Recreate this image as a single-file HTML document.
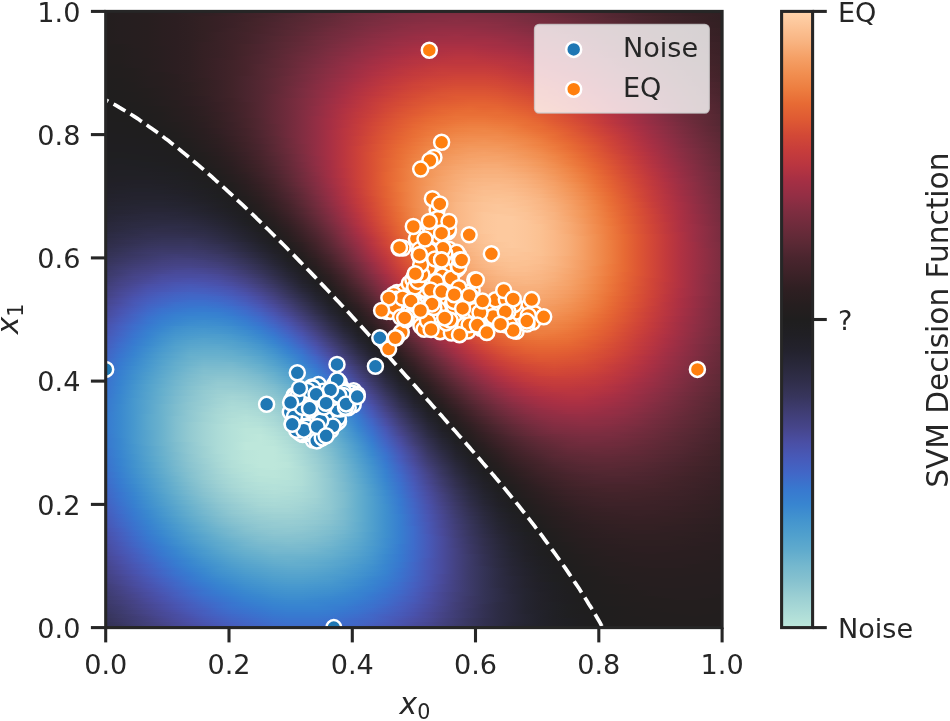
<!DOCTYPE html>
<html><head><meta charset="utf-8"><title>SVM Decision Function</title>
<style>
html,body{margin:0;padding:0;background:#fff}
body{width:950px;height:721px;position:relative;overflow:hidden}
#heat{position:absolute;left:106px;top:12px;width:616px;height:616px}
#heat i{display:block;height:2px}
</style></head><body>
<div id="heat"><i style="background:linear-gradient(90deg,#231e1e,#251e1f,#261e1f,#271e1f,#291e20,#2c1e21,#2f1f22,#311f23,#352024,#392126,#3d2228,#43232a,#48242c,#4d252f,#542732,#5a2834,#5f2936,#672a39,#6d2b3b,#702b3c,#752c3e,#782c3f,#7b2d40,#7e2d40,#7e2d40,#7e2d40,#7e2d40,#7e2d40,#7b2d40,#782c3f,#722c3d,#6d2b3b,#6a2b3a,#642a38,#5f2936,#5a2834,#522731,#4d252f,#48242c,#43232a,#3f2228,#3b2127,#372025,#332023,#311f23)"></i><i style="background:linear-gradient(90deg,#231e1e,#251e1f,#261e1f,#271e1f,#2a1e20,#2c1e21,#2f1f22,#311f23,#352024,#392126,#3f2228,#43232a,#48242c,#4f2630,#542732,#5c2935,#622937,#672a39,#6d2b3b,#722c3d,#782c3f,#7b2d40,#7e2d40,#812d41,#812d41,#812d41,#812d41,#7e2d40,#7b2d40,#782c3f,#752c3e,#702b3c,#6a2b3a,#642a38,#5f2936,#5a2834,#542732,#4f2630,#48242c,#43232a,#3f2228,#3b2127,#372025,#352024,#311f23)"></i><i style="background:linear-gradient(90deg,#231e1e,#251e1f,#261e1f,#271e1f,#2a1e20,#2c1e21,#2f1f22,#332023,#372025,#3b2127,#3f2228,#43232a,#4a252e,#4f2630,#572833,#5c2935,#622937,#6a2b3a,#702b3c,#752c3e,#782c3f,#7e2d40,#812d41,#812d41,#842d42,#842d42,#842d42,#812d41,#7e2d40,#7b2d40,#782c3f,#722c3d,#6d2b3b,#672a39,#622937,#5c2935,#542732,#4f2630,#4a252e,#46242b,#412329,#3d2228,#392126,#352024,#311f23)"></i><i style="background:linear-gradient(90deg,#231e1e,#251e1f,#261e1f,#271e1f,#2a1e20,#2c1e21,#2f1f22,#332023,#372025,#3b2127,#3f2228,#46242b,#4a252e,#522731,#572833,#5f2936,#642a38,#6a2b3a,#702b3c,#752c3e,#7b2d40,#7e2d40,#812d41,#842d42,#872d42,#872d42,#872d42,#842d42,#812d41,#7e2d40,#782c3f,#752c3e,#702b3c,#6a2b3a,#642a38,#5c2935,#572833,#522731,#4a252e,#46242b,#412329,#3d2228,#392126,#352024,#311f23)"></i><i style="background:linear-gradient(90deg,#231e1e,#251e1f,#261e1f,#271e1f,#2a1e20,#2c1e21,#2f1f22,#332023,#372025,#3b2127,#3f2228,#46242b,#4a252e,#522731,#572833,#5f2936,#642a38,#6d2b3b,#722c3d,#782c3f,#7e2d40,#812d41,#842d42,#872d42,#872d42,#8a2e43,#872d42,#872d42,#842d42,#812d41,#7b2d40,#782c3f,#722c3d,#6d2b3b,#642a38,#5f2936,#5a2834,#522731,#4d252f,#48242c,#412329,#3d2228,#392126,#352024,#332023)"></i><i style="background:linear-gradient(90deg,#231e1e,#251e1f,#261e1f,#271e1f,#2a1e20,#2c1e21,#2f1f22,#332023,#372025,#3b2127,#412329,#46242b,#4d252f,#522731,#5a2834,#5f2936,#672a39,#6d2b3b,#752c3e,#7b2d40,#7e2d40,#842d42,#872d42,#8a2e43,#8a2e43,#8a2e43,#8a2e43,#8a2e43,#872d42,#842d42,#7e2d40,#782c3f,#722c3d,#6d2b3b,#672a39,#622937,#5a2834,#542732,#4d252f,#48242c,#43232a,#3f2228,#3b2127,#372025,#332023)"></i><i style="background:linear-gradient(90deg,#231e1e,#251e1f,#261e1f,#271e1f,#2a1e20,#2c1e21,#2f1f22,#332023,#372025,#3b2127,#412329,#46242b,#4d252f,#542732,#5a2834,#622937,#672a39,#702b3c,#752c3e,#7b2d40,#812d41,#872d42,#8a2e43,#8d2e43,#8d2e43,#8d2e43,#8d2e43,#8d2e43,#8a2e43,#842d42,#812d41,#7b2d40,#752c3e,#702b3c,#6a2b3a,#622937,#5c2935,#542732,#4f2630,#4a252e,#43232a,#3f2228,#3b2127,#372025,#332023)"></i><i style="background:linear-gradient(90deg,#231e1e,#251e1f,#261e1f,#271e1f,#2a1e20,#2c1e21,#2f1f22,#332023,#372025,#3b2127,#412329,#48242c,#4d252f,#542732,#5c2935,#622937,#6a2b3a,#702b3c,#782c3f,#7e2d40,#842d42,#872d42,#8d2e43,#8d2e43,#902e44,#902e44,#902e44,#8d2e43,#8a2e43,#872d42,#842d42,#7e2d40,#782c3f,#722c3d,#6a2b3a,#642a38,#5c2935,#572833,#4f2630,#4a252e,#46242b,#3f2228,#3b2127,#372025,#332023)"></i><i style="background:linear-gradient(90deg,#231e1e,#251e1f,#261e1f,#271e1f,#2a1e20,#2c1e21,#2f1f22,#332023,#372025,#3d2228,#412329,#48242c,#4f2630,#542732,#5c2935,#642a38,#6d2b3b,#722c3d,#782c3f,#812d41,#842d42,#8a2e43,#8d2e43,#902e44,#932e44,#932e44,#932e44,#902e44,#8d2e43,#8a2e43,#872d42,#812d41,#7b2d40,#722c3d,#6d2b3b,#672a39,#5f2936,#572833,#522731,#4a252e,#46242b,#412329,#3d2228,#392126,#352024)"></i><i style="background:linear-gradient(90deg,#231e1e,#251e1f,#261e1f,#271e1f,#2a1e20,#2c1e21,#2f1f22,#332023,#372025,#3d2228,#412329,#48242c,#4f2630,#572833,#5c2935,#642a38,#6d2b3b,#752c3e,#7b2d40,#812d41,#872d42,#8d2e43,#902e44,#932e44,#962e44,#962e44,#962e44,#932e44,#902e44,#8d2e43,#872d42,#812d41,#7b2d40,#752c3e,#702b3c,#672a39,#622937,#5a2834,#522731,#4d252f,#46242b,#412329,#3d2228,#392126,#352024)"></i><i style="background:linear-gradient(90deg,#231e1e,#251e1f,#261e1f,#271e1f,#2a1e20,#2c1e21,#2f1f22,#332023,#392126,#3d2228,#43232a,#48242c,#4f2630,#572833,#5f2936,#672a39,#702b3c,#752c3e,#7e2d40,#842d42,#8a2e43,#902e44,#932e44,#962e44,#992e44,#992e44,#992e44,#962e44,#932e44,#902e44,#8a2e43,#842d42,#7e2d40,#782c3f,#702b3c,#6a2b3a,#622937,#5c2935,#542732,#4d252f,#48242c,#43232a,#3d2228,#392126,#352024)"></i><i style="background:linear-gradient(90deg,#231e1e,#251e1f,#261e1f,#271e1f,#2a1e20,#2c1e21,#2f1f22,#332023,#392126,#3d2228,#43232a,#4a252e,#4f2630,#572833,#5f2936,#672a39,#702b3c,#782c3f,#7e2d40,#872d42,#8d2e43,#902e44,#962e44,#992e44,#992e44,#9c2f45,#992e44,#992e44,#962e44,#932e44,#8d2e43,#872d42,#812d41,#7b2d40,#722c3d,#6d2b3b,#642a38,#5c2935,#542732,#4f2630,#48242c,#43232a,#3f2228,#392126,#352024)"></i><i style="background:linear-gradient(90deg,#231e1e,#251e1f,#261e1f,#271e1f,#2a1e20,#2c1e21,#2f1f22,#332023,#392126,#3d2228,#43232a,#4a252e,#522731,#5a2834,#622937,#6a2b3a,#722c3d,#782c3f,#812d41,#872d42,#8d2e43,#932e44,#992e44,#9c2f45,#9c2f45,#9f2f44,#9c2f45,#9c2f45,#992e44,#962e44,#902e44,#8a2e43,#842d42,#7b2d40,#752c3e,#6d2b3b,#672a39,#5f2936,#572833,#4f2630,#4a252e,#43232a,#3f2228,#3b2127,#372025)"></i><i style="background:linear-gradient(90deg,#231e1e,#251e1f,#261e1f,#271e1f,#2a1e20,#2c1e21,#2f1f22,#332023,#392126,#3d2228,#43232a,#4a252e,#522731,#5a2834,#622937,#6a2b3a,#722c3d,#7b2d40,#842d42,#8a2e43,#902e44,#962e44,#992e44,#9c2f45,#9f2f44,#9f2f44,#9f2f44,#9f2f44,#9c2f45,#962e44,#932e44,#8d2e43,#872d42,#7e2d40,#782c3f,#702b3c,#672a39,#5f2936,#5a2834,#522731,#4a252e,#46242b,#3f2228,#3b2127,#372025)"></i><i style="background:linear-gradient(90deg,#231e1e,#251e1f,#261e1f,#271e1f,#2a1e20,#2c1e21,#2f1f22,#332023,#392126,#3f2228,#43232a,#4a252e,#522731,#5a2834,#622937,#6d2b3b,#752c3e,#7b2d40,#842d42,#8d2e43,#932e44,#992e44,#9c2f45,#9f2f44,#a22f44,#a22f44,#a22f44,#a22f44,#9f2f44,#992e44,#962e44,#902e44,#872d42,#812d41,#782c3f,#722c3d,#6a2b3a,#622937,#5a2834,#522731,#4d252f,#46242b,#412329,#3b2127,#372025)"></i><i style="background:linear-gradient(90deg,#231e1e,#251e1f,#261e1f,#271e1f,#2a1e20,#2c1e21,#2f1f22,#352024,#392126,#3f2228,#43232a,#4a252e,#542732,#5c2935,#642a38,#6d2b3b,#752c3e,#7e2d40,#872d42,#8d2e43,#962e44,#9c2f45,#9f2f44,#a22f44,#a52f44,#a52f44,#a52f44,#a52f44,#a22f44,#9c2f45,#992e44,#932e44,#8a2e43,#842d42,#7b2d40,#722c3d,#6a2b3a,#642a38,#5c2935,#542732,#4d252f,#46242b,#412329,#3d2228,#392126)"></i><i style="background:linear-gradient(90deg,#231e1e,#231e1e,#261e1f,#271e1f,#2a1e20,#2c1e21,#2f1f22,#352024,#392126,#3f2228,#46242b,#4d252f,#542732,#5c2935,#642a38,#6d2b3b,#782c3f,#812d41,#872d42,#902e44,#962e44,#9c2f45,#a22f44,#a52f44,#a83044,#a83044,#a83044,#a52f44,#a22f44,#9f2f44,#992e44,#932e44,#8d2e43,#872d42,#7e2d40,#752c3e,#6d2b3b,#642a38,#5c2935,#542732,#4f2630,#48242c,#412329,#3d2228,#392126)"></i><i style="background:linear-gradient(90deg,#221e1e,#231e1e,#261e1f,#271e1f,#291e20,#2c1e21,#2f1f22,#352024,#392126,#3f2228,#46242b,#4d252f,#542732,#5c2935,#672a39,#702b3c,#782c3f,#812d41,#8a2e43,#932e44,#992e44,#9f2f44,#a52f44,#a83044,#ab3043,#ab3043,#ab3043,#a83044,#a52f44,#a22f44,#9c2f45,#962e44,#902e44,#872d42,#812d41,#782c3f,#702b3c,#672a39,#5f2936,#572833,#4f2630,#48242c,#43232a,#3d2228,#392126)"></i><i style="background:linear-gradient(90deg,#221e1e,#231e1e,#251e1f,#271e1f,#291e20,#2c1e21,#2f1f22,#352024,#392126,#3f2228,#46242b,#4d252f,#542732,#5f2936,#672a39,#702b3c,#7b2d40,#842d42,#8d2e43,#932e44,#9c2f45,#a22f44,#a83044,#ab3043,#ae3143,#ae3143,#ae3143,#ab3043,#a83044,#a52f44,#9f2f44,#992e44,#932e44,#8a2e43,#812d41,#782c3f,#702b3c,#672a39,#5f2936,#572833,#4f2630,#4a252e,#43232a,#3f2228,#392126)"></i><i style="background:linear-gradient(90deg,#221e1e,#231e1e,#251e1f,#271e1f,#291e20,#2c1e21,#2f1f22,#352024,#392126,#3f2228,#46242b,#4d252f,#572833,#5f2936,#672a39,#722c3d,#7b2d40,#842d42,#8d2e43,#962e44,#9f2f44,#a52f44,#a83044,#ae3143,#ae3143,#b13242,#b13242,#ae3143,#ab3043,#a83044,#a22f44,#9c2f45,#962e44,#8d2e43,#842d42,#7b2d40,#722c3d,#6a2b3a,#622937,#5a2834,#522731,#4a252e,#43232a,#3f2228,#3b2127)"></i><i style="background:linear-gradient(90deg,#221e1e,#231e1e,#251e1f,#271e1f,#291e20,#2c1e21,#2f1f22,#352024,#392126,#3f2228,#46242b,#4d252f,#572833,#5f2936,#6a2b3a,#722c3d,#7e2d40,#872d42,#902e44,#992e44,#9f2f44,#a52f44,#ab3043,#b13242,#b13242,#b33341,#b33341,#b13242,#ae3143,#ab3043,#a52f44,#9f2f44,#962e44,#902e44,#872d42,#7e2d40,#752c3e,#6d2b3b,#622937,#5a2834,#522731,#4d252f,#46242b,#3f2228,#3b2127)"></i><i style="background:linear-gradient(90deg,#221e1e,#231e1e,#251e1f,#271e1f,#291e20,#2c1e21,#2f1f22,#352024,#392126,#3f2228,#46242b,#4f2630,#572833,#622937,#6a2b3a,#752c3e,#7e2d40,#872d42,#932e44,#992e44,#a22f44,#a83044,#ae3143,#b13242,#b33341,#b63441,#b63441,#b33341,#b13242,#ae3143,#a83044,#a22f44,#992e44,#932e44,#8a2e43,#812d41,#752c3e,#6d2b3b,#642a38,#5c2935,#542732,#4d252f,#46242b,#412329,#3b2127)"></i><i style="background:linear-gradient(90deg,#221e1e,#231e1e,#251e1f,#271e1f,#291e20,#2c1e21,#2f1f22,#352024,#392126,#3f2228,#48242c,#4f2630,#572833,#622937,#6d2b3b,#752c3e,#812d41,#8a2e43,#932e44,#9c2f45,#a52f44,#ab3043,#b13242,#b33341,#b63441,#b93540,#b93540,#b63441,#b33341,#b13242,#ab3043,#a52f44,#9c2f45,#932e44,#8a2e43,#812d41,#782c3f,#702b3c,#672a39,#5c2935,#542732,#4d252f,#48242c,#412329,#3d2228)"></i><i style="background:linear-gradient(90deg,#221e1e,#231e1e,#251e1f,#261e1f,#291e20,#2c1e21,#2f1f22,#352024,#3b2127,#3f2228,#48242c,#4f2630,#5a2834,#622937,#6d2b3b,#782c3f,#812d41,#8d2e43,#962e44,#9f2f44,#a83044,#ae3143,#b33341,#b63441,#b93540,#bb363f,#bb363f,#b93540,#b63441,#b33341,#ae3143,#a83044,#9f2f44,#962e44,#8d2e43,#842d42,#7b2d40,#722c3d,#672a39,#5f2936,#572833,#4f2630,#48242c,#412329,#3d2228)"></i><i style="background:linear-gradient(90deg,#221e1e,#231e1e,#251e1f,#261e1f,#291e20,#2c1e21,#2f1f22,#352024,#3b2127,#412329,#48242c,#4f2630,#5a2834,#642a38,#6d2b3b,#782c3f,#842d42,#8d2e43,#962e44,#a22f44,#a83044,#b13242,#b63441,#b93540,#bb363f,#be373e,#be373e,#bb363f,#b93540,#b63441,#b13242,#a83044,#a22f44,#992e44,#902e44,#872d42,#7e2d40,#722c3d,#6a2b3a,#622937,#572833,#4f2630,#48242c,#43232a,#3d2228)"></i><i style="background:linear-gradient(90deg,#221e1e,#231e1e,#251e1f,#261e1f,#291e20,#2c1e21,#2f1f22,#352024,#3b2127,#412329,#48242c,#4f2630,#5a2834,#642a38,#702b3c,#782c3f,#842d42,#902e44,#992e44,#a22f44,#ab3043,#b13242,#b63441,#bb363f,#be373e,#be373e,#be373e,#be373e,#bb363f,#b93540,#b33341,#ab3043,#a52f44,#9c2f45,#932e44,#8a2e43,#7e2d40,#752c3e,#6a2b3a,#622937,#5a2834,#522731,#4a252e,#43232a,#3d2228)"></i><i style="background:linear-gradient(90deg,#221e1e,#221e1e,#251e1f,#261e1f,#291e20,#2c1e21,#2f1f22,#352024,#3b2127,#412329,#48242c,#522731,#5a2834,#642a38,#702b3c,#7b2d40,#872d42,#902e44,#9c2f45,#a52f44,#ae3143,#b33341,#b93540,#be373e,#c0393d,#c0393d,#c0393d,#c0393d,#be373e,#b93540,#b63441,#ae3143,#a83044,#9f2f44,#962e44,#8a2e43,#812d41,#752c3e,#6d2b3b,#642a38,#5a2834,#522731,#4a252e,#43232a,#3f2228)"></i><i style="background:linear-gradient(90deg,#211e1e,#221e1e,#251e1f,#261e1f,#291e20,#2c1e21,#2f1f22,#352024,#3b2127,#412329,#48242c,#522731,#5a2834,#642a38,#702b3c,#7b2d40,#872d42,#932e44,#9c2f45,#a83044,#ae3143,#b63441,#bb363f,#c0393d,#c33a3c,#c33a3c,#c33a3c,#c33a3c,#c0393d,#bb363f,#b93540,#b13242,#ab3043,#a22f44,#962e44,#8d2e43,#842d42,#782c3f,#702b3c,#642a38,#5c2935,#542732,#4d252f,#46242b,#3f2228)"></i><i style="background:linear-gradient(90deg,#211e1e,#221e1e,#231e1e,#261e1f,#291e20,#2c1e21,#2f1f22,#352024,#3b2127,#412329,#48242c,#522731,#5c2935,#672a39,#722c3d,#7e2d40,#8a2e43,#932e44,#9f2f44,#a83044,#b13242,#b93540,#be373e,#c33a3c,#c53c3c,#c53c3c,#c53c3c,#c53c3c,#c33a3c,#be373e,#b93540,#b33341,#ab3043,#a22f44,#992e44,#902e44,#842d42,#7b2d40,#702b3c,#672a39,#5c2935,#542732,#4d252f,#46242b,#3f2228)"></i><i style="background:linear-gradient(90deg,#211e1e,#221e1e,#231e1e,#261e1f,#291e20,#2c1e21,#2f1f22,#352024,#3b2127,#412329,#48242c,#522731,#5c2935,#672a39,#722c3d,#7e2d40,#8a2e43,#962e44,#a22f44,#ab3043,#b33341,#bb363f,#c0393d,#c33a3c,#c73d3b,#c73d3b,#c73d3b,#c73d3b,#c53c3c,#c0393d,#bb363f,#b63441,#ae3143,#a52f44,#9c2f45,#932e44,#872d42,#7b2d40,#722c3d,#672a39,#5f2936,#572833,#4d252f,#46242b,#412329)"></i><i style="background:linear-gradient(90deg,#211e1e,#221e1e,#231e1e,#261e1f,#271e1f,#2c1e21,#2f1f22,#352024,#3b2127,#412329,#48242c,#522731,#5c2935,#672a39,#722c3d,#7e2d40,#8a2e43,#962e44,#a22f44,#ae3143,#b63441,#bb363f,#c33a3c,#c53c3c,#c93f3a,#c93f3a,#c93f3a,#c93f3a,#c73d3b,#c33a3c,#be373e,#b93540,#b13242,#a83044,#9f2f44,#932e44,#8a2e43,#7e2d40,#722c3d,#6a2b3a,#5f2936,#572833,#4f2630,#48242c,#412329)"></i><i style="background:linear-gradient(90deg,#211e1e,#221e1e,#231e1e,#261e1f,#271e1f,#2a1e20,#2f1f22,#352024,#3b2127,#412329,#48242c,#522731,#5c2935,#672a39,#752c3e,#812d41,#8d2e43,#992e44,#a52f44,#ae3143,#b63441,#be373e,#c33a3c,#c73d3b,#c93f3a,#cc4139,#cc4139,#cc4139,#c93f3a,#c53c3c,#c0393d,#bb363f,#b33341,#ab3043,#a22f44,#962e44,#8d2e43,#812d41,#752c3e,#6a2b3a,#622937,#572833,#4f2630,#48242c,#412329)"></i><i style="background:linear-gradient(90deg,#211e1e,#221e1e,#231e1e,#251e1f,#271e1f,#2a1e20,#2f1f22,#352024,#3b2127,#412329,#4a252e,#522731,#5c2935,#6a2b3a,#752c3e,#812d41,#8d2e43,#992e44,#a52f44,#b13242,#b93540,#c0393d,#c53c3c,#c93f3a,#cc4139,#ce4338,#ce4338,#ce4338,#cc4139,#c73d3b,#c33a3c,#be373e,#b63441,#ae3143,#a52f44,#992e44,#8d2e43,#812d41,#782c3f,#6d2b3b,#622937,#5a2834,#522731,#48242c,#43232a)"></i><i style="background:linear-gradient(90deg,#211e1e,#211e1e,#231e1e,#251e1f,#271e1f,#2a1e20,#2f1f22,#332023,#3b2127,#412329,#4a252e,#522731,#5f2936,#6a2b3a,#752c3e,#812d41,#902e44,#9c2f45,#a83044,#b33341,#bb363f,#c33a3c,#c73d3b,#cc4139,#ce4338,#d04537,#d04537,#d04537,#ce4338,#c93f3a,#c53c3c,#c0393d,#b93540,#b13242,#a52f44,#9c2f45,#902e44,#842d42,#782c3f,#702b3c,#642a38,#5a2834,#522731,#4a252e,#43232a)"></i><i style="background:linear-gradient(90deg,#201e1e,#211e1e,#231e1e,#251e1f,#271e1f,#2a1e20,#2f1f22,#332023,#392126,#412329,#4a252e,#542732,#5f2936,#6a2b3a,#752c3e,#842d42,#902e44,#9c2f45,#a83044,#b33341,#be373e,#c33a3c,#c93f3a,#ce4338,#d04537,#d24737,#d24737,#d24737,#d04537,#cc4139,#c73d3b,#c33a3c,#bb363f,#b33341,#a83044,#9f2f44,#932e44,#872d42,#7b2d40,#702b3c,#642a38,#5c2935,#522731,#4a252e,#43232a)"></i><i style="background:linear-gradient(90deg,#201e1e,#211e1e,#221e1e,#251e1f,#271e1f,#2a1e20,#2d1f21,#332023,#392126,#412329,#4a252e,#542732,#5f2936,#6a2b3a,#782c3f,#842d42,#932e44,#9f2f44,#ab3043,#b63441,#be373e,#c53c3c,#cc4139,#d04537,#d24737,#d34936,#d34936,#d34936,#d24737,#ce4338,#c93f3a,#c53c3c,#be373e,#b63441,#ab3043,#9f2f44,#932e44,#8a2e43,#7e2d40,#722c3d,#672a39,#5c2935,#542732,#4d252f,#46242b)"></i><i style="background:linear-gradient(90deg,#201e1e,#211e1e,#221e1e,#251e1f,#271e1f,#2a1e20,#2d1f21,#332023,#392126,#412329,#4a252e,#542732,#5f2936,#6a2b3a,#782c3f,#872d42,#932e44,#9f2f44,#ae3143,#b63441,#c0393d,#c73d3b,#ce4338,#d24737,#d34936,#d54b35,#d54b35,#d54b35,#d34936,#d04537,#cc4139,#c73d3b,#c0393d,#b63441,#ae3143,#a22f44,#962e44,#8a2e43,#7e2d40,#722c3d,#672a39,#5f2936,#542732,#4d252f,#46242b)"></i><i style="background:linear-gradient(90deg,#201e1e,#211e1e,#221e1e,#251e1f,#261e1f,#2a1e20,#2d1f21,#332023,#392126,#412329,#4a252e,#542732,#5f2936,#6d2b3b,#782c3f,#872d42,#932e44,#a22f44,#ae3143,#b93540,#c33a3c,#c93f3a,#ce4338,#d24737,#d54b35,#d74e35,#d74e35,#d74e35,#d54b35,#d24737,#ce4338,#c93f3a,#c33a3c,#b93540,#b13242,#a52f44,#992e44,#8d2e43,#812d41,#752c3e,#6a2b3a,#5f2936,#572833,#4d252f,#46242b)"></i><i style="background:linear-gradient(90deg,#201e1e,#211e1e,#221e1e,#231e1e,#261e1f,#291e20,#2d1f21,#332023,#392126,#412329,#4a252e,#542732,#5f2936,#6d2b3b,#7b2d40,#872d42,#962e44,#a22f44,#b13242,#bb363f,#c33a3c,#c93f3a,#d04537,#d34936,#d74e35,#d95034,#d95034,#d95034,#d74e35,#d34936,#d04537,#cc4139,#c53c3c,#bb363f,#b33341,#a83044,#9c2f45,#902e44,#842d42,#752c3e,#6d2b3b,#622937,#572833,#4f2630,#48242c)"></i><i style="background:linear-gradient(90deg,#1f1e1e,#201e1e,#221e1e,#231e1e,#261e1f,#291e20,#2d1f21,#332023,#392126,#412329,#4a252e,#542732,#5f2936,#6d2b3b,#7b2d40,#8a2e43,#962e44,#a52f44,#b13242,#bb363f,#c53c3c,#cc4139,#d24737,#d54b35,#d95034,#da5334,#da5334,#da5334,#d95034,#d54b35,#d24737,#ce4338,#c73d3b,#be373e,#b33341,#ab3043,#9c2f45,#902e44,#842d42,#782c3f,#6d2b3b,#622937,#5a2834,#4f2630,#48242c)"></i><i style="background:linear-gradient(90deg,#1f1e1e,#201e1e,#211e1e,#231e1e,#261e1f,#291e20,#2d1f21,#332023,#392126,#412329,#4a252e,#542732,#5f2936,#6d2b3b,#7b2d40,#8a2e43,#992e44,#a52f44,#b33341,#be373e,#c73d3b,#ce4338,#d34936,#d74e35,#da5334,#dc5534,#dc5534,#dc5534,#da5334,#d74e35,#d34936,#ce4338,#c73d3b,#c0393d,#b63441,#ab3043,#9f2f44,#932e44,#872d42,#7b2d40,#702b3c,#642a38,#5a2834,#4f2630,#48242c)"></i><i style="background:linear-gradient(90deg,#1f1e1e,#201e1e,#211e1e,#231e1e,#261e1f,#291e20,#2d1f21,#332023,#392126,#412329,#4a252e,#542732,#622937,#6d2b3b,#7b2d40,#8a2e43,#992e44,#a83044,#b33341,#be373e,#c73d3b,#d04537,#d54b35,#d95034,#dc5534,#de5733,#de5733,#de5733,#dc5534,#d95034,#d54b35,#d04537,#c93f3a,#c33a3c,#b93540,#ae3143,#a22f44,#962e44,#872d42,#7b2d40,#702b3c,#642a38,#5a2834,#522731,#48242c)"></i><i style="background:linear-gradient(90deg,#1f1e1e,#201e1e,#211e1e,#231e1e,#251e1f,#291e20,#2c1e21,#311f23,#392126,#412329,#4a252e,#542732,#622937,#6d2b3b,#7b2d40,#8a2e43,#992e44,#a83044,#b63441,#c0393d,#c93f3a,#d04537,#d54b35,#da5334,#dc5534,#df5a33,#df5a33,#df5a33,#de5733,#da5334,#d74e35,#d24737,#cc4139,#c53c3c,#bb363f,#b13242,#a52f44,#962e44,#8a2e43,#7e2d40,#722c3d,#672a39,#5c2935,#522731,#4a252e)"></i><i style="background:linear-gradient(90deg,#1f1e1e,#201e1e,#211e1e,#221e1e,#251e1f,#291e20,#2c1e21,#311f23,#392126,#3f2228,#4a252e,#542732,#622937,#702b3c,#7e2d40,#8d2e43,#9c2f45,#ab3043,#b63441,#c33a3c,#cc4139,#d24737,#d74e35,#dc5534,#de5733,#df5a33,#e15c33,#e15c33,#df5a33,#dc5534,#d95034,#d34936,#ce4338,#c73d3b,#be373e,#b33341,#a52f44,#992e44,#8d2e43,#7e2d40,#722c3d,#672a39,#5c2935,#542732,#4a252e)"></i><i style="background:linear-gradient(90deg,#1f1e1e,#1f1e1e,#211e1e,#221e1e,#251e1f,#271e1f,#2c1e21,#311f23,#392126,#3f2228,#4a252e,#542732,#622937,#702b3c,#7e2d40,#8d2e43,#9c2f45,#ab3043,#b93540,#c33a3c,#cc4139,#d34936,#d95034,#dc5534,#df5a33,#e15c33,#e25f33,#e25f33,#e15c33,#de5733,#da5334,#d54b35,#d04537,#c93f3a,#c0393d,#b63441,#a83044,#9c2f45,#8d2e43,#812d41,#752c3e,#6a2b3a,#5f2936,#542732,#4a252e)"></i><i style="background:linear-gradient(90deg,#1f1e1e,#1f1e1e,#201e1e,#221e1e,#251e1f,#271e1f,#2c1e21,#311f23,#372025,#3f2228,#48242c,#542732,#622937,#702b3c,#7e2d40,#8d2e43,#9c2f45,#ab3043,#b93540,#c53c3c,#ce4338,#d54b35,#da5334,#de5733,#e15c33,#e25f33,#e36233,#e36233,#e25f33,#df5a33,#dc5534,#d74e35,#d24737,#c93f3a,#c33a3c,#b63441,#ab3043,#9f2f44,#902e44,#842d42,#752c3e,#6a2b3a,#5f2936,#542732,#4d252f)"></i><i style="background:linear-gradient(90deg,#1f1e1e,#1f1e1e,#201e1e,#221e1e,#251e1f,#271e1f,#2c1e21,#311f23,#372025,#3f2228,#48242c,#542732,#622937,#702b3c,#7e2d40,#8d2e43,#9f2f44,#ae3143,#bb363f,#c53c3c,#d04537,#d54b35,#da5334,#df5a33,#e25f33,#e36233,#e56433,#e56433,#e36233,#e15c33,#de5733,#d95034,#d34936,#cc4139,#c33a3c,#b93540,#ae3143,#9f2f44,#932e44,#842d42,#782c3f,#6d2b3b,#5f2936,#572833,#4d252f)"></i><i style="background:linear-gradient(90deg,#1f1e1e,#1f1e1e,#201e1e,#211e1e,#231e1e,#271e1f,#2a1e20,#2f1f22,#372025,#3f2228,#48242c,#542732,#622937,#702b3c,#7e2d40,#902e44,#9f2f44,#ae3143,#bb363f,#c73d3b,#d04537,#d74e35,#dc5534,#e15c33,#e36233,#e56433,#e66734,#e56433,#e56433,#e25f33,#df5a33,#da5334,#d54b35,#ce4338,#c53c3c,#bb363f,#ae3143,#a22f44,#932e44,#872d42,#782c3f,#6d2b3b,#622937,#572833,#4d252f)"></i><i style="background:linear-gradient(90deg,#1f1e1e,#1f1e1e,#201e1e,#211e1e,#231e1e,#261e1f,#2a1e20,#2f1f22,#372025,#3f2228,#48242c,#542732,#622937,#702b3c,#7e2d40,#902e44,#9f2f44,#b13242,#be373e,#c73d3b,#d24737,#d95034,#de5733,#e25f33,#e56433,#e66734,#e76a34,#e66734,#e66734,#e36233,#e15c33,#dc5534,#d74e35,#d04537,#c73d3b,#be373e,#b13242,#a52f44,#962e44,#872d42,#7b2d40,#6d2b3b,#622937,#572833,#4f2630)"></i><i style="background:linear-gradient(90deg,#1f1e1e,#1f1e1e,#1f1e1e,#211e1e,#231e1e,#261e1f,#2a1e20,#2f1f22,#372025,#3f2228,#48242c,#542732,#622937,#702b3c,#812d41,#902e44,#a22f44,#b13242,#be373e,#c93f3a,#d24737,#d95034,#df5a33,#e25f33,#e66734,#e76a34,#e86d35,#e76a34,#e76a34,#e56433,#e25f33,#de5733,#d95034,#d24737,#c93f3a,#c0393d,#b33341,#a52f44,#992e44,#8a2e43,#7b2d40,#702b3c,#642a38,#5a2834,#4f2630)"></i><i style="background:linear-gradient(90deg,#1f1e1e,#1f1e1e,#1f1e1e,#211e1e,#221e1e,#261e1f,#2a1e20,#2f1f22,#352024,#3d2228,#48242c,#542732,#622937,#702b3c,#812d41,#902e44,#a22f44,#b13242,#c0393d,#c93f3a,#d34936,#da5334,#df5a33,#e36233,#e66734,#e86d35,#e86d35,#e86d35,#e86d35,#e66734,#e36233,#df5a33,#da5334,#d34936,#cc4139,#c0393d,#b63441,#a83044,#992e44,#8d2e43,#7e2d40,#702b3c,#642a38,#5a2834,#4f2630)"></i><i style="background:linear-gradient(90deg,#1f1e1e,#1f1e1e,#1f1e1e,#201e1e,#221e1e,#261e1f,#291e20,#2f1f22,#352024,#3d2228,#48242c,#542732,#622937,#702b3c,#812d41,#902e44,#a22f44,#b33341,#c0393d,#cc4139,#d54b35,#dc5534,#e15c33,#e56433,#e76a34,#e96f36,#e96f36,#e96f36,#e86d35,#e76a34,#e56433,#e15c33,#dc5534,#d54b35,#ce4338,#c33a3c,#b63441,#ab3043,#9c2f45,#8d2e43,#7e2d40,#722c3d,#672a39,#5c2935,#522731)"></i><i style="background:linear-gradient(90deg,#1f1e1e,#1f1e1e,#1f1e1e,#201e1e,#221e1e,#251e1f,#291e20,#2d1f21,#352024,#3d2228,#48242c,#542732,#622937,#702b3c,#812d41,#932e44,#a22f44,#b33341,#c0393d,#cc4139,#d54b35,#dc5534,#e25f33,#e66734,#e86d35,#ea7238,#ea7238,#ea7238,#e96f36,#e86d35,#e66734,#e25f33,#de5733,#d74e35,#ce4338,#c53c3c,#b93540,#ab3043,#9f2f44,#902e44,#812d41,#722c3d,#672a39,#5c2935,#522731)"></i><i style="background:linear-gradient(90deg,#1f1e1f,#1f1e1e,#1f1e1e,#201e1e,#221e1e,#251e1f,#291e20,#2d1f21,#352024,#3d2228,#46242b,#522731,#622937,#702b3c,#812d41,#932e44,#a52f44,#b33341,#c33a3c,#ce4338,#d74e35,#de5733,#e36233,#e76a34,#e96f36,#ea7238,#eb753a,#eb753a,#ea7238,#e96f36,#e76a34,#e36233,#de5733,#d95034,#d04537,#c73d3b,#bb363f,#ae3143,#9f2f44,#902e44,#812d41,#752c3e,#672a39,#5c2935,#522731)"></i><i style="background:linear-gradient(90deg,#1f1e1f,#1f1e1e,#1f1e1e,#1f1e1e,#211e1e,#251e1f,#271e1f,#2d1f21,#332023,#3d2228,#46242b,#522731,#622937,#702b3c,#812d41,#932e44,#a52f44,#b63441,#c33a3c,#ce4338,#d74e35,#df5a33,#e36233,#e76a34,#ea7238,#eb753a,#ec783b,#ec783b,#eb753a,#ea7238,#e86d35,#e56433,#df5a33,#d95034,#d24737,#c93f3a,#be373e,#b13242,#a22f44,#932e44,#842d42,#752c3e,#6a2b3a,#5f2936,#542732)"></i><i style="background:linear-gradient(90deg,#1f1e1f,#1f1e1f,#1f1e1e,#1f1e1e,#211e1e,#231e1e,#271e1f,#2c1e21,#332023,#3b2127,#46242b,#522731,#622937,#702b3c,#812d41,#932e44,#a52f44,#b63441,#c33a3c,#d04537,#d95034,#df5a33,#e56433,#e86d35,#ea7238,#ec783b,#ed7b3e,#ed7b3e,#ec783b,#eb753a,#e96f36,#e66734,#e15c33,#da5334,#d34936,#c93f3a,#be373e,#b13242,#a22f44,#932e44,#872d42,#782c3f,#6a2b3a,#5f2936,#542732)"></i><i style="background:linear-gradient(90deg,#1f1e1f,#1f1e1f,#1f1e1e,#1f1e1e,#211e1e,#231e1e,#271e1f,#2c1e21,#332023,#3b2127,#46242b,#522731,#5f2936,#702b3c,#812d41,#932e44,#a52f44,#b63441,#c53c3c,#d04537,#d95034,#e15c33,#e66734,#e96f36,#eb753a,#ed7b3e,#ed7e40,#ed7e40,#ed7b3e,#ec783b,#e96f36,#e76a34,#e25f33,#dc5534,#d54b35,#cc4139,#c0393d,#b33341,#a52f44,#962e44,#872d42,#782c3f,#6d2b3b,#5f2936,#542732)"></i><i style="background:linear-gradient(90deg,#1f1e1f,#1f1e1f,#1f1e1e,#1f1e1e,#201e1e,#231e1e,#261e1f,#2c1e21,#332023,#3b2127,#46242b,#522731,#5f2936,#702b3c,#812d41,#932e44,#a52f44,#b63441,#c53c3c,#d24737,#da5334,#e15c33,#e66734,#ea7238,#ec783b,#ed7e40,#ee8142,#ee8142,#ed7e40,#ed7b3e,#ea7238,#e86d35,#e36233,#de5733,#d74e35,#ce4338,#c33a3c,#b63441,#a83044,#992e44,#8a2e43,#7b2d40,#6d2b3b,#622937,#572833)"></i><i style="background:linear-gradient(90deg,#1f1e1f,#1f1e1f,#1f1e1f,#1f1e1e,#201e1e,#221e1e,#261e1f,#2a1e20,#311f23,#3b2127,#43232a,#522731,#5f2936,#702b3c,#812d41,#932e44,#a52f44,#b93540,#c53c3c,#d24737,#da5334,#e25f33,#e76a34,#ea7238,#ed7b3e,#ee8142,#ef8445,#ef8445,#ee8142,#ed7e40,#eb753a,#e86d35,#e56433,#df5a33,#d74e35,#d04537,#c53c3c,#b93540,#a83044,#992e44,#8a2e43,#7b2d40,#702b3c,#622937,#572833)"></i><i style="background:linear-gradient(90deg,#1f1e1f,#1f1e1f,#1f1e1f,#1f1e1e,#1f1e1e,#221e1e,#261e1f,#2a1e20,#311f23,#392126,#43232a,#4f2630,#5f2936,#702b3c,#812d41,#932e44,#a83044,#b93540,#c73d3b,#d24737,#dc5534,#e25f33,#e86d35,#eb753a,#ed7e40,#ee8142,#ef8445,#ef8748,#ef8445,#ed7e40,#ec783b,#e96f36,#e66734,#e15c33,#d95034,#d04537,#c53c3c,#b93540,#ab3043,#9c2f45,#8d2e43,#7e2d40,#702b3c,#622937,#572833)"></i><i style="background:linear-gradient(90deg,#1f1e20,#1f1e1f,#1f1e1f,#1f1e1e,#1f1e1e,#211e1e,#251e1f,#2a1e20,#311f23,#392126,#43232a,#4f2630,#5f2936,#702b3c,#812d41,#932e44,#a83044,#b93540,#c73d3b,#d34936,#dc5534,#e36233,#e86d35,#ec783b,#ed7e40,#ef8445,#ef8748,#ef8748,#ef8748,#ee8142,#ed7b3e,#ea7238,#e76a34,#e25f33,#da5334,#d24737,#c73d3b,#bb363f,#ae3143,#9c2f45,#8d2e43,#7e2d40,#702b3c,#642a38,#5a2834)"></i><i style="background:linear-gradient(90deg,#1f1e20,#1f1e20,#1f1e1f,#1f1e1e,#1f1e1e,#211e1e,#251e1f,#291e20,#2f1f22,#392126,#43232a,#4f2630,#5f2936,#702b3c,#812d41,#932e44,#a83044,#b93540,#c73d3b,#d34936,#de5733,#e36233,#e96f36,#ec783b,#ee8142,#ef8748,#f0894b,#f0894b,#f0894b,#ef8445,#ed7e40,#eb753a,#e86d35,#e25f33,#dc5534,#d34936,#c93f3a,#be373e,#ae3143,#9f2f44,#902e44,#812d41,#722c3d,#642a38,#5a2834)"></i><i style="background:linear-gradient(90deg,#1f1e20,#1f1e20,#1f1e1f,#1f1e1f,#1f1e1e,#211e1e,#251e1f,#291e20,#2f1f22,#372025,#412329,#4f2630,#5c2935,#702b3c,#812d41,#932e44,#a83044,#b93540,#c93f3a,#d54b35,#de5733,#e56433,#e96f36,#ed7b3e,#ef8445,#f0894b,#f18c4e,#f18c4e,#f18c4e,#ef8748,#ee8142,#ec783b,#e86d35,#e36233,#de5733,#d54b35,#cc4139,#be373e,#b13242,#9f2f44,#902e44,#812d41,#722c3d,#672a39,#5a2834)"></i><i style="background:linear-gradient(90deg,#1f1e20,#1f1e20,#1f1e20,#1f1e1f,#1f1e1e,#201e1e,#231e1e,#291e20,#2d1f21,#372025,#412329,#4d252f,#5c2935,#6d2b3b,#812d41,#932e44,#a83044,#b93540,#c93f3a,#d54b35,#de5733,#e56433,#ea7238,#ed7e40,#ef8445,#f18c4e,#f18f51,#f18f51,#f18c4e,#f0894b,#ef8445,#ed7b3e,#e96f36,#e56433,#df5a33,#d74e35,#cc4139,#c0393d,#b13242,#a22f44,#932e44,#842d42,#752c3e,#672a39,#5c2935)"></i><i style="background:linear-gradient(90deg,#1f1e20,#1f1e20,#1f1e20,#1f1e1f,#1f1e1e,#201e1e,#231e1e,#271e1f,#2d1f21,#372025,#412329,#4d252f,#5c2935,#6d2b3b,#812d41,#932e44,#a83044,#bb363f,#c93f3a,#d54b35,#df5a33,#e66734,#ea7238,#ed7e40,#ef8748,#f18c4e,#f18f51,#f29255,#f18f51,#f18c4e,#ef8748,#ed7e40,#ea7238,#e66734,#df5a33,#d74e35,#ce4338,#c33a3c,#b33341,#a52f44,#932e44,#842d42,#752c3e,#672a39,#5c2935)"></i><i style="background:linear-gradient(90deg,#1f1e21,#1f1e20,#1f1e20,#1f1e1f,#1f1e1e,#1f1e1e,#221e1e,#271e1f,#2d1f21,#352024,#3f2228,#4d252f,#5c2935,#6d2b3b,#812d41,#932e44,#a83044,#bb363f,#c93f3a,#d54b35,#df5a33,#e66734,#eb753a,#ee8142,#f0894b,#f18f51,#f29255,#f29558,#f29255,#f18f51,#f0894b,#ee8142,#eb753a,#e76a34,#e15c33,#d95034,#d04537,#c33a3c,#b63441,#a52f44,#962e44,#842d42,#752c3e,#6a2b3a,#5c2935)"></i><i style="background:linear-gradient(90deg,#1f1e21,#1f1e21,#1f1e20,#1f1e20,#1f1e1f,#1f1e1e,#221e1e,#261e1f,#2c1e21,#352024,#3f2228,#4a252e,#5a2834,#6d2b3b,#7e2d40,#932e44,#a83044,#bb363f,#c93f3a,#d74e35,#e15c33,#e76a34,#eb753a,#ee8142,#f0894b,#f29255,#f29558,#f29558,#f29558,#f29255,#f0894b,#ee8142,#ec783b,#e86d35,#e25f33,#da5334,#d04537,#c53c3c,#b63441,#a83044,#962e44,#872d42,#782c3f,#6a2b3a,#5f2936)"></i><i style="background:linear-gradient(90deg,#1f1e21,#1f1e21,#1f1e21,#1f1e20,#1f1e1f,#1f1e1e,#211e1e,#261e1f,#2c1e21,#332023,#3f2228,#4a252e,#5a2834,#6d2b3b,#7e2d40,#932e44,#a83044,#bb363f,#cc4139,#d74e35,#e15c33,#e76a34,#ec783b,#ef8445,#f18c4e,#f29255,#f3985b,#f3985b,#f3985b,#f29255,#f18c4e,#ef8445,#ed7b3e,#e86d35,#e36233,#dc5534,#d24737,#c73d3b,#b93540,#a83044,#992e44,#872d42,#782c3f,#6a2b3a,#5f2936)"></i><i style="background:linear-gradient(90deg,#1f1e21,#1f1e21,#1f1e21,#1f1e20,#1f1e1f,#1f1e1e,#211e1e,#251e1f,#2a1e20,#332023,#3d2228,#4a252e,#5a2834,#6a2b3a,#7e2d40,#932e44,#a83044,#bb363f,#cc4139,#d74e35,#e15c33,#e86d35,#ec783b,#ef8748,#f18f51,#f29558,#f39a5f,#f39a5f,#f39a5f,#f29558,#f18f51,#ef8748,#ed7b3e,#e96f36,#e36233,#dc5534,#d34936,#c73d3b,#b93540,#ab3043,#992e44,#8a2e43,#7b2d40,#6d2b3b,#5f2936)"></i><i style="background:linear-gradient(90deg,#1f1e21,#1f1e21,#1f1e21,#1f1e21,#1f1e20,#1f1e1e,#201e1e,#251e1f,#2a1e20,#332023,#3d2228,#48242c,#5a2834,#6a2b3a,#7e2d40,#932e44,#a83044,#bb363f,#cc4139,#d74e35,#e25f33,#e86d35,#ed7b3e,#ef8748,#f18f51,#f3985b,#f39a5f,#f49d63,#f39a5f,#f3985b,#f29255,#f0894b,#ed7e40,#ea7238,#e56433,#de5733,#d34936,#c93f3a,#bb363f,#ab3043,#9c2f45,#8a2e43,#7b2d40,#6d2b3b,#5f2936)"></i><i style="background:linear-gradient(90deg,#1f1f21,#1f1f21,#1f1e21,#1f1e21,#1f1e20,#1f1e1f,#201e1e,#231e1e,#291e20,#311f23,#3b2127,#48242c,#572833,#6a2b3a,#7e2d40,#932e44,#a83044,#bb363f,#cc4139,#d95034,#e25f33,#e86d35,#ed7b3e,#f0894b,#f29255,#f3985b,#f49d63,#f5a066,#f49d63,#f39a5f,#f29558,#f18c4e,#ee8142,#eb753a,#e66734,#df5a33,#d54b35,#c93f3a,#be373e,#ae3143,#9c2f45,#8d2e43,#7b2d40,#6d2b3b,#622937)"></i><i style="background:linear-gradient(90deg,#1f1f21,#1f1f21,#1f1f21,#1f1e21,#1f1e20,#1f1e1f,#1f1e1e,#231e1e,#291e20,#311f23,#3b2127,#48242c,#572833,#672a39,#7b2d40,#932e44,#a83044,#bb363f,#cc4139,#d95034,#e25f33,#e96f36,#ed7e40,#f0894b,#f29558,#f39a5f,#f5a066,#f5a066,#f5a066,#f49d63,#f29558,#f18f51,#ef8445,#ec783b,#e76a34,#df5a33,#d74e35,#cc4139,#be373e,#ae3143,#9f2f44,#8d2e43,#7e2d40,#702b3c,#622937)"></i><i style="background:linear-gradient(90deg,#1f1f21,#1f1f21,#1f1f21,#1f1f21,#1f1e21,#1f1e1f,#1f1e1e,#221e1e,#271e1f,#2f1f22,#392126,#46242b,#542732,#672a39,#7b2d40,#902e44,#a83044,#bb363f,#cc4139,#d95034,#e25f33,#e96f36,#ed7e40,#f18c4e,#f29558,#f49d63,#f5a066,#f5a36a,#f5a36a,#f49d63,#f3985b,#f18f51,#ef8748,#ec783b,#e76a34,#e15c33,#d74e35,#ce4338,#c0393d,#b13242,#9f2f44,#8d2e43,#7e2d40,#702b3c,#622937)"></i><i style="background:linear-gradient(90deg,#1f1f21,#1f1f23,#1f1f21,#1f1f21,#1f1e21,#1f1e20,#1f1e1e,#221e1e,#271e1f,#2f1f22,#392126,#46242b,#542732,#672a39,#7b2d40,#902e44,#a83044,#bb363f,#cc4139,#d95034,#e36233,#e96f36,#ee8142,#f18c4e,#f3985b,#f49d63,#f5a36a,#f6a56d,#f5a36a,#f5a066,#f39a5f,#f29255,#ef8748,#ed7b3e,#e86d35,#e25f33,#d95034,#ce4338,#c0393d,#b13242,#a22f44,#902e44,#7e2d40,#702b3c,#642a38)"></i><i style="background:linear-gradient(90deg,#1f1f23,#1f1f23,#1f1f23,#1f1f21,#1f1e21,#1f1e20,#1f1e1e,#211e1e,#261e1f,#2d1f21,#372025,#43232a,#542732,#642a38,#7b2d40,#902e44,#a52f44,#bb363f,#cc4139,#d95034,#e36233,#ea7238,#ee8142,#f18f51,#f3985b,#f5a066,#f6a56d,#f6a56d,#f6a56d,#f5a36a,#f49d63,#f29558,#f0894b,#ed7e40,#e96f36,#e25f33,#da5334,#d04537,#c33a3c,#b33341,#a22f44,#902e44,#812d41,#722c3d,#642a38)"></i><i style="background:linear-gradient(90deg,#1f1f23,#1f1f23,#1f1f23,#1f1f23,#1f1f21,#1f1e20,#1f1e1f,#211e1e,#261e1f,#2c1e21,#372025,#43232a,#522731,#642a38,#782c3f,#902e44,#a52f44,#bb363f,#cc4139,#d95034,#e36233,#ea7238,#ee8142,#f18f51,#f39a5f,#f5a066,#f6a56d,#f6a871,#f6a871,#f6a56d,#f5a066,#f3985b,#f18c4e,#ed7e40,#ea7238,#e36233,#da5334,#d04537,#c33a3c,#b33341,#a22f44,#932e44,#812d41,#722c3d,#642a38)"></i><i style="background:linear-gradient(90deg,#1f1f23,#201f24,#1f1f23,#1f1f23,#1f1f21,#1f1e21,#1f1e1f,#201e1e,#251e1f,#2c1e21,#352024,#412329,#522731,#642a38,#782c3f,#902e44,#a52f44,#bb363f,#cc4139,#d95034,#e36233,#ea7238,#ef8445,#f18f51,#f39a5f,#f5a36a,#f6a871,#f7ab75,#f7ab75,#f6a56d,#f5a066,#f3985b,#f18f51,#ee8142,#ea7238,#e56433,#dc5534,#d24737,#c53c3c,#b63441,#a52f44,#932e44,#842d42,#722c3d,#642a38)"></i><i style="background:linear-gradient(90deg,#201f24,#201f24,#201f24,#1f1f23,#1f1f23,#1f1e21,#1f1e1f,#1f1e1e,#251e1f,#2a1e20,#352024,#412329,#4f2630,#622937,#782c3f,#8d2e43,#a52f44,#bb363f,#cc4139,#d95034,#e36233,#ea7238,#ef8445,#f29255,#f49d63,#f6a56d,#f6a871,#f7ab75,#f7ab75,#f6a871,#f5a36a,#f39a5f,#f18f51,#ef8445,#eb753a,#e56433,#de5733,#d34936,#c73d3b,#b63441,#a52f44,#962e44,#842d42,#752c3e,#672a39)"></i><i style="background:linear-gradient(90deg,#201f24,#201f24,#201f24,#201f24,#1f1f23,#1f1f21,#1f1e20,#1f1e1e,#231e1e,#2a1e20,#332023,#3f2228,#4f2630,#622937,#752c3e,#8d2e43,#a52f44,#b93540,#cc4139,#d95034,#e36233,#eb753a,#ef8445,#f29255,#f49d63,#f6a56d,#f7ab75,#f7ae79,#f7ae79,#f7ab75,#f6a56d,#f49d63,#f29255,#ef8748,#ec783b,#e66734,#de5733,#d34936,#c73d3b,#b93540,#a83044,#962e44,#842d42,#752c3e,#672a39)"></i><i style="background:linear-gradient(90deg,#201f24,#202025,#202025,#201f24,#1f1f23,#1f1f21,#1f1e20,#1f1e1e,#221e1e,#291e20,#332023,#3f2228,#4d252f,#5f2936,#752c3e,#8d2e43,#a22f44,#b93540,#cc4139,#d95034,#e36233,#eb753a,#ef8748,#f29558,#f5a066,#f6a871,#f7ae79,#f8b07c,#f8b07c,#f7ab75,#f6a56d,#f49d63,#f29558,#ef8748,#ec783b,#e76a34,#df5a33,#d54b35,#c93f3a,#b93540,#a83044,#962e44,#872d42,#752c3e,#672a39)"></i><i style="background:linear-gradient(90deg,#202025,#202025,#202025,#202025,#201f24,#1f1f23,#1f1e21,#1f1e1e,#221e1e,#291e20,#311f23,#3d2228,#4d252f,#5f2936,#722c3d,#8a2e43,#a22f44,#b93540,#cc4139,#d95034,#e56433,#eb753a,#ef8748,#f29558,#f5a066,#f6a871,#f7ae79,#f8b07c,#f8b07c,#f7ae79,#f6a871,#f5a066,#f29558,#f0894b,#ed7b3e,#e76a34,#df5a33,#d54b35,#c93f3a,#bb363f,#ab3043,#992e44,#872d42,#782c3f,#6a2b3a)"></i><i style="background:linear-gradient(90deg,#202025,#202025,#202025,#202025,#201f24,#1f1f23,#1f1e21,#1f1e1f,#211e1e,#271e1f,#2f1f22,#3d2228,#4a252e,#5c2935,#722c3d,#8a2e43,#a22f44,#b93540,#cc4139,#d95034,#e56433,#eb753a,#ef8748,#f29558,#f5a066,#f7ab75,#f8b07c,#f8b380,#f8b380,#f8b07c,#f7ab75,#f5a36a,#f3985b,#f18c4e,#ed7e40,#e86d35,#e15c33,#d74e35,#cc4139,#bb363f,#ab3043,#992e44,#872d42,#782c3f,#6a2b3a)"></i><i style="background:linear-gradient(90deg,#202025,#212026,#212026,#212026,#202025,#201f24,#1f1f21,#1f1e1f,#201e1e,#261e1f,#2f1f22,#3b2127,#4a252e,#5c2935,#722c3d,#872d42,#a22f44,#b93540,#cc4139,#d95034,#e56433,#eb753a,#ef8748,#f29558,#f5a36a,#f7ab75,#f8b07c,#f8b380,#f8b380,#f8b07c,#f7ab75,#f5a36a,#f39a5f,#f18c4e,#ed7e40,#e96f36,#e25f33,#d74e35,#cc4139,#be373e,#ab3043,#992e44,#8a2e43,#782c3f,#6a2b3a)"></i><i style="background:linear-gradient(90deg,#212026,#212026,#212026,#212026,#202025,#201f24,#1f1f21,#1f1e20,#201e1e,#261e1f,#2d1f21,#392126,#48242c,#5a2834,#702b3c,#872d42,#9f2f44,#b63441,#cc4139,#d95034,#e56433,#eb753a,#ef8748,#f3985b,#f5a36a,#f7ab75,#f8b380,#f9b684,#f9b684,#f8b380,#f7ae79,#f6a56d,#f39a5f,#f18f51,#ee8142,#e96f36,#e25f33,#d95034,#ce4338,#be373e,#ae3143,#9c2f45,#8a2e43,#782c3f,#6a2b3a)"></i><i style="background:linear-gradient(90deg,#212026,#212026,#212028,#212028,#212026,#202025,#1f1f23,#1f1e20,#1f1e1e,#251e1f,#2c1e21,#392126,#46242b,#5a2834,#702b3c,#872d42,#9f2f44,#b63441,#c93f3a,#d95034,#e56433,#eb753a,#f0894b,#f3985b,#f5a36a,#f7ae79,#f8b380,#f9b684,#f9b684,#f9b684,#f8b07c,#f6a871,#f49d63,#f18f51,#ee8142,#ea7238,#e36233,#d95034,#ce4338,#c0393d,#ae3143,#9c2f45,#8a2e43,#7b2d40,#6d2b3b)"></i><i style="background:linear-gradient(90deg,#212026,#212028,#212028,#212028,#212026,#202025,#201f24,#1f1e21,#1f1e1e,#231e1e,#2c1e21,#372025,#46242b,#572833,#6d2b3b,#842d42,#9f2f44,#b63441,#c93f3a,#d95034,#e56433,#ec783b,#f0894b,#f3985b,#f6a56d,#f7ae79,#f9b684,#fab887,#fab887,#f9b684,#f8b07c,#f6a871,#f5a066,#f29255,#ef8445,#ea7238,#e36233,#da5334,#ce4338,#c0393d,#b13242,#9c2f45,#8d2e43,#7b2d40,#6d2b3b)"></i><i style="background:linear-gradient(90deg,#212028,#212028,#222129,#222129,#212028,#212026,#201f24,#1f1f21,#1f1e1e,#221e1e,#2a1e20,#352024,#43232a,#572833,#6d2b3b,#842d42,#9c2f45,#b63441,#c93f3a,#d95034,#e56433,#ec783b,#f0894b,#f3985b,#f6a56d,#f7ae79,#f9b684,#fab887,#fabb8b,#fab887,#f8b380,#f7ab75,#f5a066,#f29558,#ef8748,#eb753a,#e56433,#da5334,#d04537,#c0393d,#b13242,#9f2f44,#8d2e43,#7b2d40,#6d2b3b)"></i><i style="background:linear-gradient(90deg,#212028,#222129,#222129,#222129,#222129,#212026,#202025,#1f1f21,#1f1e1f,#221e1e,#291e20,#352024,#43232a,#542732,#6a2b3a,#812d41,#9c2f45,#b33341,#c93f3a,#d95034,#e36233,#ec783b,#f0894b,#f39a5f,#f6a56d,#f8b07c,#f9b684,#fabb8b,#fabb8b,#fab887,#f8b380,#f7ab75,#f5a36a,#f29558,#ef8748,#eb753a,#e56433,#dc5534,#d04537,#c33a3c,#b13242,#9f2f44,#8d2e43,#7e2d40,#6d2b3b)"></i><i style="background:linear-gradient(90deg,#222129,#222129,#22222b,#22222b,#222129,#212028,#202025,#1f1f23,#1f1e20,#211e1e,#291e20,#332023,#412329,#522731,#672a39,#812d41,#992e44,#b33341,#c73d3b,#d95034,#e36233,#ec783b,#f0894b,#f39a5f,#f6a56d,#f8b07c,#fab887,#fabb8b,#fabb8b,#fabb8b,#f9b684,#f7ae79,#f5a36a,#f3985b,#f0894b,#ec783b,#e66734,#dc5534,#d24737,#c33a3c,#b33341,#9f2f44,#8d2e43,#7e2d40,#6d2b3b)"></i><i style="background:linear-gradient(90deg,#222129,#22222b,#22222b,#22222b,#22222b,#222129,#212026,#201f24,#1f1e20,#201e1e,#271e1f,#311f23,#3f2228,#522731,#672a39,#7e2d40,#992e44,#b13242,#c73d3b,#d74e35,#e36233,#ec783b,#f0894b,#f39a5f,#f6a871,#f8b07c,#fab887,#fbbe8f,#fbbe8f,#fabb8b,#f9b684,#f8b07c,#f6a56d,#f3985b,#f0894b,#ec783b,#e66734,#de5733,#d24737,#c53c3c,#b33341,#a22f44,#902e44,#7e2d40,#702b3c)"></i><i style="background:linear-gradient(90deg,#222129,#22222b,#23222d,#23222d,#22222b,#222129,#212028,#201f24,#1f1e21,#1f1e1e,#261e1f,#2f1f22,#3d2228,#4f2630,#642a38,#7e2d40,#962e44,#b13242,#c73d3b,#d74e35,#e36233,#eb753a,#f0894b,#f39a5f,#f6a871,#f8b380,#fab887,#fbbe8f,#fbbe8f,#fbbe8f,#fab887,#f8b07c,#f6a56d,#f39a5f,#f18c4e,#ed7b3e,#e76a34,#de5733,#d34936,#c53c3c,#b33341,#a22f44,#902e44,#7e2d40,#702b3c)"></i><i style="background:linear-gradient(90deg,#22222b,#23222d,#23222d,#23222d,#23222d,#22222b,#212028,#202025,#1f1f21,#1f1e1e,#251e1f,#2f1f22,#3d2228,#4d252f,#622937,#7b2d40,#962e44,#b13242,#c53c3c,#d74e35,#e36233,#eb753a,#f0894b,#f39a5f,#f6a871,#f8b380,#fabb8b,#fbbe8f,#fbc192,#fbbe8f,#fab887,#f8b380,#f6a871,#f39a5f,#f18c4e,#ed7b3e,#e76a34,#df5a33,#d34936,#c53c3c,#b63441,#a22f44,#902e44,#812d41,#702b3c)"></i><i style="background:linear-gradient(90deg,#22222b,#23222d,#24232e,#24232e,#24232e,#23222d,#222129,#212026,#1f1f21,#1f1e1e,#231e1e,#2d1f21,#3b2127,#4d252f,#622937,#782c3f,#932e44,#ae3143,#c53c3c,#d54b35,#e36233,#eb753a,#f0894b,#f39a5f,#f6a871,#f8b380,#fabb8b,#fbc192,#fbc192,#fbc192,#fabb8b,#f8b380,#f6a871,#f49d63,#f18f51,#ed7e40,#e86d35,#df5a33,#d34936,#c73d3b,#b63441,#a52f44,#932e44,#812d41,#702b3c)"></i><i style="background:linear-gradient(90deg,#23222d,#24232e,#24232e,#24232e,#24232e,#23222d,#22222b,#212026,#1f1f23,#1f1e1f,#231e1e,#2c1e21,#392126,#4a252e,#5f2936,#782c3f,#932e44,#ae3143,#c33a3c,#d54b35,#e25f33,#eb753a,#f0894b,#f39a5f,#f6a871,#f8b380,#fabb8b,#fbc192,#fcc396,#fbc192,#fabb8b,#f9b684,#f7ab75,#f49d63,#f18f51,#ed7e40,#e86d35,#e15c33,#d54b35,#c73d3b,#b63441,#a52f44,#932e44,#812d41,#722c3d)"></i><i style="background:linear-gradient(90deg,#23222d,#24232e,#242430,#242430,#242430,#24232e,#22222b,#212028,#201f24,#1f1e20,#221e1e,#2a1e20,#372025,#48242c,#5c2935,#752c3e,#902e44,#ab3043,#c33a3c,#d54b35,#e25f33,#eb753a,#f0894b,#f39a5f,#f6a871,#f8b380,#fabb8b,#fbc192,#fcc396,#fbc192,#fbbe8f,#f9b684,#f7ab75,#f5a066,#f29255,#ee8142,#e86d35,#e15c33,#d54b35,#c73d3b,#b93540,#a52f44,#932e44,#812d41,#722c3d)"></i><i style="background:linear-gradient(90deg,#24232e,#242430,#242430,#252532,#252532,#242430,#23222d,#222129,#202025,#1f1e21,#211e1e,#291e20,#352024,#46242b,#5c2935,#722c3d,#8d2e43,#ab3043,#c33a3c,#d34936,#e25f33,#eb753a,#f0894b,#f39a5f,#f6a871,#f9b684,#fbbe8f,#fcc396,#fcc396,#fcc396,#fbbe8f,#f9b684,#f7ae79,#f5a066,#f29255,#ee8142,#e96f36,#e15c33,#d74e35,#c93f3a,#b93540,#a83044,#932e44,#812d41,#722c3d)"></i><i style="background:linear-gradient(90deg,#24232e,#242430,#252532,#252532,#252532,#242430,#24232e,#22222b,#212026,#1f1e21,#201e1e,#271e1f,#352024,#43232a,#5a2834,#722c3d,#8d2e43,#a83044,#c0393d,#d34936,#e25f33,#eb753a,#f0894b,#f39a5f,#f6a871,#f9b684,#fbbe8f,#fcc396,#fcc69a,#fcc396,#fbbe8f,#fab887,#f7ae79,#f5a36a,#f29255,#ef8445,#e96f36,#e25f33,#d74e35,#c93f3a,#b93540,#a83044,#962e44,#842d42,#722c3d)"></i><i style="background:linear-gradient(90deg,#242430,#252532,#262534,#262534,#262534,#252532,#242430,#23222d,#212026,#1f1f21,#1f1e1e,#271e1f,#332023,#43232a,#572833,#702b3c,#8a2e43,#a52f44,#c0393d,#d34936,#e15c33,#ea7238,#f0894b,#f39a5f,#f6a871,#f9b684,#fbbe8f,#fcc396,#fcc69a,#fcc396,#fbc192,#fab887,#f8b07c,#f5a36a,#f29558,#ef8445,#ea7238,#e25f33,#d74e35,#c93f3a,#bb363f,#a83044,#962e44,#842d42,#722c3d)"></i><i style="background:linear-gradient(90deg,#242430,#252532,#262534,#272636,#272636,#262534,#252532,#23222d,#212028,#1f1f23,#1f1e1e,#261e1f,#311f23,#412329,#542732,#6d2b3b,#872d42,#a52f44,#be373e,#d24737,#e15c33,#ea7238,#ef8748,#f39a5f,#f6a871,#f9b684,#fbbe8f,#fcc396,#fcc69a,#fcc69a,#fbc192,#fab887,#f8b07c,#f5a36a,#f29558,#ef8445,#ea7238,#e25f33,#d95034,#cc4139,#bb363f,#a83044,#962e44,#842d42,#722c3d)"></i><i style="background:linear-gradient(90deg,#252532,#262534,#272636,#272636,#272636,#272636,#252532,#24232e,#222129,#201f24,#1f1e1f,#251e1f,#2f1f22,#3f2228,#522731,#6a2b3a,#872d42,#a22f44,#be373e,#d24737,#df5a33,#ea7238,#ef8748,#f39a5f,#f6a871,#f9b684,#fbbe8f,#fcc396,#fcc69a,#fcc69a,#fbc192,#fabb8b,#f8b07c,#f6a56d,#f3985b,#ef8748,#ea7238,#e36233,#d95034,#cc4139,#bb363f,#ab3043,#962e44,#842d42,#752c3e)"></i><i style="background:linear-gradient(90deg,#252532,#262534,#272636,#282739,#282739,#282739,#262534,#242430,#22222b,#202025,#1f1e20,#231e1e,#2d1f21,#3d2228,#522731,#6a2b3a,#842d42,#9f2f44,#bb363f,#d04537,#df5a33,#e96f36,#ef8748,#f39a5f,#f6a871,#f9b684,#fbbe8f,#fcc69a,#fcc69a,#fcc69a,#fcc396,#fabb8b,#f8b380,#f6a56d,#f3985b,#ef8748,#eb753a,#e36233,#d95034,#cc4139,#bb363f,#ab3043,#962e44,#842d42,#752c3e)"></i><i style="background:linear-gradient(90deg,#262534,#272636,#282739,#29283b,#29283b,#282739,#272636,#252532,#23222d,#212026,#1f1e21,#221e1e,#2c1e21,#3b2127,#4f2630,#672a39,#812d41,#9f2f44,#b93540,#d04537,#df5a33,#e96f36,#ef8748,#f3985b,#f6a871,#f9b684,#fbbe8f,#fcc69a,#fdc99e,#fcc69a,#fcc396,#fabb8b,#f8b380,#f6a56d,#f3985b,#ef8748,#eb753a,#e36233,#d95034,#ce4338,#be373e,#ab3043,#992e44,#872d42,#752c3e)"></i><i style="background:linear-gradient(90deg,#262534,#282739,#29283b,#29283b,#2a293d,#29283b,#282739,#262534,#24232e,#212028,#1f1e21,#211e1e,#2a1e20,#392126,#4d252f,#642a38,#7e2d40,#9c2f45,#b93540,#ce4338,#de5733,#e96f36,#ef8445,#f3985b,#f6a871,#f9b684,#fbbe8f,#fcc69a,#fdc99e,#fdc99e,#fcc396,#fbbe8f,#f8b380,#f6a871,#f3985b,#f0894b,#eb753a,#e56433,#da5334,#ce4338,#be373e,#ab3043,#992e44,#872d42,#752c3e)"></i><i style="background:linear-gradient(90deg,#272636,#282739,#29283b,#2a293d,#2a293d,#2a293d,#29283b,#272636,#242430,#222129,#1f1f21,#201e1e,#291e20,#372025,#4a252e,#622937,#7e2d40,#992e44,#b63441,#ce4338,#de5733,#e86d35,#ef8445,#f3985b,#f6a871,#f9b684,#fbbe8f,#fcc69a,#fdc99e,#fdc99e,#fcc396,#fbbe8f,#f8b380,#f6a871,#f39a5f,#f0894b,#ec783b,#e56433,#da5334,#ce4338,#be373e,#ab3043,#992e44,#872d42,#752c3e)"></i><i style="background:linear-gradient(90deg,#272636,#29283b,#2a293d,#2b2a40,#2b2a40,#2b2a40,#2a293d,#282739,#252532,#22222b,#1f1f23,#1f1e1e,#271e1f,#352024,#48242c,#5f2936,#7b2d40,#992e44,#b33341,#cc4139,#dc5534,#e86d35,#ef8445,#f3985b,#f6a871,#f9b684,#fbbe8f,#fcc69a,#fdc99e,#fdc99e,#fcc69a,#fbbe8f,#f9b684,#f6a871,#f39a5f,#f0894b,#ec783b,#e56433,#da5334,#ce4338,#be373e,#ae3143,#992e44,#872d42,#752c3e)"></i><i style="background:linear-gradient(90deg,#282739,#2a293d,#2b2a40,#2c2b42,#2c2b42,#2c2b42,#2b2a40,#29283b,#262534,#23222d,#201f24,#1f1e1e,#261e1f,#332023,#46242b,#5c2935,#782c3f,#962e44,#b33341,#c93f3a,#dc5534,#e76a34,#ee8142,#f29558,#f6a871,#f9b684,#fbbe8f,#fcc69a,#fdc99e,#fdc99e,#fcc69a,#fbbe8f,#f9b684,#f7ab75,#f39a5f,#f0894b,#ec783b,#e56433,#da5334,#ce4338,#c0393d,#ae3143,#992e44,#872d42,#782c3f)"></i><i style="background:linear-gradient(90deg,#29283b,#2a293d,#2c2b42,#2c2b42,#2d2c45,#2d2c45,#2c2b42,#2a293d,#272636,#24232e,#202025,#1f1e1f,#251e1f,#311f23,#43232a,#5a2834,#752c3e,#932e44,#b13242,#c93f3a,#da5334,#e76a34,#ee8142,#f29558,#f6a56d,#f8b380,#fbbe8f,#fcc69a,#fdc99e,#fdc99e,#fcc69a,#fbc192,#f9b684,#f7ab75,#f49d63,#f18c4e,#ec783b,#e66734,#dc5534,#d04537,#c0393d,#ae3143,#9c2f45,#872d42,#782c3f)"></i><i style="background:linear-gradient(90deg,#29283b,#2b2a40,#2c2b42,#2d2c45,#2e2d48,#2e2d48,#2d2c45,#2b2a40,#282739,#242430,#212028,#1f1e20,#231e1e,#2f1f22,#412329,#572833,#722c3d,#902e44,#ae3143,#c73d3b,#d95034,#e66734,#ee8142,#f29558,#f6a56d,#f8b380,#fbbe8f,#fcc69a,#fdc99e,#fdc99e,#fcc69a,#fbc192,#f9b684,#f7ab75,#f49d63,#f18c4e,#ed7b3e,#e66734,#dc5534,#d04537,#c0393d,#ae3143,#9c2f45,#8a2e43,#782c3f)"></i><i style="background:linear-gradient(90deg,#2a293d,#2b2a40,#2d2c45,#2e2d48,#302e4a,#2e2d48,#2d2c45,#2c2b42,#29283b,#252532,#222129,#1f1e21,#221e1e,#2d1f21,#3f2228,#542732,#702b3c,#8d2e43,#ab3043,#c53c3c,#d95034,#e66734,#ed7e40,#f29255,#f6a56d,#f8b380,#fbbe8f,#fcc69a,#fdc99e,#fdc99e,#fcc69a,#fbc192,#f9b684,#f7ab75,#f49d63,#f18c4e,#ed7b3e,#e66734,#dc5534,#d04537,#c0393d,#ae3143,#9c2f45,#8a2e43,#782c3f)"></i><i style="background:linear-gradient(90deg,#2a293d,#2c2b42,#2e2d48,#302e4a,#302e4a,#302e4a,#2e2d48,#2d2c45,#2a293d,#262534,#22222b,#1f1f21,#211e1e,#2c1e21,#3d2228,#522731,#6d2b3b,#8a2e43,#ab3043,#c53c3c,#d74e35,#e56433,#ed7e40,#f29255,#f6a56d,#f8b380,#fbbe8f,#fcc69a,#fdc99e,#fdc99e,#fcc69a,#fbc192,#fab887,#f7ab75,#f49d63,#f18c4e,#ed7b3e,#e66734,#dc5534,#d04537,#c0393d,#ae3143,#9c2f45,#8a2e43,#782c3f)"></i><i style="background:linear-gradient(90deg,#2b2a40,#2d2c45,#2e2d48,#312f4d,#312f4d,#312f4d,#302e4a,#2e2d48,#2b2a40,#272636,#23222d,#201f24,#201e1e,#2a1e20,#3b2127,#4f2630,#6a2b3a,#8a2e43,#a83044,#c33a3c,#d54b35,#e56433,#ed7b3e,#f29255,#f5a36a,#f8b380,#fbbe8f,#fcc69a,#fdc99e,#fdc99e,#fcc69a,#fbc192,#fab887,#f7ab75,#f49d63,#f18c4e,#ed7b3e,#e66734,#dc5534,#d04537,#c0393d,#b13242,#9c2f45,#8a2e43,#782c3f)"></i><i style="background:linear-gradient(90deg,#2c2b42,#2e2d48,#302e4a,#323050,#323050,#323050,#312f4d,#302e4a,#2c2b42,#282739,#24232e,#202025,#1f1e1e,#291e20,#392126,#4d252f,#672a39,#872d42,#a52f44,#c0393d,#d54b35,#e36233,#ed7b3e,#f18f51,#f5a36a,#f8b07c,#fbbe8f,#fcc396,#fdc99e,#fdc99e,#fcc69a,#fbc192,#fab887,#f7ae79,#f49d63,#f18f51,#ed7b3e,#e76a34,#de5733,#d24737,#c33a3c,#b13242,#9c2f45,#8a2e43,#782c3f)"></i><i style="background:linear-gradient(90deg,#2c2b42,#2e2d48,#312f4d,#323050,#333153,#333153,#323050,#312f4d,#2d2c45,#29283b,#242430,#212026,#1f1e1e,#271e1f,#372025,#4a252e,#642a38,#842d42,#a22f44,#be373e,#d34936,#e25f33,#ec783b,#f18f51,#f5a066,#f8b07c,#fabb8b,#fcc396,#fdc99e,#fdc99e,#fcc69a,#fbc192,#fab887,#f7ae79,#f5a066,#f18f51,#ed7b3e,#e76a34,#de5733,#d24737,#c33a3c,#b13242,#9c2f45,#8a2e43,#782c3f)"></i><i style="background:linear-gradient(90deg,#2d2c45,#302e4a,#323050,#333153,#343356,#343356,#343356,#323050,#2e2d48,#2a293d,#252532,#212028,#1f1e20,#261e1f,#352024,#48242c,#622937,#812d41,#9f2f44,#bb363f,#d24737,#e25f33,#eb753a,#f18c4e,#f5a066,#f8b07c,#fabb8b,#fcc396,#fdc99e,#fdc99e,#fcc69a,#fbc192,#fab887,#f7ae79,#f5a066,#f18f51,#ed7b3e,#e76a34,#de5733,#d24737,#c33a3c,#b13242,#9c2f45,#8a2e43,#782c3f)"></i><i style="background:linear-gradient(90deg,#2d2c45,#312f4d,#333153,#343356,#363459,#363459,#363459,#333153,#302e4a,#2b2a40,#262534,#222129,#1f1e21,#251e1f,#332023,#46242b,#5f2936,#7e2d40,#9c2f45,#b93540,#d04537,#e15c33,#eb753a,#f18c4e,#f5a066,#f7ae79,#fabb8b,#fcc396,#fdc99e,#fdc99e,#fcc69a,#fbc192,#fab887,#f7ae79,#f5a066,#f18f51,#ed7e40,#e76a34,#de5733,#d24737,#c33a3c,#b13242,#9c2f45,#8a2e43,#782c3f)"></i><i style="background:linear-gradient(90deg,#2e2d48,#312f4d,#333153,#363459,#37355c,#37355c,#37355c,#343356,#312f4d,#2d2c45,#282739,#22222b,#1f1f21,#221e1e,#2f1f22,#43232a,#5c2935,#7b2d40,#992e44,#b93540,#d04537,#df5a33,#ea7238,#f0894b,#f49d63,#f7ae79,#fab887,#fcc396,#fcc69a,#fdc99e,#fcc69a,#fbc192,#fab887,#f7ae79,#f5a066,#f18f51,#ed7e40,#e76a34,#de5733,#d24737,#c33a3c,#b13242,#9f2f44,#8a2e43,#7b2d40)"></i><i style="background:linear-gradient(90deg,#302e4a,#323050,#343356,#37355c,#38365f,#38365f,#38365f,#363459,#333153,#2e2d48,#29283b,#24232e,#1f1f23,#211e1e,#2d1f21,#412329,#5a2834,#782c3f,#962e44,#b63441,#ce4338,#df5a33,#e96f36,#f0894b,#f49d63,#f7ab75,#fab887,#fbc192,#fcc69a,#fdc99e,#fcc69a,#fbc192,#fab887,#f7ae79,#f5a066,#f18f51,#ed7e40,#e76a34,#de5733,#d24737,#c33a3c,#b13242,#9f2f44,#8a2e43,#7b2d40)"></i><i style="background:linear-gradient(90deg,#302e4a,#333153,#363459,#38365f,#393763,#393763,#393763,#37355c,#343356,#302e4a,#2a293d,#242430,#201f24,#201e1e,#2c1e21,#3f2228,#572833,#752c3e,#932e44,#b33341,#cc4139,#de5733,#e96f36,#ef8748,#f39a5f,#f7ab75,#fab887,#fbc192,#fcc69a,#fdc99e,#fcc69a,#fbc192,#fab887,#f7ae79,#f5a066,#f18f51,#ed7e40,#e76a34,#de5733,#d24737,#c33a3c,#b13242,#9f2f44,#8a2e43,#7b2d40)"></i><i style="background:linear-gradient(90deg,#312f4d,#343356,#37355c,#393763,#3b3866,#3b3866,#3b3866,#38365f,#363459,#312f4d,#2b2a40,#252532,#212026,#1f1e1e,#2a1e20,#3d2228,#542732,#702b3c,#902e44,#b13242,#c93f3a,#dc5534,#e86d35,#ef8445,#f39a5f,#f7ab75,#f9b684,#fbc192,#fcc69a,#fcc69a,#fcc69a,#fbc192,#fab887,#f7ae79,#f5a066,#f18f51,#ed7e40,#e76a34,#de5733,#d24737,#c33a3c,#b13242,#9f2f44,#8d2e43,#7b2d40)"></i><i style="background:linear-gradient(90deg,#323050,#343356,#38365f,#3b3866,#3c3a69,#3c3a69,#3c3a69,#3b3866,#37355c,#323050,#2c2b42,#262534,#212028,#1f1e1f,#291e20,#392126,#522731,#6d2b3b,#8d2e43,#ae3143,#c73d3b,#da5334,#e76a34,#ef8445,#f3985b,#f6a871,#f9b684,#fbbe8f,#fcc69a,#fcc69a,#fcc69a,#fbc192,#fab887,#f7ae79,#f5a066,#f18f51,#ed7e40,#e76a34,#de5733,#d24737,#c33a3c,#b13242,#9f2f44,#8d2e43,#7b2d40)"></i><i style="background:linear-gradient(90deg,#333153,#363459,#393763,#3c3a69,#3d3b6d,#3d3b6d,#3d3b6d,#3c3a69,#38365f,#343356,#2e2d48,#282739,#222129,#1f1e20,#261e1f,#372025,#4f2630,#6a2b3a,#8a2e43,#ab3043,#c53c3c,#d95034,#e76a34,#ee8142,#f29558,#f6a871,#f8b380,#fbbe8f,#fcc396,#fcc69a,#fcc396,#fbc192,#fab887,#f7ae79,#f5a066,#f18f51,#ed7e40,#e76a34,#de5733,#d24737,#c33a3c,#b13242,#9f2f44,#8d2e43,#7b2d40)"></i><i style="background:linear-gradient(90deg,#333153,#37355c,#393763,#3c3a69,#3e3c70,#3f3d74,#3e3c70,#3d3b6d,#3b3866,#363459,#302e4a,#29283b,#23222d,#1f1e21,#251e1f,#352024,#4a252e,#672a39,#872d42,#a83044,#c33a3c,#d74e35,#e66734,#ed7e40,#f29558,#f6a56d,#f8b380,#fbbe8f,#fcc396,#fcc69a,#fcc396,#fbc192,#fab887,#f7ae79,#f5a066,#f18f51,#ed7e40,#e76a34,#de5733,#d24737,#c33a3c,#b13242,#9f2f44,#8d2e43,#7b2d40)"></i><i style="background:linear-gradient(90deg,#343356,#38365f,#3b3866,#3d3b6d,#3f3d74,#413e77,#3f3d74,#3e3c70,#3c3a69,#37355c,#312f4d,#2a293d,#24232e,#1f1f21,#231e1e,#332023,#48242c,#642a38,#842d42,#a52f44,#c0393d,#d54b35,#e56433,#ed7b3e,#f29255,#f5a36a,#f8b07c,#fabb8b,#fcc396,#fcc396,#fcc396,#fbbe8f,#f9b684,#f7ab75,#f5a066,#f18f51,#ed7e40,#e76a34,#de5733,#d24737,#c33a3c,#b13242,#9f2f44,#8d2e43,#7b2d40)"></i><i style="background:linear-gradient(90deg,#363459,#393763,#3c3a69,#3e3c70,#413e77,#42407b,#42407b,#3f3d74,#3d3b6d,#393763,#333153,#2c2b42,#242430,#201f24,#221e1e,#2f1f22,#46242b,#622937,#812d41,#a22f44,#be373e,#d54b35,#e36233,#ed7b3e,#f18f51,#f5a36a,#f8b07c,#fabb8b,#fbc192,#fcc396,#fcc396,#fbbe8f,#f9b684,#f7ab75,#f5a066,#f18f51,#ed7e40,#e76a34,#de5733,#d24737,#c33a3c,#b13242,#9f2f44,#8d2e43,#7b2d40)"></i><i style="background:linear-gradient(90deg,#363459,#393763,#3d3b6d,#3f3d74,#42407b,#43417f,#43417f,#42407b,#3e3c70,#3b3866,#343356,#2d2c45,#262534,#202025,#201e1e,#2d1f21,#43232a,#5f2936,#7e2d40,#9f2f44,#bb363f,#d34936,#e25f33,#ec783b,#f18f51,#f5a066,#f7ae79,#fab887,#fbc192,#fcc396,#fbc192,#fbbe8f,#f9b684,#f7ab75,#f49d63,#f18f51,#ed7e40,#e76a34,#de5733,#d24737,#c33a3c,#b13242,#9f2f44,#8d2e43,#7b2d40)"></i><i style="background:linear-gradient(90deg,#37355c,#3b3866,#3e3c70,#413e77,#43417f,#444282,#444282,#43417f,#413e77,#3c3a69,#363459,#2e2d48,#272636,#212028,#1f1e1e,#2c1e21,#3f2228,#5a2834,#782c3f,#992e44,#b93540,#d24737,#e15c33,#eb753a,#f18c4e,#f49d63,#f7ae79,#fab887,#fbbe8f,#fbc192,#fbc192,#fbbe8f,#f9b684,#f7ab75,#f49d63,#f18f51,#ed7e40,#e76a34,#de5733,#d24737,#c33a3c,#b13242,#9f2f44,#8d2e43,#7b2d40)"></i><i style="background:linear-gradient(90deg,#38365f,#3c3a69,#3f3d74,#42407b,#444282,#454386,#454386,#444282,#42407b,#3d3b6d,#38365f,#312f4d,#282739,#222129,#1f1e1e,#2a1e20,#3d2228,#572833,#752c3e,#962e44,#b63441,#d04537,#df5a33,#ea7238,#f0894b,#f49d63,#f7ab75,#f9b684,#fbbe8f,#fbc192,#fbc192,#fabb8b,#f9b684,#f7ab75,#f49d63,#f18f51,#ed7b3e,#e76a34,#de5733,#d24737,#c33a3c,#b13242,#9f2f44,#8d2e43,#7b2d40)"></i><i style="background:linear-gradient(90deg,#393763,#3d3b6d,#413e77,#43417f,#454386,#46458a,#46458a,#454386,#43417f,#3f3d74,#393763,#323050,#2a293d,#22222b,#1f1e20,#271e1f,#3b2127,#542732,#722c3d,#932e44,#b33341,#ce4338,#de5733,#e96f36,#ef8748,#f39a5f,#f7ab75,#f9b684,#fabb8b,#fbc192,#fbbe8f,#fabb8b,#f8b380,#f7ab75,#f49d63,#f18c4e,#ed7b3e,#e76a34,#de5733,#d24737,#c33a3c,#b13242,#9f2f44,#8d2e43,#7b2d40)"></i><i style="background:linear-gradient(90deg,#393763,#3e3c70,#42407b,#444282,#46458a,#47468e,#474792,#47468e,#454386,#413e77,#3b3866,#333153,#2b2a40,#24232e,#1f1e21,#261e1f,#372025,#4f2630,#702b3c,#902e44,#b13242,#cc4139,#dc5534,#e86d35,#ef8445,#f3985b,#f6a871,#f8b380,#fabb8b,#fbbe8f,#fbbe8f,#fabb8b,#f8b380,#f6a871,#f49d63,#f18c4e,#ed7b3e,#e76a34,#de5733,#d24737,#c33a3c,#b13242,#9f2f44,#8d2e43,#7b2d40)"></i><i style="background:linear-gradient(90deg,#3b3866,#3f3d74,#43417f,#454386,#47468e,#484996,#484996,#474792,#46458a,#43417f,#3d3b6d,#363459,#2d2c45,#242430,#1f1f23,#231e1e,#352024,#4d252f,#6a2b3a,#8d2e43,#ae3143,#c73d3b,#da5334,#e86d35,#ef8445,#f3985b,#f6a56d,#f8b07c,#fab887,#fbbe8f,#fbbe8f,#fab887,#f8b380,#f6a871,#f39a5f,#f18c4e,#ed7b3e,#e76a34,#de5733,#d24737,#c33a3c,#b13242,#9f2f44,#8d2e43,#7b2d40)"></i><i style="background:linear-gradient(90deg,#3c3a69,#3f3d74,#444282,#46458a,#474792,#494a9a,#494a9a,#484996,#47468e,#444282,#3e3c70,#37355c,#2e2d48,#262534,#201f24,#221e1e,#332023,#4a252e,#672a39,#8a2e43,#ab3043,#c53c3c,#d95034,#e76a34,#ee8142,#f29558,#f5a36a,#f8b07c,#fab887,#fabb8b,#fabb8b,#fab887,#f8b07c,#f6a871,#f39a5f,#f18c4e,#ed7b3e,#e66734,#de5733,#d24737,#c33a3c,#b13242,#9f2f44,#8d2e43,#7b2d40)"></i><i style="background:linear-gradient(90deg,#3c3a69,#413e77,#454386,#47468e,#494a9a,#494c9e,#494c9e,#494c9e,#484996,#454386,#413e77,#393763,#302e4a,#272636,#212026,#211e1e,#2f1f22,#46242b,#642a38,#842d42,#a52f44,#c33a3c,#d74e35,#e66734,#ed7e40,#f29255,#f5a36a,#f7ae79,#f9b684,#fabb8b,#fabb8b,#f9b684,#f8b07c,#f6a56d,#f39a5f,#f18c4e,#ed7b3e,#e66734,#de5733,#d24737,#c33a3c,#b13242,#9f2f44,#8a2e43,#7b2d40)"></i><i style="background:linear-gradient(90deg,#3d3b6d,#42407b,#46458a,#474792,#494c9e,#494da1,#494da1,#494da1,#494a9a,#47468e,#42407b,#3b3866,#323050,#282739,#212028,#1f1e1e,#2d1f21,#43232a,#622937,#812d41,#a22f44,#c0393d,#d54b35,#e56433,#ed7b3e,#f18f51,#f5a066,#f7ab75,#f8b380,#fab887,#fab887,#f9b684,#f8b07c,#f6a56d,#f39a5f,#f0894b,#ec783b,#e66734,#dc5534,#d24737,#c33a3c,#b13242,#9f2f44,#8a2e43,#7b2d40)"></i><i style="background:linear-gradient(90deg,#3e3c70,#43417f,#46458a,#484996,#494da1,#4a4fa5,#4a50a9,#4a4fa5,#494c9e,#474792,#444282,#3d3b6d,#333153,#2a293d,#222129,#1f1e1e,#2c1e21,#412329,#5c2935,#7e2d40,#9f2f44,#be373e,#d34936,#e36233,#ec783b,#f18c4e,#f49d63,#f7ab75,#f8b380,#f9b684,#fab887,#f9b684,#f7ae79,#f6a56d,#f3985b,#f0894b,#ec783b,#e66734,#dc5534,#d04537,#c33a3c,#b13242,#9f2f44,#8a2e43,#7b2d40)"></i><i style="background:linear-gradient(90deg,#3e3c70,#444282,#47468e,#494a9a,#4a4fa5,#4a50a9,#4952ad,#4a50a9,#4a4fa5,#484996,#454386,#3e3c70,#363459,#2b2a40,#23222d,#1f1e20,#291e20,#3d2228,#5a2834,#782c3f,#9c2f45,#bb363f,#d24737,#e25f33,#eb753a,#f0894b,#f39a5f,#f6a871,#f8b07c,#f9b684,#f9b684,#f8b380,#f7ae79,#f5a36a,#f3985b,#f0894b,#ec783b,#e66734,#dc5534,#d04537,#c33a3c,#b13242,#9c2f45,#8a2e43,#7b2d40)"></i><i style="background:linear-gradient(90deg,#3f3d74,#454386,#474792,#494c9e,#4a50a9,#4954b0,#4954b0,#4954b0,#4a50a9,#494c9e,#46458a,#3f3d74,#37355c,#2d2c45,#24232e,#1f1e21,#271e1f,#3b2127,#572833,#752c3e,#992e44,#b93540,#d04537,#e15c33,#ea7238,#ef8748,#f39a5f,#f6a56d,#f7ae79,#f8b380,#f9b684,#f8b380,#f7ab75,#f5a36a,#f3985b,#f0894b,#ec783b,#e56433,#dc5534,#d04537,#c0393d,#b13242,#9c2f45,#8a2e43,#782c3f)"></i><i style="background:linear-gradient(90deg,#413e77,#454386,#484996,#4a4fa5,#4952ad,#4956b3,#4858b6,#4956b3,#4952ad,#494da1,#474792,#42407b,#393763,#2e2d48,#252532,#1f1f23,#251e1f,#392126,#522731,#722c3d,#932e44,#b33341,#ce4338,#de5733,#e96f36,#ef8748,#f3985b,#f5a36a,#f7ae79,#f8b380,#f8b380,#f8b07c,#f7ab75,#f5a36a,#f29558,#ef8748,#eb753a,#e56433,#dc5534,#d04537,#c0393d,#b13242,#9c2f45,#8a2e43,#782c3f)"></i><i style="background:linear-gradient(90deg,#42407b,#46458a,#494a9a,#4a50a9,#4954b0,#4858b6,#475ab9,#4858b6,#4956b3,#4a50a9,#484996,#43417f,#3b3866,#312f4d,#262534,#201f24,#231e1e,#352024,#4f2630,#6d2b3b,#902e44,#b13242,#cc4139,#dc5534,#e86d35,#ef8445,#f29558,#f5a36a,#f7ab75,#f8b07c,#f8b07c,#f8b07c,#f6a871,#f5a066,#f29558,#ef8748,#eb753a,#e56433,#da5334,#d04537,#c0393d,#b13242,#9c2f45,#8a2e43,#782c3f)"></i><i style="background:linear-gradient(90deg,#42407b,#47468e,#494c9e,#4952ad,#4956b3,#475ab9,#475cbc,#475cbc,#4858b6,#4952ad,#494c9e,#454386,#3d3b6d,#323050,#282739,#212026,#211e1e,#332023,#4a252e,#6a2b3a,#8d2e43,#ae3143,#c73d3b,#da5334,#e76a34,#ee8142,#f29255,#f5a066,#f6a871,#f7ae79,#f8b07c,#f7ae79,#f6a871,#f5a066,#f29558,#ef8748,#eb753a,#e56433,#da5334,#d04537,#c0393d,#ae3143,#9c2f45,#8a2e43,#782c3f)"></i><i style="background:linear-gradient(90deg,#43417f,#474792,#494da1,#4954b0,#4858b6,#475cbc,#465ebe,#465ebe,#475ab9,#4956b3,#494da1,#46458a,#3e3c70,#343356,#29283b,#212028,#201e1e,#2f1f22,#48242c,#672a39,#872d42,#ab3043,#c53c3c,#d95034,#e66734,#ed7e40,#f18f51,#f49d63,#f6a56d,#f7ab75,#f7ae79,#f7ab75,#f6a56d,#f49d63,#f29255,#ef8445,#eb753a,#e36233,#da5334,#ce4338,#c0393d,#ae3143,#9c2f45,#8a2e43,#782c3f)"></i><i style="background:linear-gradient(90deg,#444282,#484996,#4a4fa5,#4956b3,#475cbc,#4560c1,#4363c3,#4560c1,#465ebe,#4858b6,#4a50a9,#474792,#413e77,#363459,#2b2a40,#22222b,#1f1e1e,#2d1f21,#43232a,#622937,#842d42,#a52f44,#c33a3c,#d74e35,#e56433,#ed7b3e,#f18c4e,#f39a5f,#f6a56d,#f7ab75,#f7ab75,#f7ab75,#f6a56d,#f49d63,#f29255,#ef8445,#ea7238,#e36233,#da5334,#ce4338,#c0393d,#ae3143,#9c2f45,#8a2e43,#782c3f)"></i><i style="background:linear-gradient(90deg,#444282,#484996,#4a50a9,#4858b6,#465ebe,#4363c3,#4265c5,#4265c5,#4560c1,#475ab9,#4952ad,#484996,#42407b,#38365f,#2d2c45,#23222d,#1f1e1f,#2a1e20,#412329,#5f2936,#812d41,#a22f44,#c0393d,#d54b35,#e36233,#eb753a,#f0894b,#f3985b,#f5a36a,#f6a871,#f7ab75,#f6a871,#f5a36a,#f39a5f,#f18f51,#ee8142,#ea7238,#e36233,#d95034,#ce4338,#be373e,#ae3143,#9c2f45,#8a2e43,#782c3f)"></i><i style="background:linear-gradient(90deg,#454386,#494a9a,#4952ad,#475ab9,#4560c1,#4265c5,#4167c7,#4167c7,#4265c5,#465ebe,#4956b3,#494c9e,#444282,#393763,#2e2d48,#242430,#1f1e21,#291e20,#3d2228,#5a2834,#7b2d40,#9f2f44,#bb363f,#d24737,#e15c33,#ea7238,#ef8748,#f29558,#f5a066,#f6a56d,#f6a871,#f6a871,#f5a36a,#f39a5f,#f18f51,#ee8142,#e96f36,#e25f33,#d95034,#ce4338,#be373e,#ae3143,#992e44,#872d42,#782c3f)"></i><i style="background:linear-gradient(90deg,#46458a,#494c9e,#4954b0,#475cbc,#4363c3,#4167c7,#3f69c9,#3f69c9,#4167c7,#4560c1,#4858b6,#494da1,#454386,#3c3a69,#312f4d,#252532,#1f1f21,#261e1f,#3b2127,#572833,#782c3f,#992e44,#b93540,#d04537,#df5a33,#e96f36,#ef8445,#f29255,#f49d63,#f5a36a,#f6a56d,#f6a56d,#f5a066,#f3985b,#f18c4e,#ee8142,#e96f36,#e25f33,#d95034,#cc4139,#be373e,#ab3043,#992e44,#872d42,#782c3f)"></i><i style="background:linear-gradient(90deg,#47468e,#494da1,#4956b3,#465ebe,#4265c5,#3f69c9,#3d6ecc,#3d6ecc,#3f69c9,#4265c5,#475ab9,#4a50a9,#47468e,#3e3c70,#323050,#272636,#201f24,#251e1f,#392126,#522731,#722c3d,#962e44,#b63441,#ce4338,#de5733,#e86d35,#ee8142,#f18f51,#f39a5f,#f5a36a,#f6a56d,#f5a36a,#f49d63,#f3985b,#f18c4e,#ed7e40,#e96f36,#e25f33,#d95034,#cc4139,#be373e,#ab3043,#992e44,#872d42,#782c3f)"></i><i style="background:linear-gradient(90deg,#47468e,#494da1,#4858b6,#4560c1,#4167c7,#3d6ecc,#3b71cd,#3b71cd,#3d6ecc,#4167c7,#465ebe,#4952ad,#474792,#3f3d74,#343356,#29283b,#202025,#221e1e,#352024,#4f2630,#702b3c,#902e44,#b13242,#cc4139,#dc5534,#e76a34,#ed7e40,#f18c4e,#f3985b,#f5a066,#f5a36a,#f5a066,#f49d63,#f29558,#f0894b,#ed7e40,#e86d35,#e15c33,#d74e35,#cc4139,#bb363f,#ab3043,#992e44,#872d42,#752c3e)"></i><i style="background:linear-gradient(90deg,#474792,#4a4fa5,#4858b6,#4363c3,#3f69c9,#3b71cd,#3a73ce,#3a73ce,#3b71cd,#3f69c9,#4560c1,#4956b3,#494a9a,#42407b,#363459,#2a293d,#212028,#211e1e,#311f23,#4a252e,#6a2b3a,#8d2e43,#ae3143,#c73d3b,#da5334,#e66734,#ed7b3e,#f0894b,#f29558,#f49d63,#f5a066,#f5a066,#f39a5f,#f29255,#f0894b,#ed7b3e,#e86d35,#e15c33,#d74e35,#cc4139,#bb363f,#ab3043,#992e44,#872d42,#752c3e)"></i><i style="background:linear-gradient(90deg,#484996,#4a50a9,#475ab9,#4265c5,#3e6ccb,#3a73ce,#3975cf,#3878cf,#3a73ce,#3d6ecc,#4265c5,#4858b6,#494c9e,#43417f,#38365f,#2c2b42,#22222b,#1f1e1e,#2f1f22,#48242c,#672a39,#8a2e43,#ab3043,#c53c3c,#d74e35,#e56433,#ec783b,#ef8748,#f29255,#f39a5f,#f49d63,#f49d63,#f3985b,#f29255,#ef8748,#ed7b3e,#e76a34,#e15c33,#d74e35,#c93f3a,#bb363f,#ab3043,#992e44,#872d42,#752c3e)"></i><i style="background:linear-gradient(90deg,#484996,#4952ad,#475cbc,#4167c7,#3b71cd,#3975cf,#377ad0,#377ad0,#3878cf,#3b71cd,#4167c7,#475cbc,#4a4fa5,#454386,#393763,#2d2c45,#23222d,#1f1e1f,#2c1e21,#43232a,#622937,#842d42,#a52f44,#c33a3c,#d54b35,#e36233,#eb753a,#ef8445,#f18f51,#f3985b,#f39a5f,#f39a5f,#f3985b,#f18f51,#ef8748,#ec783b,#e76a34,#df5a33,#d54b35,#c93f3a,#bb363f,#a83044,#962e44,#842d42,#752c3e)"></i><i style="background:linear-gradient(90deg,#494a9a,#4954b0,#465ebe,#3f69c9,#3a73ce,#3878cf,#377cd0,#377cd0,#377ad0,#3975cf,#3e6ccb,#465ebe,#4a50a9,#46458a,#3c3a69,#302e4a,#242430,#1f1e20,#2a1e20,#412329,#5f2936,#812d41,#a22f44,#be373e,#d34936,#e15c33,#e96f36,#ee8142,#f18c4e,#f29558,#f3985b,#f3985b,#f29558,#f18f51,#ef8445,#ec783b,#e66734,#df5a33,#d54b35,#c93f3a,#b93540,#a83044,#962e44,#842d42,#752c3e)"></i><i style="background:linear-gradient(90deg,#494c9e,#4954b0,#4560c1,#3e6ccb,#3975cf,#377cd0,#377fd0,#3781d0,#377fd0,#3878cf,#3d6ecc,#4363c3,#4954b0,#474792,#3e3c70,#312f4d,#252532,#1f1f21,#271e1f,#3d2228,#5a2834,#7b2d40,#9f2f44,#bb363f,#d24737,#df5a33,#e86d35,#ed7e40,#f0894b,#f29255,#f3985b,#f3985b,#f29255,#f18c4e,#ee8142,#eb753a,#e66734,#de5733,#d34936,#c73d3b,#b93540,#a83044,#962e44,#842d42,#752c3e)"></i><i style="background:linear-gradient(90deg,#494c9e,#4956b3,#4363c3,#3d6ecc,#3878cf,#377fd0,#3781d0,#3783d0,#3781d0,#377ad0,#3b71cd,#4265c5,#4956b3,#484996,#3f3d74,#333153,#272636,#1f1f23,#261e1f,#3b2127,#572833,#782c3f,#992e44,#b93540,#ce4338,#de5733,#e76a34,#ed7b3e,#ef8748,#f18f51,#f29558,#f29558,#f29255,#f0894b,#ee8142,#ea7238,#e56433,#de5733,#d34936,#c73d3b,#b93540,#a83044,#962e44,#842d42,#752c3e)"></i><i style="background:linear-gradient(90deg,#494da1,#4858b6,#4363c3,#3b71cd,#377ad0,#3781d0,#3885d0,#3885d0,#3783d0,#377fd0,#3975cf,#3f69c9,#475ab9,#494c9e,#42407b,#363459,#29283b,#202025,#231e1e,#372025,#522731,#722c3d,#962e44,#b33341,#cc4139,#dc5534,#e66734,#ec783b,#ef8445,#f18c4e,#f29255,#f29255,#f18f51,#ef8748,#ed7e40,#ea7238,#e56433,#dc5534,#d34936,#c73d3b,#b63441,#a52f44,#932e44,#842d42,#722c3d)"></i><i style="background:linear-gradient(90deg,#4a4fa5,#475ab9,#4265c5,#3a73ce,#377cd0,#3783d0,#3987cf,#3987cf,#3987cf,#3781d0,#3878cf,#3e6ccb,#475cbc,#4a4fa5,#43417f,#37355c,#2a293d,#212028,#221e1e,#352024,#4f2630,#702b3c,#902e44,#b13242,#c93f3a,#d95034,#e56433,#eb753a,#ee8142,#f0894b,#f18f51,#f18f51,#f18c4e,#ef8748,#ed7b3e,#e96f36,#e36233,#dc5534,#d24737,#c53c3c,#b63441,#a52f44,#932e44,#842d42,#722c3d)"></i><i style="background:linear-gradient(90deg,#4a4fa5,#475ab9,#4167c7,#3975cf,#377fd0,#3885d0,#3a89cf,#3c8ccf,#3a89cf,#3885d0,#377cd0,#3d6ecc,#4560c1,#4a50a9,#454386,#393763,#2c2b42,#222129,#201e1e,#311f23,#4a252e,#6a2b3a,#8d2e43,#ae3143,#c53c3c,#d74e35,#e25f33,#e96f36,#ed7e40,#ef8748,#f18c4e,#f18c4e,#f0894b,#ef8445,#ed7b3e,#e96f36,#e36233,#dc5534,#d24737,#c53c3c,#b63441,#a52f44,#932e44,#812d41,#722c3d)"></i><i style="background:linear-gradient(90deg,#4a50a9,#475cbc,#3f69c9,#3975cf,#3781d0,#3987cf,#3c8ccf,#3e8ecf,#3c8ccf,#3987cf,#377fd0,#3a73ce,#4363c3,#4954b0,#47468e,#3c3a69,#2e2d48,#23222d,#1f1e1e,#2f1f22,#48242c,#672a39,#872d42,#a83044,#c33a3c,#d54b35,#e15c33,#e86d35,#ed7b3e,#ef8445,#f0894b,#f0894b,#ef8748,#ee8142,#ec783b,#e86d35,#e25f33,#da5334,#d04537,#c33a3c,#b33341,#a22f44,#932e44,#812d41,#722c3d)"></i><i style="background:linear-gradient(90deg,#4952ad,#465ebe,#3e6ccb,#3878cf,#3783d0,#3a89cf,#3e8ecf,#3f90ce,#3e8ecf,#3a89cf,#3781d0,#3975cf,#4167c7,#4956b3,#474792,#3d3b6d,#302e4a,#24232e,#1f1e1f,#2c1e21,#43232a,#622937,#842d42,#a52f44,#c0393d,#d24737,#df5a33,#e76a34,#ec783b,#ee8142,#ef8748,#ef8748,#ef8445,#ed7e40,#eb753a,#e76a34,#e25f33,#d95034,#d04537,#c33a3c,#b33341,#a22f44,#902e44,#812d41,#722c3d)"></i><i style="background:linear-gradient(90deg,#4952ad,#4560c1,#3d6ecc,#377ad0,#3885d0,#3e8ecf,#4192ce,#4192ce,#4192ce,#3e8ecf,#3885d0,#377ad0,#3f69c9,#475ab9,#494a9a,#3f3d74,#323050,#252532,#1f1e21,#291e20,#412329,#5f2936,#7e2d40,#9f2f44,#bb363f,#d04537,#de5733,#e66734,#eb753a,#ed7e40,#ef8445,#ef8445,#ef8445,#ed7e40,#eb753a,#e76a34,#e15c33,#d95034,#ce4338,#c33a3c,#b33341,#a22f44,#902e44,#812d41,#702b3c)"></i><i style="background:linear-gradient(90deg,#4954b0,#4560c1,#3d6ecc,#377cd0,#3987cf,#3f90ce,#4394ce,#4596ce,#4394ce,#3f90ce,#3987cf,#377cd0,#3d6ecc,#475cbc,#494c9e,#413e77,#333153,#272636,#1f1f23,#271e1f,#3d2228,#5a2834,#7b2d40,#9c2f45,#b93540,#ce4338,#da5334,#e56433,#e96f36,#ed7b3e,#ee8142,#ee8142,#ee8142,#ed7b3e,#ea7238,#e66734,#e15c33,#d74e35,#ce4338,#c0393d,#b13242,#a22f44,#902e44,#7e2d40,#702b3c)"></i><i style="background:linear-gradient(90deg,#4956b3,#4363c3,#3b71cd,#377fd0,#3a89cf,#4192ce,#4596ce,#4798ce,#4596ce,#4192ce,#3c8ccf,#3781d0,#3b71cd,#4560c1,#4a4fa5,#43417f,#363459,#282739,#201f24,#251e1f,#3b2127,#572833,#752c3e,#962e44,#b33341,#c93f3a,#d95034,#e25f33,#e86d35,#ec783b,#ed7e40,#ed7e40,#ed7e40,#ec783b,#e96f36,#e56433,#df5a33,#d74e35,#cc4139,#c0393d,#b13242,#9f2f44,#902e44,#7e2d40,#702b3c)"></i><i style="background:linear-gradient(90deg,#4956b3,#4265c5,#3a73ce,#3781d0,#3c8ccf,#4394ce,#4798ce,#499ace,#4798ce,#4394ce,#3e8ecf,#3783d0,#3975cf,#4363c3,#4952ad,#454386,#38365f,#2a293d,#212026,#231e1e,#372025,#522731,#722c3d,#932e44,#b13242,#c73d3b,#d74e35,#e15c33,#e76a34,#eb753a,#ed7b3e,#ed7e40,#ed7b3e,#eb753a,#e86d35,#e56433,#de5733,#d54b35,#cc4139,#be373e,#b13242,#9f2f44,#8d2e43,#7e2d40,#702b3c)"></i><i style="background:linear-gradient(90deg,#4858b6,#4265c5,#3975cf,#3781d0,#3e8ecf,#4596ce,#499ace,#4c9ccd,#4c9ccd,#4798ce,#3f90ce,#3987cf,#3878cf,#4167c7,#4954b0,#46458a,#393763,#2c2b42,#212028,#211e1e,#332023,#4f2630,#6d2b3b,#8d2e43,#ab3043,#c33a3c,#d34936,#df5a33,#e66734,#ea7238,#ec783b,#ed7b3e,#ec783b,#ea7238,#e86d35,#e36233,#de5733,#d54b35,#c93f3a,#be373e,#ae3143,#9f2f44,#8d2e43,#7e2d40,#702b3c)"></i><i style="background:linear-gradient(90deg,#475ab9,#4167c7,#3975cf,#3783d0,#3f90ce,#4798ce,#4c9ccd,#4e9ecd,#4e9ecd,#499ace,#4394ce,#3a89cf,#377cd0,#3f69c9,#4858b6,#474792,#3c3a69,#2d2c45,#22222b,#1f1e1e,#311f23,#4a252e,#6a2b3a,#8a2e43,#a83044,#c0393d,#d24737,#de5733,#e56433,#e86d35,#eb753a,#ec783b,#eb753a,#ea7238,#e76a34,#e25f33,#dc5534,#d34936,#c93f3a,#bb363f,#ae3143,#9c2f45,#8d2e43,#7b2d40,#6d2b3b)"></i><i style="background:linear-gradient(90deg,#475ab9,#3f69c9,#3878cf,#3885d0,#4192ce,#499ace,#4e9ecd,#53a2cd,#50a0cd,#4c9ccd,#4596ce,#3c8ccf,#377fd0,#3d6ecc,#475ab9,#484996,#3e3c70,#302e4a,#24232e,#1f1e1e,#2d1f21,#46242b,#642a38,#842d42,#a22f44,#be373e,#d04537,#da5334,#e25f33,#e76a34,#ea7238,#eb753a,#ea7238,#e96f36,#e66734,#e25f33,#da5334,#d34936,#c73d3b,#bb363f,#ab3043,#9c2f45,#8a2e43,#7b2d40,#6d2b3b)"></i><i style="background:linear-gradient(90deg,#475cbc,#3f69c9,#377ad0,#3987cf,#4192ce,#4c9ccd,#53a2cd,#55a3cd,#53a2cd,#50a0cd,#4798ce,#3f90ce,#3783d0,#3b71cd,#465ebe,#494c9e,#3f3d74,#323050,#242430,#1f1e20,#2c1e21,#43232a,#622937,#812d41,#9f2f44,#b93540,#cc4139,#d95034,#e15c33,#e66734,#e86d35,#e96f36,#e96f36,#e86d35,#e56433,#e15c33,#da5334,#d24737,#c73d3b,#bb363f,#ab3043,#992e44,#8a2e43,#7b2d40,#6d2b3b)"></i><i style="background:linear-gradient(90deg,#475cbc,#3e6ccb,#377ad0,#3a89cf,#4394ce,#4e9ecd,#55a3cd,#58a5cd,#55a3cd,#53a2cd,#4c9ccd,#4192ce,#3885d0,#3975cf,#4560c1,#4a4fa5,#42407b,#333153,#262534,#1f1f21,#291e20,#3f2228,#5c2935,#7b2d40,#9c2f45,#b63441,#c93f3a,#d74e35,#df5a33,#e56433,#e76a34,#e86d35,#e86d35,#e76a34,#e36233,#df5a33,#d95034,#d04537,#c53c3c,#b93540,#ab3043,#992e44,#8a2e43,#7b2d40,#6d2b3b)"></i><i style="background:linear-gradient(90deg,#465ebe,#3d6ecc,#377cd0,#3a89cf,#4596ce,#50a0cd,#58a5cd,#5aa7cd,#5aa7cd,#55a3cd,#4e9ecd,#4596ce,#3a89cf,#3878cf,#4265c5,#4a50a9,#43417f,#363459,#282739,#1f1f23,#261e1f,#3d2228,#572833,#782c3f,#962e44,#b13242,#c53c3c,#d34936,#de5733,#e36233,#e66734,#e76a34,#e76a34,#e66734,#e36233,#de5733,#d74e35,#d04537,#c53c3c,#b93540,#a83044,#992e44,#872d42,#782c3f,#6a2b3a)"></i><i style="background:linear-gradient(90deg,#465ebe,#3d6ecc,#377fd0,#3c8ccf,#4798ce,#53a2cd,#5aa7cd,#5da9cd,#5da9cd,#58a5cd,#50a0cd,#4798ce,#3c8ccf,#377cd0,#4167c7,#4954b0,#454386,#38365f,#29283b,#202025,#251e1f,#392126,#542732,#722c3d,#932e44,#ae3143,#c33a3c,#d24737,#da5334,#e15c33,#e56433,#e66734,#e66734,#e56433,#e25f33,#de5733,#d74e35,#ce4338,#c33a3c,#b63441,#a83044,#962e44,#872d42,#782c3f,#6a2b3a)"></i><i style="background:linear-gradient(90deg,#4560c1,#3b71cd,#377fd0,#3e8ecf,#499ace,#53a2cd,#5da9cd,#60abcd,#60abcd,#5aa7cd,#55a3cd,#499ace,#3f90ce,#377fd0,#3e6ccb,#4956b3,#47468e,#393763,#2b2a40,#212026,#221e1e,#352024,#4f2630,#702b3c,#8d2e43,#a83044,#c0393d,#d04537,#d95034,#df5a33,#e36233,#e56433,#e56433,#e36233,#e15c33,#dc5534,#d54b35,#ce4338,#c33a3c,#b63441,#a52f44,#962e44,#872d42,#782c3f,#6a2b3a)"></i><i style="background:linear-gradient(90deg,#4363c3,#3b71cd,#3781d0,#3e8ecf,#499ace,#55a3cd,#60abcd,#63adcd,#63adcd,#60abcd,#58a5cd,#4e9ecd,#4192ce,#3783d0,#3b71cd,#475ab9,#474792,#3c3a69,#2d2c45,#222129,#211e1e,#332023,#4d252f,#6a2b3a,#8a2e43,#a52f44,#bb363f,#cc4139,#d74e35,#de5733,#e25f33,#e36233,#e36233,#e25f33,#df5a33,#da5334,#d34936,#cc4139,#c0393d,#b33341,#a52f44,#962e44,#842d42,#752c3e,#6a2b3a)"></i><i style="background:linear-gradient(90deg,#4363c3,#3a73ce,#3783d0,#3f90ce,#4c9ccd,#58a5cd,#63adcd,#65afcd,#65afcd,#63adcd,#5aa7cd,#50a0cd,#4394ce,#3885d0,#3a73ce,#475cbc,#494a9a,#3d3b6d,#2e2d48,#23222d,#1f1e1e,#2f1f22,#48242c,#672a39,#842d42,#a22f44,#b93540,#c93f3a,#d54b35,#dc5534,#e15c33,#e25f33,#e25f33,#e15c33,#de5733,#d95034,#d34936,#c93f3a,#c0393d,#b33341,#a22f44,#932e44,#842d42,#752c3e,#672a39)"></i><i style="background:linear-gradient(90deg,#4265c5,#3975cf,#3783d0,#4192ce,#4e9ecd,#5aa7cd,#65afcd,#68b0cd,#68b0cd,#65afcd,#5da9cd,#53a2cd,#4798ce,#3a89cf,#3878cf,#4560c1,#494c9e,#3f3d74,#312f4d,#24232e,#1f1e1f,#2d1f21,#46242b,#622937,#812d41,#9c2f45,#b33341,#c53c3c,#d24737,#da5334,#de5733,#e15c33,#e15c33,#df5a33,#dc5534,#d74e35,#d24737,#c93f3a,#be373e,#b13242,#a22f44,#932e44,#842d42,#752c3e,#672a39)"></i><i style="background:linear-gradient(90deg,#4265c5,#3975cf,#3885d0,#4192ce,#4e9ecd,#5aa7cd,#68b0cd,#6bb2cd,#6bb2cd,#68b0cd,#63adcd,#58a5cd,#499ace,#3c8ccf,#377ad0,#4265c5,#4a4fa5,#42407b,#333153,#252532,#1f1e20,#2a1e20,#412329,#5c2935,#7b2d40,#992e44,#b13242,#c33a3c,#d04537,#d74e35,#dc5534,#df5a33,#df5a33,#de5733,#da5334,#d74e35,#d04537,#c73d3b,#bb363f,#ae3143,#9f2f44,#902e44,#812d41,#722c3d,#672a39)"></i><i style="background:linear-gradient(90deg,#4167c7,#3878cf,#3987cf,#4394ce,#50a0cd,#5da9cd,#68b0cd,#6eb4cd,#6eb4cd,#6bb2cd,#65afcd,#5aa7cd,#4c9ccd,#3f90ce,#377cd0,#4167c7,#4952ad,#43417f,#343356,#272636,#1f1f21,#271e1f,#3d2228,#5a2834,#752c3e,#932e44,#ae3143,#c0393d,#ce4338,#d54b35,#da5334,#de5733,#de5733,#dc5534,#da5334,#d54b35,#ce4338,#c53c3c,#bb363f,#ae3143,#9f2f44,#902e44,#812d41,#722c3d,#672a39)"></i><i style="background:linear-gradient(90deg,#4167c7,#3878cf,#3987cf,#4596ce,#53a2cd,#60abcd,#6bb2cd,#72b6ce,#72b6ce,#6eb4cd,#68b0cd,#5da9cd,#50a0cd,#4192ce,#3781d0,#3e6ccb,#4954b0,#454386,#37355c,#282739,#201f24,#261e1f,#3b2127,#542732,#722c3d,#902e44,#a83044,#bb363f,#c93f3a,#d34936,#d95034,#dc5534,#dc5534,#da5334,#d95034,#d34936,#ce4338,#c53c3c,#b93540,#ab3043,#9c2f45,#8d2e43,#812d41,#722c3d,#642a38)"></i><i style="background:linear-gradient(90deg,#3f69c9,#377ad0,#3a89cf,#4596ce,#53a2cd,#63adcd,#6eb4cd,#75b8ce,#75b8ce,#75b8ce,#6bb2cd,#60abcd,#53a2cd,#4394ce,#3783d0,#3d6ecc,#4858b6,#46458a,#38365f,#2a293d,#202025,#231e1e,#372025,#522731,#6d2b3b,#8a2e43,#a52f44,#b93540,#c73d3b,#d04537,#d74e35,#d95034,#da5334,#d95034,#d74e35,#d24737,#cc4139,#c33a3c,#b93540,#ab3043,#9c2f45,#8d2e43,#7e2d40,#702b3c,#642a38)"></i><i style="background:linear-gradient(90deg,#3f69c9,#377ad0,#3a89cf,#4798ce,#55a3cd,#63adcd,#6eb4cd,#78b9ce,#78b9ce,#78b9ce,#6eb4cd,#65afcd,#55a3cd,#4798ce,#3987cf,#3a73ce,#475ab9,#474792,#3b3866,#2c2b42,#212028,#221e1e,#352024,#4d252f,#6a2b3a,#872d42,#9f2f44,#b63441,#c53c3c,#ce4338,#d34936,#d74e35,#d95034,#d74e35,#d54b35,#d04537,#c93f3a,#c0393d,#b63441,#a83044,#992e44,#8d2e43,#7e2d40,#702b3c,#642a38)"></i><i style="background:linear-gradient(90deg,#3f69c9,#377cd0,#3c8ccf,#4798ce,#58a5cd,#65afcd,#72b6ce,#7bbbce,#7bbbce,#7bbbce,#72b6ce,#68b0cd,#5aa7cd,#499ace,#3a89cf,#3975cf,#465ebe,#494a9a,#3d3b6d,#2d2c45,#222129,#201e1e,#311f23,#4a252e,#642a38,#812d41,#9c2f45,#b13242,#c0393d,#cc4139,#d24737,#d54b35,#d74e35,#d54b35,#d34936,#d04537,#c73d3b,#c0393d,#b33341,#a83044,#992e44,#8a2e43,#7b2d40,#702b3c,#622937)"></i><i style="background:linear-gradient(90deg,#3e6ccb,#377cd0,#3c8ccf,#499ace,#58a5cd,#65afcd,#75b8ce,#7ebdce,#7ebdce,#7ebdce,#78b9ce,#6bb2cd,#5da9cd,#4e9ecd,#3e8ecf,#377ad0,#4560c1,#494c9e,#3e3c70,#302e4a,#23222d,#1f1e1e,#2f1f22,#46242b,#622937,#7e2d40,#962e44,#ae3143,#be373e,#c93f3a,#d04537,#d34936,#d54b35,#d34936,#d24737,#ce4338,#c73d3b,#be373e,#b33341,#a52f44,#962e44,#8a2e43,#7b2d40,#6d2b3b,#622937)"></i><i style="background:linear-gradient(90deg,#3e6ccb,#377fd0,#3e8ecf,#499ace,#5aa7cd,#68b0cd,#75b8ce,#81bfcf,#81bfcf,#81bfcf,#7bbbce,#6eb4cd,#60abcd,#50a0cd,#3f90ce,#377cd0,#4265c5,#4a4fa5,#413e77,#312f4d,#242430,#1f1e1f,#2c1e21,#43232a,#5c2935,#782c3f,#932e44,#a83044,#b93540,#c53c3c,#ce4338,#d24737,#d34936,#d24737,#d04537,#cc4139,#c53c3c,#bb363f,#b13242,#a52f44,#962e44,#872d42,#7b2d40,#6d2b3b,#622937)"></i><i style="background:linear-gradient(90deg,#3d6ecc,#377fd0,#3e8ecf,#4c9ccd,#5aa7cd,#6bb2cd,#78b9ce,#81bfcf,#84c1cf,#84c1cf,#7ebdce,#72b6ce,#65afcd,#53a2cd,#4192ce,#377fd0,#4167c7,#4a50a9,#42407b,#333153,#252532,#1f1e21,#2a1e20,#3f2228,#5a2834,#752c3e,#8d2e43,#a52f44,#b63441,#c33a3c,#c93f3a,#d04537,#d24737,#d04537,#ce4338,#c93f3a,#c33a3c,#b93540,#ae3143,#a22f44,#932e44,#872d42,#782c3f,#6d2b3b,#622937)"></i><i style="background:linear-gradient(90deg,#3d6ecc,#377fd0,#3f90ce,#4c9ccd,#5da9cd,#6bb2cd,#7bbbce,#84c1cf,#87c2cf,#87c2cf,#81bfcf,#78b9ce,#68b0cd,#55a3cd,#4596ce,#3783d0,#3e6ccb,#4954b0,#444282,#363459,#272636,#1f1f21,#271e1f,#3b2127,#542732,#702b3c,#8a2e43,#9f2f44,#b33341,#c0393d,#c73d3b,#ce4338,#d04537,#ce4338,#cc4139,#c73d3b,#c0393d,#b93540,#ae3143,#9f2f44,#932e44,#842d42,#782c3f,#6a2b3a,#5f2936)"></i><i style="background:linear-gradient(90deg,#3d6ecc,#3781d0,#3f90ce,#4e9ecd,#5da9cd,#6eb4cd,#7bbbce,#87c2cf,#8ac4d0,#8ac4d0,#84c1cf,#7bbbce,#6bb2cd,#5aa7cd,#4798ce,#3885d0,#3d6ecc,#4956b3,#454386,#37355c,#282739,#201f24,#251e1f,#392126,#522731,#6d2b3b,#842d42,#9c2f45,#ae3143,#bb363f,#c53c3c,#c93f3a,#cc4139,#cc4139,#c93f3a,#c53c3c,#be373e,#b63441,#ab3043,#9f2f44,#902e44,#842d42,#752c3e,#6a2b3a,#5f2936)"></i><i style="background:linear-gradient(90deg,#3b71cd,#3781d0,#3f90ce,#4e9ecd,#60abcd,#6eb4cd,#7ebdce,#87c2cf,#8dc6d0,#8dc6d0,#87c2cf,#7ebdce,#6eb4cd,#5da9cd,#499ace,#3a89cf,#3a73ce,#475ab9,#47468e,#393763,#2a293d,#202025,#231e1e,#352024,#4d252f,#672a39,#812d41,#992e44,#ab3043,#b93540,#c33a3c,#c73d3b,#c93f3a,#c93f3a,#c73d3b,#c33a3c,#be373e,#b33341,#a83044,#9c2f45,#902e44,#812d41,#752c3e,#6a2b3a,#5f2936)"></i><i style="background:linear-gradient(90deg,#3b71cd,#3783d0,#4192ce,#50a0cd,#60abcd,#72b6ce,#7ebdce,#8ac4d0,#90c8d1,#90c8d1,#8ac4d0,#81bfcf,#72b6ce,#60abcd,#4e9ecd,#3c8ccf,#3975cf,#475cbc,#474792,#3b3866,#2c2b42,#212028,#211e1e,#332023,#4a252e,#642a38,#7e2d40,#932e44,#a83044,#b63441,#c0393d,#c53c3c,#c73d3b,#c73d3b,#c53c3c,#c0393d,#bb363f,#b33341,#a83044,#9c2f45,#8d2e43,#812d41,#752c3e,#672a39,#5c2935)"></i><i style="background:linear-gradient(90deg,#3a73ce,#3783d0,#4192ce,#50a0cd,#60abcd,#72b6ce,#81bfcf,#8ac4d0,#93cad1,#93cad1,#8dc6d0,#84c1cf,#75b8ce,#63adcd,#50a0cd,#3e8ecf,#3878cf,#4560c1,#494a9a,#3d3b6d,#2d2c45,#22222b,#201e1e,#2f1f22,#46242b,#5f2936,#782c3f,#902e44,#a22f44,#b13242,#bb363f,#c33a3c,#c53c3c,#c53c3c,#c33a3c,#c0393d,#b93540,#b13242,#a52f44,#992e44,#8d2e43,#812d41,#722c3d,#672a39,#5c2935)"></i><i style="background:linear-gradient(90deg,#3a73ce,#3783d0,#4394ce,#53a2cd,#63adcd,#72b6ce,#81bfcf,#8dc6d0,#95cbd2,#95cbd2,#90c8d1,#87c2cf,#7bbbce,#68b0cd,#53a2cd,#4192ce,#377cd0,#4363c3,#494c9e,#3e3c70,#302e4a,#23222d,#1f1e1e,#2d1f21,#43232a,#5c2935,#752c3e,#8a2e43,#9f2f44,#ae3143,#b93540,#c0393d,#c33a3c,#c33a3c,#c0393d,#be373e,#b63441,#ae3143,#a22f44,#992e44,#8a2e43,#7e2d40,#722c3d,#672a39,#5c2935)"></i><i style="background:linear-gradient(90deg,#3a73ce,#3885d0,#4394ce,#53a2cd,#63adcd,#75b8ce,#84c1cf,#90c8d1,#95cbd2,#95cbd2,#93cad1,#8ac4d0,#7ebdce,#6bb2cd,#58a5cd,#4394ce,#377fd0,#4265c5,#4a4fa5,#413e77,#312f4d,#242430,#1f1e1f,#2a1e20,#3f2228,#572833,#702b3c,#872d42,#9c2f45,#ab3043,#b63441,#bb363f,#c0393d,#c0393d,#be373e,#bb363f,#b33341,#ab3043,#a22f44,#962e44,#8a2e43,#7e2d40,#702b3c,#642a38,#5a2834)"></i><i style="background:linear-gradient(90deg,#3a73ce,#3885d0,#4394ce,#53a2cd,#65afcd,#75b8ce,#84c1cf,#90c8d1,#98cdd2,#98cdd2,#95cbd2,#8dc6d0,#81bfcf,#6eb4cd,#5aa7cd,#4596ce,#3783d0,#3f69c9,#4a50a9,#42407b,#333153,#252532,#1f1e21,#291e20,#3d2228,#542732,#6d2b3b,#842d42,#962e44,#a52f44,#b13242,#b93540,#be373e,#be373e,#bb363f,#b93540,#b33341,#ab3043,#9f2f44,#932e44,#872d42,#7b2d40,#702b3c,#642a38,#5a2834)"></i><i style="background:linear-gradient(90deg,#3975cf,#3885d0,#4596ce,#53a2cd,#65afcd,#78b9ce,#87c2cf,#93cad1,#9bcfd3,#9bcfd3,#98cdd2,#90c8d1,#84c1cf,#72b6ce,#5da9cd,#499ace,#3885d0,#3e6ccb,#4954b0,#444282,#343356,#272636,#1f1f21,#261e1f,#392126,#4f2630,#672a39,#7e2d40,#932e44,#a22f44,#ae3143,#b63441,#bb363f,#bb363f,#b93540,#b63441,#b13242,#a83044,#9c2f45,#932e44,#872d42,#7b2d40,#702b3c,#642a38,#5a2834)"></i><i style="background:linear-gradient(90deg,#3975cf,#3885d0,#4596ce,#55a3cd,#65afcd,#78b9ce,#87c2cf,#93cad1,#9bcfd3,#9ed1d3,#9bcfd3,#93cad1,#87c2cf,#75b8ce,#60abcd,#4c9ccd,#3987cf,#3b71cd,#4956b3,#454386,#37355c,#282739,#201f24,#251e1f,#372025,#4d252f,#642a38,#7b2d40,#8d2e43,#9f2f44,#ab3043,#b33341,#b63441,#b93540,#b93540,#b33341,#ae3143,#a52f44,#9c2f45,#902e44,#842d42,#782c3f,#6d2b3b,#622937,#572833)"></i><i style="background:linear-gradient(90deg,#3975cf,#3987cf,#4596ce,#55a3cd,#65afcd,#78b9ce,#87c2cf,#95cbd2,#9ed1d3,#a1d3d4,#9ed1d3,#95cbd2,#8ac4d0,#78b9ce,#63adcd,#4e9ecd,#3c8ccf,#3a73ce,#475ab9,#47468e,#38365f,#2a293d,#202025,#221e1e,#332023,#48242c,#5f2936,#752c3e,#8a2e43,#9c2f45,#a83044,#b13242,#b33341,#b63441,#b63441,#b13242,#ab3043,#a22f44,#992e44,#8d2e43,#842d42,#782c3f,#6d2b3b,#622937,#572833)"></i><i style="background:linear-gradient(90deg,#3975cf,#3987cf,#4596ce,#55a3cd,#68b0cd,#7bbbce,#8ac4d0,#95cbd2,#9ed1d3,#a4d5d5,#a1d3d4,#98cdd2,#8dc6d0,#7bbbce,#68b0cd,#50a0cd,#3e8ecf,#3975cf,#475cbc,#474792,#3b3866,#2b2a40,#212028,#211e1e,#311f23,#46242b,#5c2935,#722c3d,#872d42,#962e44,#a22f44,#ab3043,#b13242,#b33341,#b33341,#ae3143,#a83044,#a22f44,#962e44,#8d2e43,#812d41,#752c3e,#6a2b3a,#5f2936,#572833)"></i><i style="background:linear-gradient(90deg,#3878cf,#3987cf,#4798ce,#55a3cd,#68b0cd,#7bbbce,#8ac4d0,#95cbd2,#a1d3d4,#a4d5d5,#a1d3d4,#9bcfd3,#90c8d1,#7ebdce,#6bb2cd,#53a2cd,#3f90ce,#377ad0,#465ebe,#484996,#3c3a69,#2d2c45,#222129,#201e1e,#2d1f21,#412329,#5a2834,#702b3c,#812d41,#932e44,#9f2f44,#a83044,#ae3143,#b13242,#b13242,#ab3043,#a52f44,#9f2f44,#962e44,#8a2e43,#812d41,#752c3e,#6a2b3a,#5f2936,#542732)"></i><i style="background:linear-gradient(90deg,#3878cf,#3987cf,#4798ce,#58a5cd,#68b0cd,#7bbbce,#8ac4d0,#98cdd2,#a1d3d4,#a7d7d5,#a4d5d5,#9ed1d3,#93cad1,#84c1cf,#6eb4cd,#58a5cd,#4192ce,#377cd0,#4363c3,#494c9e,#3e3c70,#2e2d48,#23222d,#1f1e1e,#2c1e21,#3f2228,#542732,#6a2b3a,#7e2d40,#902e44,#9c2f45,#a52f44,#ab3043,#ae3143,#ae3143,#a83044,#a52f44,#9c2f45,#932e44,#8a2e43,#7e2d40,#722c3d,#672a39,#5f2936,#542732)"></i><i style="background:linear-gradient(90deg,#3878cf,#3987cf,#4798ce,#58a5cd,#68b0cd,#7bbbce,#8dc6d0,#98cdd2,#a1d3d4,#a9d9d6,#a7d7d5,#a1d3d4,#95cbd2,#87c2cf,#72b6ce,#5aa7cd,#4394ce,#377fd0,#4265c5,#494da1,#3f3d74,#312f4d,#24232e,#1f1e1f,#2a1e20,#3d2228,#522731,#672a39,#7b2d40,#8a2e43,#992e44,#a22f44,#a83044,#ab3043,#ab3043,#a83044,#a22f44,#992e44,#902e44,#872d42,#7b2d40,#722c3d,#672a39,#5c2935,#542732)"></i><i style="background:linear-gradient(90deg,#3878cf,#3a89cf,#4798ce,#58a5cd,#6bb2cd,#7ebdce,#8dc6d0,#98cdd2,#a4d5d5,#a9d9d6,#a9d9d6,#a1d3d4,#98cdd2,#8ac4d0,#75b8ce,#5da9cd,#4798ce,#3781d0,#4167c7,#4a50a9,#413e77,#323050,#252532,#1f1e21,#271e1f,#392126,#4d252f,#622937,#752c3e,#872d42,#932e44,#9f2f44,#a52f44,#a83044,#a83044,#a52f44,#9f2f44,#992e44,#902e44,#842d42,#7b2d40,#702b3c,#672a39,#5c2935,#522731)"></i><i style="background:linear-gradient(90deg,#3878cf,#3a89cf,#4798ce,#58a5cd,#6bb2cd,#7ebdce,#8dc6d0,#9bcfd3,#a4d5d5,#acdbd7,#a9d9d6,#a4d5d5,#9bcfd3,#8ac4d0,#78b9ce,#60abcd,#499ace,#3885d0,#3e6ccb,#4952ad,#43417f,#333153,#262534,#1f1f21,#261e1f,#372025,#4a252e,#5f2936,#722c3d,#842d42,#902e44,#9c2f45,#a22f44,#a52f44,#a52f44,#a22f44,#9c2f45,#962e44,#8d2e43,#842d42,#782c3f,#702b3c,#642a38,#5c2935,#522731)"></i><i style="background:linear-gradient(90deg,#3878cf,#3a89cf,#4798ce,#58a5cd,#6bb2cd,#7ebdce,#8dc6d0,#9bcfd3,#a7d7d5,#acdbd7,#acdbd7,#a7d7d5,#9bcfd3,#8dc6d0,#7bbbce,#63adcd,#4c9ccd,#3987cf,#3d6ecc,#4954b0,#444282,#363459,#282739,#201f24,#231e1e,#332023,#48242c,#5c2935,#702b3c,#7e2d40,#8d2e43,#962e44,#9f2f44,#a22f44,#a22f44,#9f2f44,#992e44,#932e44,#8a2e43,#812d41,#782c3f,#6d2b3b,#642a38,#5a2834,#522731)"></i><i style="background:linear-gradient(90deg,#3878cf,#3a89cf,#4798ce,#58a5cd,#6bb2cd,#7ebdce,#90c8d1,#9bcfd3,#a7d7d5,#acdbd7,#afddd7,#a9d9d6,#9ed1d3,#90c8d1,#7ebdce,#65afcd,#4e9ecd,#3a89cf,#3b71cd,#4858b6,#454386,#37355c,#29283b,#202025,#221e1e,#311f23,#43232a,#572833,#6a2b3a,#7b2d40,#8a2e43,#932e44,#992e44,#9f2f44,#9f2f44,#9c2f45,#962e44,#902e44,#8a2e43,#812d41,#752c3e,#6d2b3b,#622937,#5a2834,#4f2630)"></i><i style="background:linear-gradient(90deg,#377ad0,#3a89cf,#4798ce,#58a5cd,#6bb2cd,#7ebdce,#90c8d1,#9ed1d3,#a7d7d5,#afddd7,#afddd7,#acdbd7,#a1d3d4,#93cad1,#81bfcf,#68b0cd,#50a0cd,#3c8ccf,#3a73ce,#475ab9,#47468e,#393763,#2b2a40,#212028,#211e1e,#2f1f22,#412329,#542732,#672a39,#782c3f,#872d42,#902e44,#962e44,#9c2f45,#9c2f45,#992e44,#962e44,#902e44,#872d42,#7e2d40,#752c3e,#6a2b3a,#622937,#572833,#4f2630)"></i><i style="background:linear-gradient(90deg,#377ad0,#3a89cf,#4798ce,#5aa7cd,#6bb2cd,#7ebdce,#90c8d1,#9ed1d3,#a9d9d6,#afddd7,#b2dfd8,#acdbd7,#a4d5d5,#95cbd2,#84c1cf,#6bb2cd,#53a2cd,#3e8ecf,#3878cf,#475cbc,#474792,#3b3866,#2c2b42,#222129,#1f1e1e,#2c1e21,#3f2228,#522731,#642a38,#752c3e,#812d41,#8d2e43,#932e44,#962e44,#992e44,#962e44,#932e44,#8d2e43,#842d42,#7b2d40,#722c3d,#6a2b3a,#5f2936,#572833,#4f2630)"></i><i style="background:linear-gradient(90deg,#377ad0,#3a89cf,#4798ce,#5aa7cd,#6bb2cd,#81bfcf,#90c8d1,#9ed1d3,#a9d9d6,#afddd7,#b4e1d9,#afddd7,#a7d7d5,#98cdd2,#87c2cf,#6eb4cd,#55a3cd,#3f90ce,#377ad0,#465ebe,#484996,#3c3a69,#2d2c45,#22222b,#1f1e1e,#2a1e20,#3b2127,#4d252f,#5f2936,#702b3c,#7e2d40,#8a2e43,#902e44,#932e44,#962e44,#932e44,#902e44,#8a2e43,#842d42,#7b2d40,#722c3d,#672a39,#5f2936,#572833,#4d252f)"></i><i style="background:linear-gradient(90deg,#377ad0,#3a89cf,#4798ce,#5aa7cd,#6bb2cd,#81bfcf,#90c8d1,#9ed1d3,#a9d9d6,#b2dfd8,#b4e1d9,#b2dfd8,#a7d7d5,#9bcfd3,#8ac4d0,#72b6ce,#58a5cd,#4394ce,#377cd0,#4363c3,#494c9e,#3e3c70,#302e4a,#24232e,#1f1e1f,#291e20,#392126,#4a252e,#5c2935,#6d2b3b,#7b2d40,#872d42,#8d2e43,#902e44,#932e44,#902e44,#8d2e43,#872d42,#812d41,#782c3f,#702b3c,#672a39,#5f2936,#542732,#4d252f)"></i><i style="background:linear-gradient(90deg,#377ad0,#3a89cf,#4798ce,#5aa7cd,#6bb2cd,#81bfcf,#90c8d1,#9ed1d3,#a9d9d6,#b2dfd8,#b4e1d9,#b2dfd8,#a9d9d6,#9bcfd3,#8ac4d0,#75b8ce,#5aa7cd,#4596ce,#377fd0,#4265c5,#494da1,#3f3d74,#312f4d,#242430,#1f1e21,#261e1f,#372025,#48242c,#5a2834,#6a2b3a,#782c3f,#812d41,#8a2e43,#8d2e43,#902e44,#8d2e43,#8a2e43,#872d42,#7e2d40,#752c3e,#6d2b3b,#642a38,#5c2935,#542732,#4d252f)"></i><i style="background:linear-gradient(90deg,#377ad0,#3a89cf,#4798ce,#5aa7cd,#6bb2cd,#81bfcf,#93cad1,#a1d3d4,#a9d9d6,#b2dfd8,#b7e3d9,#b4e1d9,#acdbd7,#9ed1d3,#8dc6d0,#78b9ce,#5da9cd,#4798ce,#3781d0,#4167c7,#4a4fa5,#413e77,#323050,#262534,#1f1f21,#251e1f,#332023,#46242b,#572833,#672a39,#752c3e,#7e2d40,#872d42,#8a2e43,#8d2e43,#8d2e43,#8a2e43,#842d42,#7e2d40,#752c3e,#6d2b3b,#642a38,#5c2935,#542732,#4a252e)"></i><i style="background:linear-gradient(90deg,#377ad0,#3a89cf,#4798ce,#5aa7cd,#6bb2cd,#81bfcf,#93cad1,#a1d3d4,#acdbd7,#b4e1d9,#b7e3d9,#b4e1d9,#acdbd7,#a1d3d4,#90c8d1,#7bbbce,#60abcd,#499ace,#3783d0,#3f69c9,#4a50a9,#42407b,#343356,#272636,#201f24,#231e1e,#311f23,#412329,#522731,#622937,#702b3c,#7b2d40,#842d42,#872d42,#8a2e43,#8a2e43,#872d42,#812d41,#7b2d40,#722c3d,#6a2b3a,#622937,#5a2834,#522731,#4a252e)"></i><i style="background:linear-gradient(90deg,#377ad0,#3a89cf,#4798ce,#5aa7cd,#6bb2cd,#81bfcf,#93cad1,#a1d3d4,#acdbd7,#b4e1d9,#b7e3d9,#b7e3d9,#afddd7,#a4d5d5,#93cad1,#7ebdce,#63adcd,#4c9ccd,#3885d0,#3e6ccb,#4954b0,#444282,#363459,#282739,#202025,#221e1e,#2f1f22,#3f2228,#4f2630,#5f2936,#6d2b3b,#782c3f,#812d41,#842d42,#872d42,#872d42,#842d42,#7e2d40,#782c3f,#722c3d,#6a2b3a,#622937,#5a2834,#522731,#4a252e)"></i><i style="background:linear-gradient(90deg,#377ad0,#3a89cf,#4798ce,#5aa7cd,#6bb2cd,#81bfcf,#93cad1,#a1d3d4,#acdbd7,#b4e1d9,#bae5da,#bae5da,#b2dfd8,#a4d5d5,#95cbd2,#7ebdce,#65afcd,#4e9ecd,#3987cf,#3d6ecc,#4956b3,#454386,#37355c,#29283b,#212026,#201e1e,#2d1f21,#3d2228,#4d252f,#5c2935,#6a2b3a,#752c3e,#7e2d40,#812d41,#842d42,#842d42,#812d41,#7e2d40,#752c3e,#702b3c,#672a39,#5f2936,#572833,#4f2630,#48242c)"></i><i style="background:linear-gradient(90deg,#377ad0,#3a89cf,#4798ce,#58a5cd,#6bb2cd,#81bfcf,#93cad1,#a1d3d4,#acdbd7,#b4e1d9,#bae5da,#bae5da,#b2dfd8,#a7d7d5,#95cbd2,#81bfcf,#68b0cd,#50a0cd,#3a89cf,#3b71cd,#4858b6,#46458a,#38365f,#2b2a40,#212028,#1f1e1e,#2a1e20,#3b2127,#4a252e,#5a2834,#672a39,#722c3d,#7b2d40,#7e2d40,#812d41,#812d41,#7e2d40,#7b2d40,#752c3e,#6d2b3b,#672a39,#5f2936,#572833,#4f2630,#48242c)"></i><i style="background:linear-gradient(90deg,#377ad0,#3a89cf,#4798ce,#58a5cd,#6bb2cd,#81bfcf,#93cad1,#a1d3d4,#acdbd7,#b4e1d9,#bae5da,#bae5da,#b4e1d9,#a9d9d6,#98cdd2,#84c1cf,#6bb2cd,#53a2cd,#3c8ccf,#3a73ce,#475ab9,#47468e,#3b3866,#2c2b42,#22222b,#1f1e1e,#291e20,#372025,#48242c,#572833,#642a38,#702b3c,#782c3f,#7b2d40,#7e2d40,#7e2d40,#7b2d40,#782c3f,#722c3d,#6d2b3b,#642a38,#5c2935,#572833,#4f2630,#48242c)"></i><i style="background:linear-gradient(90deg,#3878cf,#3a89cf,#4798ce,#58a5cd,#6bb2cd,#81bfcf,#93cad1,#a1d3d4,#acdbd7,#b4e1d9,#bae5da,#bde7db,#b4e1d9,#a9d9d6,#9bcfd3,#87c2cf,#6eb4cd,#53a2cd,#3e8ecf,#3975cf,#475cbc,#474792,#3c3a69,#2d2c45,#23222d,#1f1e1f,#271e1f,#352024,#43232a,#542732,#622937,#6d2b3b,#722c3d,#782c3f,#7b2d40,#7b2d40,#7b2d40,#752c3e,#702b3c,#6a2b3a,#642a38,#5c2935,#542732,#4d252f,#48242c)"></i><i style="background:linear-gradient(90deg,#3878cf,#3a89cf,#4798ce,#58a5cd,#6bb2cd,#81bfcf,#93cad1,#a1d3d4,#acdbd7,#b4e1d9,#bae5da,#bde7db,#b7e3d9,#acdbd7,#9bcfd3,#87c2cf,#6eb4cd,#55a3cd,#3f90ce,#3878cf,#465ebe,#494a9a,#3d3b6d,#2e2d48,#24232e,#1f1e21,#261e1f,#332023,#412329,#4f2630,#5c2935,#672a39,#702b3c,#752c3e,#782c3f,#782c3f,#782c3f,#752c3e,#702b3c,#6a2b3a,#622937,#5a2834,#542732,#4d252f,#46242b)"></i><i style="background:linear-gradient(90deg,#3878cf,#3987cf,#4798ce,#58a5cd,#6bb2cd,#81bfcf,#93cad1,#a1d3d4,#acdbd7,#b4e1d9,#bae5da,#bde7db,#b7e3d9,#acdbd7,#9ed1d3,#8ac4d0,#72b6ce,#58a5cd,#4192ce,#377ad0,#4560c1,#494c9e,#3e3c70,#312f4d,#252532,#1f1f21,#251e1f,#311f23,#3f2228,#4d252f,#5a2834,#642a38,#6d2b3b,#722c3d,#752c3e,#782c3f,#752c3e,#722c3d,#6d2b3b,#672a39,#622937,#5a2834,#522731,#4d252f,#46242b)"></i><i style="background:linear-gradient(90deg,#3878cf,#3987cf,#4798ce,#58a5cd,#6bb2cd,#81bfcf,#93cad1,#a1d3d4,#acdbd7,#b4e1d9,#bae5da,#bde7db,#bae5da,#afddd7,#9ed1d3,#8dc6d0,#75b8ce,#5aa7cd,#4394ce,#377cd0,#4363c3,#494da1,#3f3d74,#323050,#262534,#1f1f23,#221e1e,#2f1f22,#3d2228,#4a252e,#572833,#622937,#6a2b3a,#702b3c,#752c3e,#752c3e,#722c3d,#702b3c,#6a2b3a,#642a38,#5f2936,#572833,#522731,#4a252e,#46242b)"></i><i style="background:linear-gradient(90deg,#3878cf,#3987cf,#4798ce,#58a5cd,#6bb2cd,#7ebdce,#90c8d1,#a1d3d4,#acdbd7,#b4e1d9,#bde7db,#bde7db,#bae5da,#afddd7,#a1d3d4,#8dc6d0,#78b9ce,#5da9cd,#4596ce,#377fd0,#4265c5,#4a4fa5,#413e77,#333153,#272636,#201f24,#211e1e,#2c1e21,#3b2127,#48242c,#542732,#5f2936,#672a39,#6d2b3b,#722c3d,#722c3d,#702b3c,#6d2b3b,#6a2b3a,#642a38,#5c2935,#572833,#4f2630,#4a252e,#43232a)"></i><i style="background:linear-gradient(90deg,#3878cf,#3987cf,#4596ce,#58a5cd,#6bb2cd,#7ebdce,#90c8d1,#a1d3d4,#acdbd7,#b4e1d9,#bde7db,#bde7db,#bae5da,#b2dfd8,#a4d5d5,#90c8d1,#78b9ce,#60abcd,#4798ce,#3781d0,#4167c7,#4a50a9,#42407b,#343356,#282739,#212026,#201e1e,#2a1e20,#392126,#46242b,#522731,#5c2935,#642a38,#6d2b3b,#702b3c,#702b3c,#702b3c,#6d2b3b,#672a39,#622937,#5c2935,#572833,#4f2630,#48242c,#43232a)"></i><i style="background:linear-gradient(90deg,#3878cf,#3987cf,#4596ce,#55a3cd,#68b0cd,#7ebdce,#90c8d1,#9ed1d3,#acdbd7,#b4e1d9,#bde7db,#bde7db,#bde7db,#b2dfd8,#a4d5d5,#93cad1,#7bbbce,#60abcd,#499ace,#3783d0,#3f69c9,#4952ad,#444282,#363459,#29283b,#212028,#1f1e1e,#291e20,#372025,#43232a,#4f2630,#5a2834,#622937,#6a2b3a,#6d2b3b,#6d2b3b,#6d2b3b,#6a2b3a,#642a38,#622937,#5a2834,#542732,#4f2630,#48242c,#43232a)"></i><i style="background:linear-gradient(90deg,#3975cf,#3987cf,#4596ce,#55a3cd,#68b0cd,#7ebdce,#90c8d1,#9ed1d3,#acdbd7,#b4e1d9,#bde7db,#bde7db,#bde7db,#b4e1d9,#a7d7d5,#93cad1,#7ebdce,#63adcd,#499ace,#3885d0,#3e6ccb,#4954b0,#454386,#37355c,#2a293d,#222129,#1f1e1e,#271e1f,#332023,#412329,#4d252f,#572833,#5f2936,#672a39,#6a2b3a,#6a2b3a,#6a2b3a,#672a39,#642a38,#5f2936,#5a2834,#542732,#4d252f,#48242c,#412329)"></i><i style="background:linear-gradient(90deg,#3975cf,#3885d0,#4596ce,#55a3cd,#68b0cd,#7ebdce,#90c8d1,#9ed1d3,#acdbd7,#b4e1d9,#bae5da,#bde7db,#bde7db,#b4e1d9,#a7d7d5,#95cbd2,#7ebdce,#65afcd,#4c9ccd,#3987cf,#3d6ecc,#4956b3,#46458a,#38365f,#2c2b42,#22222b,#1f1e1f,#261e1f,#311f23,#3f2228,#4a252e,#542732,#5c2935,#642a38,#672a39,#6a2b3a,#672a39,#672a39,#622937,#5c2935,#572833,#522731,#4d252f,#46242b,#412329)"></i><i style="background:linear-gradient(90deg,#3975cf,#3885d0,#4596ce,#55a3cd,#68b0cd,#7bbbce,#90c8d1,#9ed1d3,#acdbd7,#b4e1d9,#bae5da,#bde7db,#bde7db,#b4e1d9,#a7d7d5,#95cbd2,#81bfcf,#65afcd,#4e9ecd,#3a89cf,#3b71cd,#4858b6,#47468e,#393763,#2d2c45,#23222d,#1f1e20,#251e1f,#2f1f22,#3d2228,#48242c,#522731,#5a2834,#622937,#642a38,#672a39,#672a39,#642a38,#622937,#5c2935,#572833,#522731,#4a252e,#46242b,#412329)"></i><i style="background:linear-gradient(90deg,#3975cf,#3885d0,#4394ce,#55a3cd,#68b0cd,#7bbbce,#8dc6d0,#9ed1d3,#a9d9d6,#b4e1d9,#bae5da,#bde7db,#bde7db,#b7e3d9,#a9d9d6,#98cdd2,#81bfcf,#68b0cd,#50a0cd,#3a89cf,#3a73ce,#475ab9,#474792,#3b3866,#2e2d48,#24232e,#1f1f21,#231e1e,#2d1f21,#3b2127,#46242b,#4f2630,#5a2834,#5f2936,#622937,#642a38,#642a38,#622937,#5f2936,#5a2834,#542732,#4f2630,#4a252e,#46242b,#3f2228)"></i><i style="background:linear-gradient(90deg,#3a73ce,#3885d0,#4394ce,#53a2cd,#65afcd,#7bbbce,#8dc6d0,#9ed1d3,#a9d9d6,#b4e1d9,#bae5da,#bde7db,#bde7db,#b7e3d9,#a9d9d6,#98cdd2,#84c1cf,#68b0cd,#50a0cd,#3c8ccf,#3975cf,#475cbc,#484996,#3c3a69,#302e4a,#242430,#1f1f23,#221e1e,#2c1e21,#392126,#43232a,#4d252f,#572833,#5c2935,#5f2936,#622937,#622937,#5f2936,#5c2935,#5a2834,#542732,#4f2630,#48242c,#43232a,#3f2228)"></i><i style="background:linear-gradient(90deg,#3a73ce,#3783d0,#4394ce,#53a2cd,#65afcd,#7bbbce,#8dc6d0,#9bcfd3,#a9d9d6,#b4e1d9,#bae5da,#bde7db,#bde7db,#b7e3d9,#a9d9d6,#9bcfd3,#84c1cf,#6bb2cd,#53a2cd,#3e8ecf,#3975cf,#475cbc,#484996,#3d3b6d,#312f4d,#252532,#201f24,#211e1e,#2a1e20,#372025,#412329,#4a252e,#542732,#5a2834,#5f2936,#5f2936,#5f2936,#5f2936,#5c2935,#572833,#522731,#4d252f,#48242c,#43232a,#3f2228)"></i><i style="background:linear-gradient(90deg,#3a73ce,#3783d0,#4192ce,#53a2cd,#65afcd,#78b9ce,#8dc6d0,#9bcfd3,#a9d9d6,#b2dfd8,#bae5da,#bde7db,#bde7db,#b7e3d9,#acdbd7,#9bcfd3,#87c2cf,#6eb4cd,#53a2cd,#3f90ce,#3878cf,#465ebe,#494a9a,#3e3c70,#323050,#272636,#202025,#201e1e,#291e20,#352024,#3f2228,#48242c,#522731,#572833,#5c2935,#5f2936,#5f2936,#5c2935,#5a2834,#572833,#522731,#4d252f,#48242c,#412329,#3d2228)"></i><i style="background:linear-gradient(90deg,#3a73ce,#3783d0,#4192ce,#50a0cd,#63adcd,#78b9ce,#8ac4d0,#9bcfd3,#a7d7d5,#b2dfd8,#bae5da,#bde7db,#bde7db,#bae5da,#acdbd7,#9bcfd3,#87c2cf,#6eb4cd,#55a3cd,#3f90ce,#377ad0,#4560c1,#494c9e,#3f3d74,#333153,#282739,#212026,#1f1e1e,#271e1f,#332023,#3d2228,#46242b,#4f2630,#542732,#5a2834,#5c2935,#5c2935,#5a2834,#572833,#542732,#4f2630,#4a252e,#46242b,#412329,#3d2228)"></i><i style="background:linear-gradient(90deg,#3b71cd,#3783d0,#4192ce,#50a0cd,#63adcd,#78b9ce,#8ac4d0,#98cdd2,#a7d7d5,#b2dfd8,#b7e3d9,#bde7db,#bde7db,#bae5da,#acdbd7,#9ed1d3,#8ac4d0,#72b6ce,#58a5cd,#4192ce,#377cd0,#4363c3,#494da1,#413e77,#343356,#29283b,#212028,#1f1e1e,#261e1f,#311f23,#3b2127,#43232a,#4d252f,#522731,#572833,#5a2834,#5a2834,#5a2834,#572833,#522731,#4f2630,#4a252e,#46242b,#412329,#3d2228)"></i><i style="background:linear-gradient(90deg,#3b71cd,#3781d0,#4192ce,#50a0cd,#63adcd,#75b8ce,#8ac4d0,#98cdd2,#a7d7d5,#b2dfd8,#b7e3d9,#bde7db,#bde7db,#bae5da,#afddd7,#9ed1d3,#8ac4d0,#72b6ce,#58a5cd,#4394ce,#377cd0,#4265c5,#4a4fa5,#42407b,#363459,#2a293d,#222129,#1f1e1f,#251e1f,#2f1f22,#392126,#43232a,#4a252e,#522731,#542732,#572833,#5a2834,#572833,#542732,#522731,#4d252f,#48242c,#43232a,#3f2228,#3b2127)"></i><i style="background:linear-gradient(90deg,#3b71cd,#3781d0,#3f90ce,#4e9ecd,#60abcd,#75b8ce,#87c2cf,#98cdd2,#a4d5d5,#afddd7,#b7e3d9,#bae5da,#bde7db,#b7e3d9,#afddd7,#9ed1d3,#8ac4d0,#72b6ce,#5aa7cd,#4394ce,#377fd0,#4265c5,#4a50a9,#43417f,#37355c,#2b2a40,#22222b,#1f1e20,#231e1e,#2d1f21,#372025,#412329,#48242c,#4f2630,#542732,#572833,#572833,#542732,#542732,#4f2630,#4d252f,#48242c,#43232a,#3f2228,#3b2127)"></i><i style="background:linear-gradient(90deg,#3b71cd,#3781d0,#3f90ce,#4e9ecd,#60abcd,#75b8ce,#87c2cf,#95cbd2,#a4d5d5,#afddd7,#b7e3d9,#bae5da,#bae5da,#b7e3d9,#afddd7,#9ed1d3,#8dc6d0,#75b8ce,#5aa7cd,#4596ce,#3781d0,#4167c7,#4952ad,#444282,#38365f,#2b2a40,#23222d,#1f1e21,#231e1e,#2c1e21,#352024,#3f2228,#46242b,#4d252f,#522731,#542732,#542732,#542732,#522731,#4f2630,#4a252e,#48242c,#43232a,#3f2228,#3b2127)"></i><i style="background:linear-gradient(90deg,#3d6ecc,#377fd0,#3f90ce,#4e9ecd,#60abcd,#72b6ce,#84c1cf,#95cbd2,#a4d5d5,#afddd7,#b4e1d9,#bae5da,#bae5da,#b7e3d9,#afddd7,#a1d3d4,#8dc6d0,#75b8ce,#5da9cd,#4596ce,#3781d0,#3f69c9,#4952ad,#454386,#38365f,#2c2b42,#24232e,#1f1f21,#221e1e,#2a1e20,#332023,#3d2228,#43232a,#4a252e,#4f2630,#522731,#522731,#522731,#4f2630,#4d252f,#4a252e,#46242b,#412329,#3d2228,#392126)"></i><i style="background:linear-gradient(90deg,#3d6ecc,#377fd0,#3e8ecf,#4c9ccd,#5da9cd,#72b6ce,#84c1cf,#95cbd2,#a1d3d4,#acdbd7,#b4e1d9,#bae5da,#bae5da,#b7e3d9,#afddd7,#a1d3d4,#8dc6d0,#78b9ce,#5da9cd,#4798ce,#3783d0,#3e6ccb,#4954b0,#46458a,#393763,#2d2c45,#242430,#1f1f23,#211e1e,#291e20,#332023,#3b2127,#43232a,#48242c,#4d252f,#4f2630,#522731,#522731,#4f2630,#4d252f,#48242c,#46242b,#412329,#3d2228,#392126)"></i><i style="background:linear-gradient(90deg,#3d6ecc,#377fd0,#3e8ecf,#4c9ccd,#5da9cd,#6eb4cd,#84c1cf,#93cad1,#a1d3d4,#acdbd7,#b4e1d9,#b7e3d9,#bae5da,#b7e3d9,#afddd7,#a1d3d4,#8dc6d0,#78b9ce,#5da9cd,#4798ce,#3783d0,#3e6ccb,#4956b3,#46458a,#3b3866,#2e2d48,#252532,#201f24,#201e1e,#271e1f,#311f23,#392126,#412329,#48242c,#4a252e,#4f2630,#4f2630,#4f2630,#4d252f,#4a252e,#48242c,#43232a,#3f2228,#3d2228,#392126)"></i><i style="background:linear-gradient(90deg,#3e6ccb,#377cd0,#3c8ccf,#499ace,#5aa7cd,#6eb4cd,#81bfcf,#93cad1,#a1d3d4,#a9d9d6,#b2dfd8,#b7e3d9,#b7e3d9,#b7e3d9,#afddd7,#a1d3d4,#90c8d1,#78b9ce,#60abcd,#499ace,#3885d0,#3d6ecc,#4956b3,#47468e,#3c3a69,#302e4a,#262534,#202025,#1f1e1e,#261e1f,#2f1f22,#372025,#3f2228,#46242b,#4a252e,#4d252f,#4d252f,#4d252f,#4d252f,#4a252e,#46242b,#43232a,#3f2228,#3b2127,#392126)"></i><i style="background:linear-gradient(90deg,#3e6ccb,#377cd0,#3c8ccf,#499ace,#5aa7cd,#6eb4cd,#81bfcf,#90c8d1,#9ed1d3,#a9d9d6,#b2dfd8,#b7e3d9,#b7e3d9,#b4e1d9,#afddd7,#a1d3d4,#90c8d1,#78b9ce,#60abcd,#499ace,#3885d0,#3d6ecc,#4858b6,#474792,#3d3b6d,#312f4d,#272636,#212026,#1f1e1e,#261e1f,#2d1f21,#372025,#3d2228,#43232a,#48242c,#4a252e,#4d252f,#4d252f,#4a252e,#48242c,#46242b,#412329,#3f2228,#3b2127,#372025)"></i><i style="background:linear-gradient(90deg,#3e6ccb,#377cd0,#3c8ccf,#499ace,#58a5cd,#6bb2cd,#7ebdce,#90c8d1,#9ed1d3,#a9d9d6,#afddd7,#b4e1d9,#b7e3d9,#b4e1d9,#afddd7,#a1d3d4,#90c8d1,#7bbbce,#60abcd,#499ace,#3987cf,#3b71cd,#475ab9,#474792,#3d3b6d,#323050,#272636,#212028,#1f1e1f,#251e1f,#2c1e21,#352024,#3b2127,#412329,#46242b,#4a252e,#4a252e,#4a252e,#4a252e,#48242c,#43232a,#412329,#3d2228,#3b2127,#372025)"></i><i style="background:linear-gradient(90deg,#3f69c9,#377ad0,#3a89cf,#4798ce,#58a5cd,#6bb2cd,#7ebdce,#8dc6d0,#9bcfd3,#a7d7d5,#afddd7,#b4e1d9,#b4e1d9,#b4e1d9,#afddd7,#a1d3d4,#90c8d1,#7bbbce,#63adcd,#4c9ccd,#3987cf,#3b71cd,#475ab9,#484996,#3e3c70,#323050,#282739,#222129,#1f1e20,#231e1e,#2a1e20,#332023,#3b2127,#412329,#46242b,#48242c,#48242c,#48242c,#48242c,#46242b,#43232a,#412329,#3d2228,#392126,#372025)"></i><i style="background:linear-gradient(90deg,#3f69c9,#377ad0,#3a89cf,#4798ce,#58a5cd,#68b0cd,#7bbbce,#8dc6d0,#9bcfd3,#a7d7d5,#afddd7,#b2dfd8,#b4e1d9,#b2dfd8,#acdbd7,#a1d3d4,#90c8d1,#7bbbce,#63adcd,#4c9ccd,#3a89cf,#3a73ce,#475cbc,#494a9a,#3f3d74,#333153,#29283b,#222129,#1f1e20,#221e1e,#2a1e20,#311f23,#392126,#3f2228,#43232a,#46242b,#48242c,#48242c,#46242b,#46242b,#43232a,#3f2228,#3d2228,#392126,#352024)"></i><i style="background:linear-gradient(90deg,#4167c7,#3878cf,#3987cf,#4596ce,#55a3cd,#68b0cd,#7bbbce,#8ac4d0,#98cdd2,#a4d5d5,#acdbd7,#b2dfd8,#b4e1d9,#b2dfd8,#acdbd7,#a1d3d4,#90c8d1,#7bbbce,#63adcd,#4e9ecd,#3a89cf,#3a73ce,#475cbc,#494a9a,#413e77,#343356,#2a293d,#22222b,#1f1e21,#211e1e,#291e20,#2f1f22,#372025,#3d2228,#412329,#43232a,#46242b,#46242b,#46242b,#43232a,#412329,#3f2228,#3b2127,#392126,#352024)"></i><i style="background:linear-gradient(90deg,#4167c7,#3878cf,#3987cf,#4596ce,#55a3cd,#65afcd,#78b9ce,#8ac4d0,#98cdd2,#a4d5d5,#acdbd7,#afddd7,#b2dfd8,#b2dfd8,#acdbd7,#a1d3d4,#90c8d1,#7bbbce,#65afcd,#4e9ecd,#3c8ccf,#3975cf,#465ebe,#494c9e,#413e77,#363459,#2b2a40,#23222d,#1f1f21,#211e1e,#271e1f,#2f1f22,#352024,#3b2127,#3f2228,#43232a,#46242b,#46242b,#43232a,#43232a,#412329,#3d2228,#3b2127,#372025,#352024)"></i><i style="background:linear-gradient(90deg,#4167c7,#3975cf,#3885d0,#4394ce,#53a2cd,#65afcd,#78b9ce,#87c2cf,#95cbd2,#a1d3d4,#a9d9d6,#afddd7,#b2dfd8,#afddd7,#a9d9d6,#a1d3d4,#90c8d1,#7ebdce,#65afcd,#4e9ecd,#3c8ccf,#3975cf,#4560c1,#494da1,#42407b,#363459,#2b2a40,#24232e,#1f1f23,#201e1e,#261e1f,#2d1f21,#352024,#3b2127,#3f2228,#412329,#43232a,#43232a,#43232a,#412329,#3f2228,#3d2228,#3b2127,#372025,#352024)"></i><i style="background:linear-gradient(90deg,#4265c5,#3975cf,#3885d0,#4394ce,#50a0cd,#63adcd,#75b8ce,#87c2cf,#93cad1,#9ed1d3,#a7d7d5,#acdbd7,#afddd7,#afddd7,#a9d9d6,#a1d3d4,#90c8d1,#7ebdce,#65afcd,#4e9ecd,#3c8ccf,#3878cf,#4560c1,#494da1,#43417f,#37355c,#2c2b42,#242430,#201f24,#1f1e1e,#261e1f,#2c1e21,#332023,#392126,#3d2228,#412329,#412329,#43232a,#412329,#412329,#3f2228,#3d2228,#392126,#372025,#332023)"></i><i style="background:linear-gradient(90deg,#4265c5,#3975cf,#3783d0,#4192ce,#50a0cd,#60abcd,#72b6ce,#84c1cf,#93cad1,#9ed1d3,#a7d7d5,#acdbd7,#afddd7,#acdbd7,#a9d9d6,#a1d3d4,#90c8d1,#7ebdce,#65afcd,#50a0cd,#3e8ecf,#3878cf,#4560c1,#4a4fa5,#43417f,#38365f,#2d2c45,#242430,#201f24,#1f1e1e,#251e1f,#2c1e21,#311f23,#372025,#3b2127,#3f2228,#412329,#412329,#412329,#3f2228,#3d2228,#3b2127,#392126,#352024,#332023)"></i><i style="background:linear-gradient(90deg,#4363c3,#3a73ce,#3783d0,#4192ce,#4e9ecd,#60abcd,#72b6ce,#81bfcf,#90c8d1,#9bcfd3,#a4d5d5,#a9d9d6,#acdbd7,#acdbd7,#a7d7d5,#9ed1d3,#90c8d1,#7ebdce,#65afcd,#50a0cd,#3e8ecf,#377ad0,#4363c3,#4a4fa5,#444282,#38365f,#2d2c45,#252532,#202025,#1f1e1e,#231e1e,#2a1e20,#311f23,#372025,#3b2127,#3d2228,#3f2228,#412329,#3f2228,#3f2228,#3d2228,#3b2127,#392126,#352024,#332023)"></i><i style="background:linear-gradient(90deg,#4363c3,#3a73ce,#3781d0,#3f90ce,#4e9ecd,#5da9cd,#6eb4cd,#81bfcf,#90c8d1,#9bcfd3,#a4d5d5,#a9d9d6,#acdbd7,#a9d9d6,#a7d7d5,#9ed1d3,#90c8d1,#7ebdce,#65afcd,#50a0cd,#3e8ecf,#377ad0,#4363c3,#4a50a9,#444282,#393763,#2e2d48,#262534,#212026,#1f1e1f,#231e1e,#291e20,#2f1f22,#352024,#392126,#3d2228,#3f2228,#3f2228,#3f2228,#3d2228,#3b2127,#392126,#372025,#352024,#311f23)"></i><i style="background:linear-gradient(90deg,#4363c3,#3b71cd,#3781d0,#3f90ce,#4c9ccd,#5da9cd,#6eb4cd,#7ebdce,#8dc6d0,#98cdd2,#a1d3d4,#a7d7d5,#a9d9d6,#a9d9d6,#a4d5d5,#9ed1d3,#90c8d1,#7ebdce,#65afcd,#50a0cd,#3e8ecf,#377ad0,#4265c5,#4a50a9,#454386,#3b3866,#302e4a,#262534,#212028,#1f1e20,#221e1e,#291e20,#2d1f21,#332023,#392126,#3b2127,#3d2228,#3d2228,#3d2228,#3d2228,#3b2127,#392126,#372025,#352024,#311f23)"></i><i style="background:linear-gradient(90deg,#4560c1,#3b71cd,#377fd0,#3e8ecf,#4c9ccd,#5aa7cd,#6bb2cd,#7bbbce,#8ac4d0,#95cbd2,#9ed1d3,#a7d7d5,#a9d9d6,#a7d7d5,#a4d5d5,#9bcfd3,#90c8d1,#7ebdce,#65afcd,#50a0cd,#3f90ce,#377ad0,#4265c5,#4952ad,#454386,#3b3866,#302e4a,#272636,#212028,#1f1e20,#211e1e,#271e1f,#2d1f21,#332023,#372025,#3b2127,#3d2228,#3d2228,#3d2228,#3b2127,#3b2127,#392126,#352024,#332023,#311f23)"></i><i style="background:linear-gradient(90deg,#4560c1,#3d6ecc,#377fd0,#3e8ecf,#499ace,#58a5cd,#68b0cd,#7bbbce,#8ac4d0,#95cbd2,#9ed1d3,#a4d5d5,#a7d7d5,#a7d7d5,#a1d3d4,#9bcfd3,#90c8d1,#7ebdce,#65afcd,#50a0cd,#3f90ce,#377cd0,#4265c5,#4952ad,#46458a,#3c3a69,#312f4d,#282739,#222129,#1f1e21,#211e1e,#261e1f,#2c1e21,#311f23,#352024,#392126,#3b2127,#3b2127,#3b2127,#3b2127,#392126,#372025,#352024,#332023,#311f23)"></i><i style="background:linear-gradient(90deg,#465ebe,#3d6ecc,#377cd0,#3c8ccf,#4798ce,#58a5cd,#68b0cd,#78b9ce,#87c2cf,#93cad1,#9bcfd3,#a1d3d4,#a4d5d5,#a4d5d5,#a1d3d4,#98cdd2,#90c8d1,#7bbbce,#65afcd,#50a0cd,#3f90ce,#377cd0,#4167c7,#4952ad,#46458a,#3c3a69,#323050,#282739,#22222b,#1f1f21,#201e1e,#261e1f,#2a1e20,#2f1f22,#352024,#372025,#392126,#3b2127,#3b2127,#3b2127,#392126,#372025,#352024,#332023,#2f1f22)"></i><i style="background:linear-gradient(90deg,#465ebe,#3e6ccb,#377cd0,#3a89cf,#4798ce,#55a3cd,#65afcd,#75b8ce,#84c1cf,#90c8d1,#98cdd2,#a1d3d4,#a4d5d5,#a4d5d5,#9ed1d3,#98cdd2,#8dc6d0,#7bbbce,#65afcd,#50a0cd,#3f90ce,#377cd0,#4167c7,#4954b0,#47468e,#3d3b6d,#323050,#29283b,#22222b,#1f1f21,#201e1e,#251e1f,#2a1e20,#2f1f22,#332023,#372025,#392126,#392126,#392126,#392126,#372025,#372025,#352024,#311f23,#2f1f22)"></i><i style="background:linear-gradient(90deg,#475cbc,#3e6ccb,#377ad0,#3a89cf,#4596ce,#53a2cd,#63adcd,#75b8ce,#81bfcf,#90c8d1,#98cdd2,#9ed1d3,#a1d3d4,#a1d3d4,#9ed1d3,#95cbd2,#8dc6d0,#7bbbce,#65afcd,#50a0cd,#3f90ce,#377cd0,#4167c7,#4954b0,#47468e,#3d3b6d,#333153,#2a293d,#23222d,#1f1f23,#1f1e1e,#251e1f,#291e20,#2d1f21,#332023,#352024,#372025,#392126,#392126,#392126,#372025,#352024,#332023,#311f23,#2f1f22)"></i><i style="background:linear-gradient(90deg,#475cbc,#3f69c9,#377ad0,#3987cf,#4596ce,#53a2cd,#63adcd,#72b6ce,#81bfcf,#8dc6d0,#95cbd2,#9bcfd3,#9ed1d3,#9ed1d3,#9bcfd3,#95cbd2,#8ac4d0,#7bbbce,#65afcd,#50a0cd,#3f90ce,#377fd0,#3f69c9,#4956b3,#474792,#3e3c70,#333153,#2a293d,#24232e,#201f24,#1f1e1e,#231e1e,#291e20,#2d1f21,#311f23,#352024,#372025,#372025,#392126,#372025,#372025,#352024,#332023,#311f23,#2f1f22)"></i><i style="background:linear-gradient(90deg,#475ab9,#3f69c9,#3878cf,#3987cf,#4394ce,#50a0cd,#60abcd,#6eb4cd,#7ebdce,#8ac4d0,#93cad1,#98cdd2,#9ed1d3,#9ed1d3,#9bcfd3,#93cad1,#8ac4d0,#7bbbce,#65afcd,#50a0cd,#3f90ce,#377fd0,#3f69c9,#4956b3,#474792,#3e3c70,#343356,#2b2a40,#24232e,#201f24,#1f1e1e,#221e1e,#271e1f,#2c1e21,#311f23,#332023,#352024,#372025,#372025,#372025,#352024,#352024,#332023,#311f23,#2d1f21)"></i><i style="background:linear-gradient(90deg,#475ab9,#4167c7,#3878cf,#3885d0,#4192ce,#4e9ecd,#5da9cd,#6eb4cd,#7bbbce,#87c2cf,#90c8d1,#98cdd2,#9bcfd3,#9bcfd3,#98cdd2,#93cad1,#8ac4d0,#7bbbce,#65afcd,#50a0cd,#3f90ce,#377fd0,#3f69c9,#4956b3,#474792,#3f3d74,#343356,#2b2a40,#242430,#202025,#1f1e1f,#221e1e,#271e1f,#2c1e21,#2f1f22,#332023,#352024,#352024,#372025,#352024,#352024,#332023,#311f23,#2f1f22,#2d1f21)"></i><i style="background:linear-gradient(90deg,#4858b6,#4167c7,#3975cf,#3783d0,#4192ce,#4e9ecd,#5da9cd,#6bb2cd,#7bbbce,#87c2cf,#90c8d1,#95cbd2,#98cdd2,#98cdd2,#95cbd2,#90c8d1,#87c2cf,#78b9ce,#65afcd,#50a0cd,#3f90ce,#377fd0,#3f69c9,#4956b3,#484996,#3f3d74,#363459,#2c2b42,#242430,#212026,#1f1e1f,#211e1e,#261e1f,#2a1e20,#2f1f22,#311f23,#332023,#352024,#352024,#352024,#352024,#332023,#311f23,#2f1f22,#2d1f21)"></i><i style="background:linear-gradient(90deg,#4858b6,#4265c5,#3a73ce,#3783d0,#3f90ce,#4c9ccd,#5aa7cd,#68b0cd,#78b9ce,#84c1cf,#8dc6d0,#93cad1,#95cbd2,#98cdd2,#95cbd2,#90c8d1,#87c2cf,#78b9ce,#63adcd,#50a0cd,#3f90ce,#377fd0,#3f69c9,#4858b6,#484996,#3f3d74,#363459,#2c2b42,#252532,#212026,#1f1e20,#211e1e,#261e1f,#2a1e20,#2d1f21,#311f23,#332023,#352024,#352024,#352024,#332023,#332023,#311f23,#2f1f22,#2d1f21)"></i><i style="background:linear-gradient(90deg,#4956b3,#4265c5,#3a73ce,#3781d0,#3e8ecf,#499ace,#58a5cd,#65afcd,#75b8ce,#81bfcf,#8ac4d0,#90c8d1,#95cbd2,#95cbd2,#93cad1,#8dc6d0,#84c1cf,#78b9ce,#63adcd,#50a0cd,#3f90ce,#377fd0,#3f69c9,#4858b6,#484996,#413e77,#37355c,#2d2c45,#252532,#212028,#1f1e21,#201e1e,#251e1f,#291e20,#2c1e21,#2f1f22,#311f23,#332023,#332023,#332023,#332023,#311f23,#2f1f22,#2d1f21,#2c1e21)"></i><i style="background:linear-gradient(90deg,#4956b3,#4363c3,#3b71cd,#377fd0,#3e8ecf,#499ace,#55a3cd,#63adcd,#72b6ce,#7ebdce,#87c2cf,#90c8d1,#93cad1,#93cad1,#90c8d1,#8ac4d0,#81bfcf,#75b8ce,#63adcd,#50a0cd,#3f90ce,#377fd0,#3e6ccb,#4858b6,#484996,#413e77,#37355c,#2d2c45,#262534,#212028,#1f1e21,#201e1e,#251e1f,#291e20,#2c1e21,#2f1f22,#311f23,#332023,#332023,#332023,#311f23,#311f23,#2f1f22,#2d1f21,#2c1e21)"></i><i style="background:linear-gradient(90deg,#4954b0,#4560c1,#3b71cd,#377fd0,#3c8ccf,#4798ce,#55a3cd,#63adcd,#6eb4cd,#7bbbce,#87c2cf,#8dc6d0,#90c8d1,#90c8d1,#90c8d1,#8ac4d0,#81bfcf,#75b8ce,#63adcd,#50a0cd,#3f90ce,#377fd0,#3e6ccb,#4858b6,#494a9a,#413e77,#37355c,#2e2d48,#262534,#222129,#1f1f21,#1f1e1e,#231e1e,#271e1f,#2c1e21,#2d1f21,#311f23,#311f23,#332023,#332023,#311f23,#311f23,#2f1f22,#2d1f21,#2c1e21)"></i><i style="background:linear-gradient(90deg,#4954b0,#4560c1,#3d6ecc,#377cd0,#3a89cf,#4596ce,#53a2cd,#60abcd,#6eb4cd,#78b9ce,#84c1cf,#8ac4d0,#8dc6d0,#90c8d1,#8dc6d0,#87c2cf,#7ebdce,#72b6ce,#63adcd,#50a0cd,#3f90ce,#377fd0,#3e6ccb,#4858b6,#494a9a,#42407b,#38365f,#2e2d48,#272636,#222129,#1f1f21,#1f1e1e,#231e1e,#271e1f,#2a1e20,#2d1f21,#2f1f22,#311f23,#311f23,#311f23,#311f23,#2f1f22,#2f1f22,#2d1f21,#2c1e21)"></i><i style="background:linear-gradient(90deg,#4952ad,#465ebe,#3e6ccb,#377cd0,#3a89cf,#4394ce,#50a0cd,#5da9cd,#6bb2cd,#78b9ce,#81bfcf,#87c2cf,#8dc6d0,#8dc6d0,#8ac4d0,#84c1cf,#7ebdce,#72b6ce,#60abcd,#4e9ecd,#3f90ce,#377fd0,#3e6ccb,#4858b6,#494a9a,#42407b,#38365f,#2e2d48,#272636,#22222b,#1f1f23,#1f1e1e,#221e1e,#261e1f,#2a1e20,#2c1e21,#2f1f22,#2f1f22,#311f23,#311f23,#2f1f22,#2f1f22,#2d1f21,#2c1e21,#2c1e21)"></i><i style="background:linear-gradient(90deg,#4952ad,#465ebe,#3e6ccb,#377ad0,#3987cf,#4394ce,#4e9ecd,#5aa7cd,#68b0cd,#75b8ce,#7ebdce,#84c1cf,#8ac4d0,#8ac4d0,#87c2cf,#84c1cf,#7bbbce,#6eb4cd,#60abcd,#4e9ecd,#3f90ce,#377fd0,#3e6ccb,#475ab9,#494a9a,#42407b,#38365f,#302e4a,#282739,#22222b,#1f1f23,#1f1e1e,#221e1e,#261e1f,#291e20,#2c1e21,#2d1f21,#2f1f22,#2f1f22,#2f1f22,#2f1f22,#2f1f22,#2d1f21,#2c1e21,#2a1e20)"></i><i style="background:linear-gradient(90deg,#4a50a9,#475cbc,#3f69c9,#3878cf,#3885d0,#4192ce,#4c9ccd,#58a5cd,#65afcd,#72b6ce,#7bbbce,#81bfcf,#87c2cf,#87c2cf,#87c2cf,#81bfcf,#78b9ce,#6eb4cd,#60abcd,#4e9ecd,#3f90ce,#377fd0,#3e6ccb,#475ab9,#494c9e,#42407b,#393763,#302e4a,#282739,#23222d,#201f24,#1f1e1e,#211e1e,#251e1f,#291e20,#2c1e21,#2d1f21,#2f1f22,#2f1f22,#2f1f22,#2f1f22,#2d1f21,#2d1f21,#2c1e21,#2a1e20)"></i><i style="background:linear-gradient(90deg,#4a50a9,#475cbc,#3f69c9,#3878cf,#3783d0,#3f90ce,#4c9ccd,#58a5cd,#63adcd,#6eb4cd,#78b9ce,#81bfcf,#84c1cf,#84c1cf,#84c1cf,#7ebdce,#78b9ce,#6bb2cd,#5da9cd,#4e9ecd,#3e8ecf,#377fd0,#3e6ccb,#475ab9,#494c9e,#43417f,#393763,#312f4d,#29283b,#23222d,#201f24,#1f1e1f,#211e1e,#251e1f,#271e1f,#2a1e20,#2c1e21,#2d1f21,#2f1f22,#2f1f22,#2f1f22,#2d1f21,#2c1e21,#2c1e21,#2a1e20)"></i><i style="background:linear-gradient(90deg,#4a4fa5,#475ab9,#4167c7,#3975cf,#3783d0,#3e8ecf,#499ace,#55a3cd,#60abcd,#6bb2cd,#75b8ce,#7ebdce,#81bfcf,#84c1cf,#81bfcf,#7ebdce,#75b8ce,#68b0cd,#5da9cd,#4c9ccd,#3e8ecf,#377fd0,#3e6ccb,#475ab9,#494c9e,#43417f,#393763,#312f4d,#29283b,#24232e,#202025,#1f1e1f,#211e1e,#251e1f,#271e1f,#2a1e20,#2c1e21,#2d1f21,#2d1f21,#2d1f21,#2d1f21,#2d1f21,#2c1e21,#2c1e21,#2a1e20)"></i><i style="background:linear-gradient(90deg,#4a4fa5,#4858b6,#4265c5,#3a73ce,#3781d0,#3e8ecf,#4798ce,#53a2cd,#5da9cd,#68b0cd,#72b6ce,#7bbbce,#7ebdce,#81bfcf,#7ebdce,#7bbbce,#72b6ce,#68b0cd,#5aa7cd,#4c9ccd,#3e8ecf,#377fd0,#3e6ccb,#475ab9,#494c9e,#43417f,#393763,#312f4d,#29283b,#24232e,#202025,#1f1e20,#201e1e,#231e1e,#271e1f,#291e20,#2c1e21,#2d1f21,#2d1f21,#2d1f21,#2d1f21,#2d1f21,#2c1e21,#2a1e20,#2a1e20)"></i><i style="background:linear-gradient(90deg,#494da1,#4858b6,#4265c5,#3b71cd,#377fd0,#3c8ccf,#4596ce,#50a0cd,#5da9cd,#65afcd,#72b6ce,#78b9ce,#7bbbce,#7ebdce,#7bbbce,#78b9ce,#72b6ce,#65afcd,#5aa7cd,#4c9ccd,#3e8ecf,#377cd0,#3e6ccb,#475ab9,#494c9e,#43417f,#3b3866,#312f4d,#2a293d,#24232e,#212026,#1f1e20,#201e1e,#231e1e,#261e1f,#291e20,#2a1e20,#2c1e21,#2d1f21,#2d1f21,#2d1f21,#2c1e21,#2c1e21,#2a1e20,#291e20)"></i><i style="background:linear-gradient(90deg,#494da1,#4956b3,#4363c3,#3b71cd,#377cd0,#3a89cf,#4394ce,#4e9ecd,#5aa7cd,#63adcd,#6eb4cd,#75b8ce,#78b9ce,#7bbbce,#7bbbce,#75b8ce,#6eb4cd,#63adcd,#58a5cd,#499ace,#3e8ecf,#377cd0,#3e6ccb,#475ab9,#494c9e,#43417f,#3b3866,#323050,#2a293d,#242430,#212026,#1f1e21,#1f1e1e,#221e1e,#261e1f,#291e20,#2a1e20,#2c1e21,#2c1e21,#2c1e21,#2c1e21,#2c1e21,#2a1e20,#2a1e20,#291e20)"></i><i style="background:linear-gradient(90deg,#494c9e,#4956b3,#4560c1,#3d6ecc,#377cd0,#3987cf,#4192ce,#4c9ccd,#58a5cd,#63adcd,#6bb2cd,#72b6ce,#78b9ce,#78b9ce,#78b9ce,#72b6ce,#6bb2cd,#63adcd,#58a5cd,#499ace,#3c8ccf,#377cd0,#3e6ccb,#475ab9,#494c9e,#444282,#3b3866,#323050,#2a293d,#242430,#212026,#1f1e21,#1f1e1e,#221e1e,#251e1f,#271e1f,#2a1e20,#2a1e20,#2c1e21,#2c1e21,#2c1e21,#2c1e21,#2a1e20,#2a1e20,#291e20)"></i><i style="background:linear-gradient(90deg,#494c9e,#4954b0,#4560c1,#3e6ccb,#377ad0,#3885d0,#4192ce,#499ace,#55a3cd,#60abcd,#68b0cd,#6eb4cd,#75b8ce,#75b8ce,#75b8ce,#72b6ce,#68b0cd,#60abcd,#55a3cd,#499ace,#3c8ccf,#377cd0,#3f69c9,#475ab9,#494c9e,#444282,#3b3866,#323050,#2b2a40,#242430,#212028,#1f1f21,#1f1e1e,#221e1e,#251e1f,#271e1f,#291e20,#2a1e20,#2c1e21,#2c1e21,#2c1e21,#2a1e20,#2a1e20,#291e20,#291e20)"></i><i style="background:linear-gradient(90deg,#494a9a,#4954b0,#465ebe,#3e6ccb,#3878cf,#3885d0,#3f90ce,#499ace,#53a2cd,#5da9cd,#65afcd,#6bb2cd,#72b6ce,#72b6ce,#72b6ce,#6eb4cd,#68b0cd,#5da9cd,#53a2cd,#4798ce,#3c8ccf,#377cd0,#3f69c9,#475ab9,#494c9e,#444282,#3b3866,#323050,#2b2a40,#252532,#212028,#1f1f21,#1f1e1e,#211e1e,#251e1f,#261e1f,#291e20,#2a1e20,#2a1e20,#2c1e21,#2a1e20,#2a1e20,#2a1e20,#291e20,#291e20)"></i><i style="background:linear-gradient(90deg,#494a9a,#4952ad,#475cbc,#3f69c9,#3878cf,#3783d0,#3e8ecf,#4798ce,#50a0cd,#5aa7cd,#63adcd,#68b0cd,#6eb4cd,#6eb4cd,#6eb4cd,#6bb2cd,#65afcd,#5da9cd,#53a2cd,#4798ce,#3a89cf,#377ad0,#3f69c9,#475ab9,#494c9e,#444282,#3c3a69,#333153,#2b2a40,#252532,#212028,#1f1f21,#1f1e1e,#211e1e,#231e1e,#261e1f,#291e20,#291e20,#2a1e20,#2a1e20,#2a1e20,#2a1e20,#2a1e20,#291e20,#271e1f)"></i><i style="background:linear-gradient(90deg,#484996,#4a50a9,#475cbc,#4167c7,#3975cf,#3781d0,#3c8ccf,#4596ce,#4e9ecd,#58a5cd,#60abcd,#65afcd,#6bb2cd,#6bb2cd,#6bb2cd,#68b0cd,#63adcd,#5aa7cd,#50a0cd,#4596ce,#3a89cf,#377ad0,#3f69c9,#475ab9,#494c9e,#444282,#3c3a69,#333153,#2b2a40,#252532,#222129,#1f1f23,#1f1e1e,#211e1e,#231e1e,#261e1f,#271e1f,#291e20,#2a1e20,#2a1e20,#2a1e20,#2a1e20,#291e20,#291e20,#271e1f)"></i><i style="background:linear-gradient(90deg,#484996,#4a50a9,#475ab9,#4167c7,#3a73ce,#377fd0,#3a89cf,#4394ce,#4c9ccd,#55a3cd,#5da9cd,#63adcd,#68b0cd,#6bb2cd,#68b0cd,#65afcd,#60abcd,#58a5cd,#4e9ecd,#4596ce,#3a89cf,#377ad0,#3f69c9,#4858b6,#494c9e,#444282,#3c3a69,#333153,#2c2b42,#262534,#222129,#1f1f23,#1f1e1f,#201e1e,#231e1e,#251e1f,#271e1f,#291e20,#291e20,#2a1e20,#2a1e20,#291e20,#291e20,#291e20,#271e1f)"></i><i style="background:linear-gradient(90deg,#474792,#4a4fa5,#475ab9,#4265c5,#3b71cd,#377cd0,#3987cf,#4192ce,#499ace,#53a2cd,#5aa7cd,#60abcd,#65afcd,#68b0cd,#65afcd,#63adcd,#5da9cd,#55a3cd,#4e9ecd,#4394ce,#3987cf,#377ad0,#3f69c9,#4858b6,#494c9e,#444282,#3c3a69,#333153,#2c2b42,#262534,#222129,#201f24,#1f1e1f,#201e1e,#221e1e,#251e1f,#271e1f,#291e20,#291e20,#291e20,#291e20,#291e20,#291e20,#271e1f,#271e1f)"></i><i style="background:linear-gradient(90deg,#47468e,#4a4fa5,#4858b6,#4363c3,#3d6ecc,#377cd0,#3987cf,#3f90ce,#4798ce,#50a0cd,#58a5cd,#5da9cd,#63adcd,#65afcd,#63adcd,#60abcd,#5aa7cd,#55a3cd,#4c9ccd,#4394ce,#3987cf,#3878cf,#4167c7,#4858b6,#494c9e,#444282,#3c3a69,#333153,#2c2b42,#262534,#22222b,#201f24,#1f1e20,#201e1e,#221e1e,#251e1f,#261e1f,#271e1f,#291e20,#291e20,#291e20,#291e20,#291e20,#271e1f,#271e1f)"></i><i style="background:linear-gradient(90deg,#47468e,#494da1,#4956b3,#4560c1,#3d6ecc,#377ad0,#3885d0,#3e8ecf,#4596ce,#4e9ecd,#55a3cd,#5aa7cd,#60abcd,#63adcd,#63adcd,#60abcd,#5aa7cd,#53a2cd,#499ace,#4192ce,#3885d0,#3878cf,#4167c7,#4858b6,#494c9e,#444282,#3c3a69,#333153,#2c2b42,#262534,#22222b,#201f24,#1f1e20,#1f1e1e,#221e1e,#251e1f,#261e1f,#271e1f,#291e20,#291e20,#291e20,#291e20,#271e1f,#271e1f,#271e1f)"></i><i style="background:linear-gradient(90deg,#46458a,#494c9e,#4956b3,#4560c1,#3e6ccb,#3878cf,#3783d0,#3c8ccf,#4394ce,#4c9ccd,#53a2cd,#58a5cd,#5da9cd,#60abcd,#60abcd,#5da9cd,#58a5cd,#50a0cd,#499ace,#3f90ce,#3885d0,#3878cf,#4167c7,#4858b6,#494c9e,#444282,#3c3a69,#343356,#2c2b42,#272636,#22222b,#202025,#1f1e20,#1f1e1e,#211e1e,#231e1e,#261e1f,#271e1f,#271e1f,#291e20,#291e20,#291e20,#271e1f,#271e1f,#261e1f)"></i><i style="background:linear-gradient(90deg,#46458a,#494c9e,#4954b0,#465ebe,#3f69c9,#3975cf,#3781d0,#3a89cf,#4394ce,#499ace,#50a0cd,#55a3cd,#5aa7cd,#5da9cd,#5da9cd,#5aa7cd,#55a3cd,#4e9ecd,#4798ce,#3f90ce,#3885d0,#3975cf,#4167c7,#4858b6,#494c9e,#444282,#3c3a69,#343356,#2d2c45,#272636,#23222d,#202025,#1f1e21,#1f1e1e,#211e1e,#231e1e,#251e1f,#261e1f,#271e1f,#271e1f,#271e1f,#271e1f,#271e1f,#271e1f,#261e1f)"></i><i style="background:linear-gradient(90deg,#454386,#494a9a,#4952ad,#475cbc,#4167c7,#3a73ce,#377fd0,#3a89cf,#4192ce,#4798ce,#4e9ecd,#53a2cd,#58a5cd,#5aa7cd,#5aa7cd,#58a5cd,#53a2cd,#4c9ccd,#4596ce,#3e8ecf,#3783d0,#3975cf,#4265c5,#4956b3,#494c9e,#444282,#3c3a69,#343356,#2d2c45,#272636,#23222d,#202025,#1f1e21,#1f1e1e,#211e1e,#231e1e,#251e1f,#261e1f,#271e1f,#271e1f,#271e1f,#271e1f,#271e1f,#271e1f,#261e1f)"></i><i style="background:linear-gradient(90deg,#454386,#494a9a,#4952ad,#475cbc,#4167c7,#3a73ce,#377cd0,#3987cf,#3f90ce,#4596ce,#4c9ccd,#50a0cd,#55a3cd,#58a5cd,#58a5cd,#55a3cd,#50a0cd,#4c9ccd,#4394ce,#3c8ccf,#3783d0,#3a73ce,#4265c5,#4956b3,#494c9e,#444282,#3c3a69,#343356,#2d2c45,#272636,#23222d,#202025,#1f1e21,#1f1e1e,#211e1e,#221e1e,#251e1f,#261e1f,#261e1f,#271e1f,#271e1f,#271e1f,#271e1f,#261e1f,#261e1f)"></i><i style="background:linear-gradient(90deg,#444282,#484996,#4a50a9,#475ab9,#4265c5,#3b71cd,#377ad0,#3885d0,#3e8ecf,#4394ce,#499ace,#4e9ecd,#53a2cd,#55a3cd,#55a3cd,#53a2cd,#4e9ecd,#499ace,#4394ce,#3c8ccf,#3781d0,#3a73ce,#4265c5,#4956b3,#494a9a,#444282,#3c3a69,#343356,#2d2c45,#272636,#23222d,#212026,#1f1f21,#1f1e1e,#201e1e,#221e1e,#251e1f,#261e1f,#261e1f,#271e1f,#271e1f,#271e1f,#261e1f,#261e1f,#261e1f)"></i><i style="background:linear-gradient(90deg,#444282,#474792,#4a4fa5,#4858b6,#4363c3,#3d6ecc,#3878cf,#3783d0,#3c8ccf,#4192ce,#4798ce,#4c9ccd,#50a0cd,#53a2cd,#53a2cd,#50a0cd,#4c9ccd,#4798ce,#4192ce,#3a89cf,#377fd0,#3a73ce,#4363c3,#4956b3,#494a9a,#444282,#3c3a69,#343356,#2d2c45,#282739,#24232e,#212026,#1f1f21,#1f1e1e,#201e1e,#221e1e,#231e1e,#251e1f,#261e1f,#261e1f,#271e1f,#261e1f,#261e1f,#261e1f,#261e1f)"></i><i style="background:linear-gradient(90deg,#43417f,#474792,#4a4fa5,#4956b3,#4560c1,#3e6ccb,#3878cf,#3781d0,#3a89cf,#3f90ce,#4596ce,#499ace,#4e9ecd,#50a0cd,#50a0cd,#4e9ecd,#4c9ccd,#4596ce,#3f90ce,#3987cf,#377fd0,#3b71cd,#4363c3,#4956b3,#494a9a,#444282,#3c3a69,#343356,#2d2c45,#282739,#24232e,#212026,#1f1f21,#1f1e1f,#201e1e,#221e1e,#231e1e,#251e1f,#261e1f,#261e1f,#261e1f,#261e1f,#261e1f,#261e1f,#251e1f)"></i><i style="background:linear-gradient(90deg,#43417f,#47468e,#494da1,#4956b3,#4560c1,#3f69c9,#3975cf,#377fd0,#3987cf,#3e8ecf,#4394ce,#4798ce,#4c9ccd,#4e9ecd,#4e9ecd,#4c9ccd,#499ace,#4394ce,#3e8ecf,#3885d0,#377cd0,#3b71cd,#4363c3,#4954b0,#494a9a,#43417f,#3c3a69,#343356,#2d2c45,#282739,#24232e,#212026,#1f1f21,#1f1e1f,#201e1e,#211e1e,#231e1e,#251e1f,#261e1f,#261e1f,#261e1f,#261e1f,#261e1f,#261e1f,#251e1f)"></i><i style="background:linear-gradient(90deg,#42407b,#47468e,#494c9e,#4954b0,#465ebe,#4167c7,#3a73ce,#377cd0,#3885d0,#3c8ccf,#4192ce,#4596ce,#499ace,#4c9ccd,#4c9ccd,#499ace,#4798ce,#4192ce,#3c8ccf,#3885d0,#377ad0,#3d6ecc,#4560c1,#4954b0,#494a9a,#43417f,#3c3a69,#343356,#2d2c45,#282739,#24232e,#212028,#1f1f23,#1f1e1f,#1f1e1e,#211e1e,#231e1e,#251e1f,#251e1f,#261e1f,#261e1f,#261e1f,#261e1f,#261e1f,#251e1f)"></i><i style="background:linear-gradient(90deg,#413e77,#46458a,#494c9e,#4952ad,#475cbc,#4167c7,#3b71cd,#377ad0,#3783d0,#3a89cf,#3f90ce,#4394ce,#4798ce,#499ace,#499ace,#4798ce,#4596ce,#4192ce,#3c8ccf,#3783d0,#377ad0,#3d6ecc,#4560c1,#4954b0,#484996,#43417f,#3c3a69,#343356,#2d2c45,#282739,#24232e,#212028,#1f1f23,#1f1e1f,#1f1e1e,#211e1e,#221e1e,#231e1e,#251e1f,#261e1f,#261e1f,#261e1f,#261e1f,#251e1f,#251e1f)"></i><i style="background:linear-gradient(90deg,#413e77,#454386,#494a9a,#4952ad,#475ab9,#4265c5,#3d6ecc,#3878cf,#3781d0,#3987cf,#3e8ecf,#4192ce,#4596ce,#4798ce,#4798ce,#4596ce,#4394ce,#3f90ce,#3a89cf,#3781d0,#3878cf,#3e6ccb,#4560c1,#4952ad,#484996,#43417f,#3c3a69,#343356,#2d2c45,#282739,#24232e,#212028,#1f1f23,#1f1e20,#1f1e1e,#211e1e,#221e1e,#231e1e,#251e1f,#251e1f,#261e1f,#261e1f,#251e1f,#251e1f,#251e1f)"></i><i style="background:linear-gradient(90deg,#3f3d74,#454386,#484996,#4a50a9,#4858b6,#4363c3,#3e6ccb,#3975cf,#377fd0,#3885d0,#3c8ccf,#3f90ce,#4394ce,#4596ce,#4596ce,#4394ce,#4192ce,#3e8ecf,#3987cf,#3781d0,#3975cf,#3e6ccb,#465ebe,#4952ad,#484996,#43417f,#3c3a69,#343356,#2e2d48,#282739,#242430,#212028,#1f1f23,#1f1e20,#1f1e1e,#211e1e,#221e1e,#231e1e,#251e1f,#251e1f,#251e1f,#251e1f,#251e1f,#251e1f,#251e1f)"></i><i style="background:linear-gradient(90deg,#3f3d74,#444282,#484996,#4a4fa5,#4858b6,#4560c1,#3f69c9,#3a73ce,#377cd0,#3783d0,#3a89cf,#3e8ecf,#4192ce,#4394ce,#4394ce,#4192ce,#3f90ce,#3c8ccf,#3885d0,#377fd0,#3975cf,#3f69c9,#465ebe,#4952ad,#484996,#43417f,#3c3a69,#343356,#2e2d48,#282739,#242430,#212028,#201f24,#1f1e20,#1f1e1e,#201e1e,#221e1e,#231e1e,#231e1e,#251e1f,#251e1f,#251e1f,#251e1f,#251e1f,#251e1f)"></i><i style="background:linear-gradient(90deg,#3e3c70,#444282,#474792,#494da1,#4956b3,#465ebe,#3f69c9,#3a73ce,#377ad0,#3781d0,#3987cf,#3c8ccf,#3f90ce,#4192ce,#4192ce,#3f90ce,#3e8ecf,#3a89cf,#3783d0,#377cd0,#3a73ce,#3f69c9,#475cbc,#4a50a9,#474792,#42407b,#3c3a69,#343356,#2e2d48,#282739,#242430,#222129,#201f24,#1f1e20,#1f1e1e,#201e1e,#221e1e,#231e1e,#231e1e,#251e1f,#251e1f,#251e1f,#251e1f,#251e1f,#251e1f)"></i><i style="background:linear-gradient(90deg,#3e3c70,#43417f,#47468e,#494da1,#4954b0,#465ebe,#4167c7,#3b71cd,#3878cf,#377fd0,#3885d0,#3a89cf,#3e8ecf,#3f90ce,#3f90ce,#3e8ecf,#3c8ccf,#3987cf,#3783d0,#377ad0,#3b71cd,#4167c7,#475cbc,#4a50a9,#474792,#42407b,#3c3a69,#343356,#2e2d48,#29283b,#242430,#222129,#201f24,#1f1e21,#1f1e1e,#201e1e,#211e1e,#221e1e,#231e1e,#251e1f,#251e1f,#251e1f,#251e1f,#251e1f,#231e1e)"></i><i style="background:linear-gradient(90deg,#3d3b6d,#42407b,#47468e,#494c9e,#4952ad,#475cbc,#4265c5,#3d6ecc,#3975cf,#377cd0,#3783d0,#3987cf,#3c8ccf,#3e8ecf,#3e8ecf,#3c8ccf,#3a89cf,#3885d0,#3781d0,#3878cf,#3b71cd,#4265c5,#475ab9,#4a50a9,#474792,#42407b,#3b3866,#343356,#2e2d48,#29283b,#242430,#222129,#201f24,#1f1e21,#1f1e1e,#201e1e,#211e1e,#221e1e,#231e1e,#231e1e,#251e1f,#251e1f,#251e1f,#251e1f,#231e1e)"></i><i style="background:linear-gradient(90deg,#3d3b6d,#42407b,#46458a,#494a9a,#4952ad,#475ab9,#4363c3,#3e6ccb,#3a73ce,#377ad0,#3781d0,#3885d0,#3a89cf,#3c8ccf,#3c8ccf,#3a89cf,#3987cf,#3783d0,#377fd0,#3878cf,#3d6ecc,#4265c5,#475ab9,#4a4fa5,#474792,#42407b,#3b3866,#343356,#2e2d48,#29283b,#242430,#222129,#201f24,#1f1e21,#1f1e1e,#201e1e,#211e1e,#221e1e,#231e1e,#231e1e,#231e1e,#251e1f,#251e1f,#231e1e,#231e1e)"></i><i style="background:linear-gradient(90deg,#3c3a69,#413e77,#454386,#494a9a,#4a50a9,#4858b6,#4560c1,#3f69c9,#3b71cd,#3878cf,#377fd0,#3783d0,#3987cf,#3a89cf,#3a89cf,#3987cf,#3885d0,#3783d0,#377cd0,#3975cf,#3e6ccb,#4363c3,#475ab9,#4a4fa5,#47468e,#42407b,#3b3866,#343356,#2e2d48,#29283b,#242430,#222129,#201f24,#1f1e21,#1f1e1e,#201e1e,#211e1e,#221e1e,#231e1e,#231e1e,#231e1e,#231e1e,#231e1e,#231e1e,#231e1e)"></i><i style="background:linear-gradient(90deg,#3c3a69,#413e77,#454386,#484996,#4a4fa5,#4956b3,#465ebe,#4167c7,#3d6ecc,#3975cf,#377cd0,#3781d0,#3885d0,#3987cf,#3987cf,#3885d0,#3783d0,#3781d0,#377ad0,#3a73ce,#3e6ccb,#4560c1,#4858b6,#4a4fa5,#47468e,#413e77,#3b3866,#343356,#2d2c45,#29283b,#242430,#222129,#202025,#1f1e21,#1f1e1f,#1f1e1e,#211e1e,#221e1e,#221e1e,#231e1e,#231e1e,#231e1e,#231e1e,#231e1e,#231e1e)"></i><i style="background:linear-gradient(90deg,#3b3866,#3f3d74,#444282,#474792,#494da1,#4954b0,#475cbc,#4265c5,#3e6ccb,#3975cf,#377ad0,#377fd0,#3783d0,#3885d0,#3885d0,#3885d0,#3781d0,#377fd0,#3878cf,#3b71cd,#3f69c9,#4560c1,#4956b3,#494da1,#47468e,#413e77,#3b3866,#333153,#2d2c45,#29283b,#242430,#222129,#202025,#1f1f21,#1f1e1f,#1f1e1e,#211e1e,#221e1e,#221e1e,#231e1e,#231e1e,#231e1e,#231e1e,#231e1e,#231e1e)"></i><i style="background:linear-gradient(90deg,#3b3866,#3e3c70,#444282,#474792,#494da1,#4954b0,#475cbc,#4363c3,#3e6ccb,#3a73ce,#3878cf,#377cd0,#3781d0,#3783d0,#3783d0,#3783d0,#377fd0,#377cd0,#3975cf,#3b71cd,#4167c7,#465ebe,#4956b3,#494da1,#46458a,#413e77,#3b3866,#333153,#2d2c45,#29283b,#242430,#222129,#202025,#1f1f21,#1f1e1f,#1f1e1e,#201e1e,#211e1e,#221e1e,#231e1e,#231e1e,#231e1e,#231e1e,#231e1e,#231e1e)"></i><i style="background:linear-gradient(90deg,#393763,#3e3c70,#43417f,#47468e,#494c9e,#4952ad,#475ab9,#4560c1,#3f69c9,#3b71cd,#3975cf,#377ad0,#377fd0,#3781d0,#3781d0,#3781d0,#377fd0,#377ad0,#3975cf,#3d6ecc,#4265c5,#465ebe,#4954b0,#494c9e,#46458a,#413e77,#393763,#333153,#2d2c45,#29283b,#242430,#222129,#202025,#1f1f21,#1f1e1f,#1f1e1e,#201e1e,#211e1e,#221e1e,#221e1e,#231e1e,#231e1e,#231e1e,#231e1e,#231e1e)"></i><i style="background:linear-gradient(90deg,#393763,#3d3b6d,#42407b,#46458a,#494a9a,#4a50a9,#4858b6,#465ebe,#4167c7,#3d6ecc,#3a73ce,#3878cf,#377cd0,#377fd0,#377fd0,#377fd0,#377cd0,#3878cf,#3a73ce,#3e6ccb,#4265c5,#475cbc,#4954b0,#494c9e,#46458a,#3f3d74,#393763,#333153,#2d2c45,#29283b,#242430,#22222b,#202025,#1f1f21,#1f1e1f,#1f1e1e,#201e1e,#211e1e,#221e1e,#221e1e,#231e1e,#231e1e,#231e1e,#231e1e,#221e1e)"></i><i style="background:linear-gradient(90deg,#38365f,#3d3b6d,#42407b,#46458a,#484996,#4a4fa5,#4956b3,#465ebe,#4265c5,#3e6ccb,#3b71cd,#3975cf,#377ad0,#377cd0,#377cd0,#377cd0,#377ad0,#3975cf,#3b71cd,#3f69c9,#4363c3,#475ab9,#4952ad,#494a9a,#454386,#3f3d74,#393763,#333153,#2d2c45,#29283b,#242430,#22222b,#202025,#1f1f21,#1f1e1f,#1f1e1e,#201e1e,#211e1e,#221e1e,#221e1e,#221e1e,#231e1e,#231e1e,#231e1e,#221e1e)"></i><i style="background:linear-gradient(90deg,#37355c,#3c3a69,#413e77,#454386,#484996,#494da1,#4954b0,#475cbc,#4363c3,#3f69c9,#3d6ecc,#3a73ce,#3878cf,#377ad0,#377ad0,#377ad0,#3878cf,#3a73ce,#3d6ecc,#4167c7,#4560c1,#475ab9,#4952ad,#494a9a,#454386,#3f3d74,#393763,#333153,#2d2c45,#29283b,#252532,#22222b,#202025,#1f1f21,#1f1e20,#1f1e1e,#201e1e,#211e1e,#221e1e,#221e1e,#221e1e,#221e1e,#231e1e,#221e1e,#221e1e)"></i><i style="background:linear-gradient(90deg,#37355c,#3c3a69,#3f3d74,#444282,#474792,#494da1,#4952ad,#475ab9,#4560c1,#4167c7,#3e6ccb,#3b71cd,#3975cf,#3878cf,#3878cf,#3878cf,#3975cf,#3b71cd,#3e6ccb,#4167c7,#465ebe,#4858b6,#4a50a9,#494a9a,#454386,#3f3d74,#393763,#333153,#2d2c45,#29283b,#252532,#22222b,#202025,#1f1f21,#1f1e20,#1f1e1e,#201e1e,#211e1e,#211e1e,#221e1e,#221e1e,#221e1e,#221e1e,#221e1e,#221e1e)"></i><i style="background:linear-gradient(90deg,#363459,#3b3866,#3f3d74,#43417f,#47468e,#494c9e,#4a50a9,#4858b6,#465ebe,#4265c5,#3f69c9,#3d6ecc,#3a73ce,#3975cf,#3975cf,#3975cf,#3a73ce,#3d6ecc,#3f69c9,#4265c5,#465ebe,#4956b3,#4a4fa5,#484996,#444282,#3e3c70,#38365f,#323050,#2d2c45,#29283b,#252532,#22222b,#202025,#1f1f23,#1f1e20,#1f1e1e,#201e1e,#211e1e,#211e1e,#221e1e,#221e1e,#221e1e,#221e1e,#221e1e,#221e1e)"></i><i style="background:linear-gradient(90deg,#363459,#3b3866,#3e3c70,#43417f,#47468e,#494a9a,#4a50a9,#4956b3,#475cbc,#4363c3,#4167c7,#3e6ccb,#3b71cd,#3a73ce,#3a73ce,#3a73ce,#3b71cd,#3e6ccb,#4167c7,#4363c3,#475cbc,#4954b0,#4a4fa5,#484996,#444282,#3e3c70,#38365f,#323050,#2d2c45,#29283b,#252532,#22222b,#212026,#1f1f23,#1f1e20,#1f1e1e,#1f1e1e,#201e1e,#211e1e,#221e1e,#221e1e,#221e1e,#221e1e,#221e1e,#221e1e)"></i><i style="background:linear-gradient(90deg,#343356,#393763,#3e3c70,#42407b,#46458a,#484996,#4a4fa5,#4954b0,#475ab9,#4560c1,#4265c5,#3f69c9,#3d6ecc,#3b71cd,#3b71cd,#3b71cd,#3d6ecc,#3e6ccb,#4167c7,#4560c1,#475ab9,#4954b0,#494da1,#474792,#43417f,#3e3c70,#38365f,#323050,#2d2c45,#282739,#252532,#22222b,#212026,#1f1f23,#1f1e20,#1f1e1e,#1f1e1e,#201e1e,#211e1e,#211e1e,#221e1e,#221e1e,#221e1e,#221e1e,#221e1e)"></i><i style="background:linear-gradient(90deg,#343356,#38365f,#3d3b6d,#42407b,#454386,#484996,#494da1,#4952ad,#4858b6,#465ebe,#4363c3,#4167c7,#3e6ccb,#3d6ecc,#3d6ecc,#3d6ecc,#3e6ccb,#3f69c9,#4265c5,#465ebe,#4858b6,#4952ad,#494c9e,#474792,#43417f,#3d3b6d,#38365f,#323050,#2d2c45,#282739,#242430,#22222b,#212026,#1f1f23,#1f1e20,#1f1e1e,#1f1e1e,#201e1e,#211e1e,#211e1e,#221e1e,#221e1e,#221e1e,#221e1e,#221e1e)"></i><i style="background:linear-gradient(90deg,#333153,#38365f,#3c3a69,#413e77,#444282,#474792,#494c9e,#4a50a9,#4956b3,#475cbc,#4560c1,#4265c5,#3f69c9,#3e6ccb,#3e6ccb,#3e6ccb,#3f69c9,#4167c7,#4363c3,#465ebe,#4858b6,#4a50a9,#494c9e,#47468e,#43417f,#3d3b6d,#37355c,#323050,#2c2b42,#282739,#242430,#22222b,#212026,#1f1f23,#1f1e20,#1f1e1e,#1f1e1e,#201e1e,#211e1e,#211e1e,#221e1e,#221e1e,#221e1e,#221e1e,#221e1e)"></i></div>
<svg width="950" height="721" viewBox="0 0 950 721" style="position:absolute;left:0;top:0">
<defs><clipPath id="ax"><rect x="105.7" y="11.4" width="616.4" height="616.2"/></clipPath>
<linearGradient id="cb" x1="0" y1="0" x2="0" y2="1"><stop offset="0.0000" stop-color="#ffd4ac"/><stop offset="0.0250" stop-color="#fcc396"/><stop offset="0.0500" stop-color="#f8b380"/><stop offset="0.0750" stop-color="#f5a066"/><stop offset="0.1000" stop-color="#f18f51"/><stop offset="0.1250" stop-color="#ed7e40"/><stop offset="0.1500" stop-color="#e76a34"/><stop offset="0.1750" stop-color="#df5a33"/><stop offset="0.2000" stop-color="#d34936"/><stop offset="0.2250" stop-color="#c73d3b"/><stop offset="0.2500" stop-color="#b93540"/><stop offset="0.2750" stop-color="#a52f44"/><stop offset="0.3000" stop-color="#932e44"/><stop offset="0.3250" stop-color="#7e2d40"/><stop offset="0.3500" stop-color="#6d2b3b"/><stop offset="0.3750" stop-color="#5c2935"/><stop offset="0.4000" stop-color="#4a252e"/><stop offset="0.4250" stop-color="#3d2228"/><stop offset="0.4500" stop-color="#2f1f22"/><stop offset="0.4750" stop-color="#261e1f"/><stop offset="0.5000" stop-color="#1f1e1e"/><stop offset="0.5250" stop-color="#201f24"/><stop offset="0.5500" stop-color="#23222d"/><stop offset="0.5750" stop-color="#29283b"/><stop offset="0.6000" stop-color="#302e4a"/><stop offset="0.6250" stop-color="#37355c"/><stop offset="0.6500" stop-color="#3f3d74"/><stop offset="0.6750" stop-color="#46458a"/><stop offset="0.7000" stop-color="#4a4fa5"/><stop offset="0.7250" stop-color="#475ab9"/><stop offset="0.7500" stop-color="#4167c7"/><stop offset="0.7750" stop-color="#3878cf"/><stop offset="0.8000" stop-color="#3885d0"/><stop offset="0.8250" stop-color="#4394ce"/><stop offset="0.8500" stop-color="#50a0cd"/><stop offset="0.8750" stop-color="#60abcd"/><stop offset="0.9000" stop-color="#75b8ce"/><stop offset="0.9250" stop-color="#87c2cf"/><stop offset="0.9500" stop-color="#9bcfd3"/><stop offset="0.9750" stop-color="#acdbd7"/><stop offset="1.0000" stop-color="#bde7db"/></linearGradient></defs>
<g clip-path="url(#ax)">
<path d="M93.4 93.9 L96.1 95.2 L99.5 97.0 L103.2 98.7 L106.1 100.1 L109.4 102.0 L113.1 103.8 L115.6 105.1 L119.3 107.4 L121.8 108.8 L125.4 111.0 L128.0 112.5 L131.6 114.8 L134.1 116.4 L137.6 118.6 L140.2 120.5 L143.0 122.3 L146.4 124.6 L148.8 126.4 L151.8 128.5 L155.0 130.8 L157.5 132.6 L160.3 134.6 L163.6 137.1 L166.1 139.1 L168.6 140.8 L171.6 143.3 L174.7 145.7 L177.2 147.7 L179.7 149.6 L182.4 151.9 L185.5 154.4 L188.3 156.7 L190.8 158.8 L193.2 160.8 L195.8 163.0 L198.7 165.4 L201.6 167.9 L204.3 170.2 L206.8 172.4 L209.3 174.6 L211.7 176.7 L214.3 179.0 L217.0 181.5 L219.8 183.9 L222.5 186.4 L225.3 188.9 L227.7 191.1 L230.2 193.4 L232.7 195.7 L235.1 198.0 L237.6 200.3 L240.1 202.6 L242.6 204.9 L245.2 207.4 L247.8 209.8 L250.3 212.3 L252.9 214.7 L255.5 217.2 L258.0 219.7 L260.6 222.1 L263.1 224.6 L265.6 227.1 L268.1 229.5 L270.6 232.0 L273.1 234.5 L275.6 236.9 L278.1 239.4 L280.6 241.9 L283.0 244.3 L285.5 246.8 L287.9 249.3 L290.4 251.7 L292.8 254.2 L295.2 256.6 L297.6 259.1 L300.0 261.6 L302.4 264.0 L304.8 266.5 L307.2 269.0 L309.6 271.4 L312.0 273.9 L314.4 276.4 L316.7 278.8 L319.1 281.3 L321.4 283.8 L323.9 286.4 L326.4 289.0 L328.8 291.6 L331.3 294.2 L333.8 296.8 L336.2 299.4 L338.7 302.1 L341.2 304.7 L343.5 307.2 L345.8 309.6 L348.1 312.1 L350.4 314.6 L352.6 317.0 L354.9 319.5 L357.2 322.0 L359.7 324.6 L362.1 327.3 L364.6 330.0 L367.1 332.7 L369.5 335.4 L371.9 338.0 L374.1 340.5 L376.4 342.9 L378.6 345.4 L380.8 347.8 L383.1 350.3 L385.5 353.1 L388.0 355.8 L390.5 358.5 L392.9 361.3 L395.3 363.9 L397.5 366.3 L399.7 368.8 L401.9 371.3 L404.1 373.7 L406.5 376.4 L409.0 379.1 L411.4 381.9 L413.9 384.6 L416.3 387.3 L418.5 389.7 L420.7 392.2 L422.9 394.7 L425.0 397.1 L427.5 399.9 L429.9 402.6 L432.4 405.4 L434.9 408.2 L437.1 410.7 L439.3 413.2 L441.5 415.6 L443.7 418.1 L446.0 420.7 L448.4 423.5 L450.9 426.2 L453.3 429.0 L455.7 431.6 L457.8 434.1 L460.0 436.6 L462.2 439.0 L464.4 441.6 L466.9 444.4 L469.4 447.3 L471.8 450.1 L474.0 452.6 L476.2 455.1 L478.3 457.5 L480.5 460.0 L482.9 462.9 L485.4 465.7 L487.9 468.6 L490.0 471.1 L492.1 473.6 L494.2 476.0 L496.5 478.8 L499.0 481.7 L501.4 484.6 L503.5 487.1 L505.6 489.6 L507.6 492.1 L510.1 495.1 L512.5 498.1 L514.6 500.7 L516.6 503.1 L518.7 505.7 L521.2 508.8 L523.5 511.8 L525.5 514.2 L527.3 516.7 L529.8 519.8 L532.1 522.8 L534.1 525.3 L535.9 527.8 L538.4 531.0 L540.6 533.9 L542.5 536.4 L544.6 539.3 L547.0 542.6 L548.9 545.0 L550.7 547.7 L553.2 551.1 L555.1 553.7 L556.9 556.3 L559.4 559.7 L561.2 562.3 L563.1 565.0 L565.5 568.4 L567.2 570.9 L569.2 573.9 L571.4 577.1 L573.0 579.5 L575.4 583.1 L577.2 585.7 L579.1 588.6 L581.2 591.9 L582.8 594.4 L585.1 598.0 L586.7 600.5 L588.9 604.2 L590.5 606.6 L592.7 610.2 L594.3 612.8 L596.4 616.5 L597.9 619.0 L600.0 622.7 L601.3 625.1 L603.5 628.8 L605.0 631.7 L606.8 635.0 L608.6 638.7" fill="none" stroke="#fff" stroke-width="3.7" stroke-dasharray="13.7 5.9" stroke-dashoffset="-3"/>
<g fill="#1f77b4" stroke="#fff" stroke-width="2.5"><circle cx="313.1" cy="440.0" r="7.5"/><circle cx="312.8" cy="431.3" r="7.5"/><circle cx="319.9" cy="438.8" r="7.5"/><circle cx="332.5" cy="414.3" r="7.5"/><circle cx="353.6" cy="390.8" r="7.5"/><circle cx="308.4" cy="404.5" r="7.5"/><circle cx="298.0" cy="427.4" r="7.5"/><circle cx="318.0" cy="404.2" r="7.5"/><circle cx="304.4" cy="409.3" r="7.5"/><circle cx="331.9" cy="403.5" r="7.5"/><circle cx="325.9" cy="423.0" r="7.5"/><circle cx="295.3" cy="402.9" r="7.5"/><circle cx="311.8" cy="400.5" r="7.5"/><circle cx="355.8" cy="395.4" r="7.5"/><circle cx="313.4" cy="434.3" r="7.5"/><circle cx="352.7" cy="393.3" r="7.5"/><circle cx="312.5" cy="418.2" r="7.5"/><circle cx="302.6" cy="394.1" r="7.5"/><circle cx="298.4" cy="393.1" r="7.5"/><circle cx="292.0" cy="400.0" r="7.5"/><circle cx="330.7" cy="430.2" r="7.5"/><circle cx="302.7" cy="434.6" r="7.5"/><circle cx="353.2" cy="404.7" r="7.5"/><circle cx="336.7" cy="422.7" r="7.5"/><circle cx="319.9" cy="402.9" r="7.5"/><circle cx="307.0" cy="420.3" r="7.5"/><circle cx="335.4" cy="420.8" r="7.5"/><circle cx="338.5" cy="421.2" r="7.5"/><circle cx="332.7" cy="389.5" r="7.5"/><circle cx="318.5" cy="391.1" r="7.5"/><circle cx="357.3" cy="394.4" r="7.5"/><circle cx="340.8" cy="405.5" r="7.5"/><circle cx="323.3" cy="416.5" r="7.5"/><circle cx="305.1" cy="433.5" r="7.5"/><circle cx="338.8" cy="411.2" r="7.5"/><circle cx="294.3" cy="395.2" r="7.5"/><circle cx="322.0" cy="423.2" r="7.5"/><circle cx="318.4" cy="384.6" r="7.5"/><circle cx="323.2" cy="401.7" r="7.5"/><circle cx="316.2" cy="436.3" r="7.5"/><circle cx="338.7" cy="383.5" r="7.5"/><circle cx="302.7" cy="396.5" r="7.5"/><circle cx="293.9" cy="422.8" r="7.5"/><circle cx="308.0" cy="431.6" r="7.5"/><circle cx="318.9" cy="422.1" r="7.5"/><circle cx="333.1" cy="395.6" r="7.5"/><circle cx="294.6" cy="396.9" r="7.5"/><circle cx="339.0" cy="381.9" r="7.5"/><circle cx="290.3" cy="412.1" r="7.5"/><circle cx="303.3" cy="394.9" r="7.5"/><circle cx="306.3" cy="415.5" r="7.5"/><circle cx="334.3" cy="384.6" r="7.5"/><circle cx="294.5" cy="419.8" r="7.5"/><circle cx="300.2" cy="433.1" r="7.5"/><circle cx="306.9" cy="427.2" r="7.5"/><circle cx="338.2" cy="418.1" r="7.5"/><circle cx="312.9" cy="433.7" r="7.5"/><circle cx="323.3" cy="408.0" r="7.5"/><circle cx="343.8" cy="399.4" r="7.5"/><circle cx="348.2" cy="407.7" r="7.5"/><circle cx="326.9" cy="405.6" r="7.5"/><circle cx="342.8" cy="392.1" r="7.5"/><circle cx="338.3" cy="395.5" r="7.5"/><circle cx="340.3" cy="409.1" r="7.5"/><circle cx="326.0" cy="418.7" r="7.5"/><circle cx="311.8" cy="387.0" r="7.5"/><circle cx="316.3" cy="415.4" r="7.5"/><circle cx="304.0" cy="411.7" r="7.5"/><circle cx="296.7" cy="430.3" r="7.5"/><circle cx="323.9" cy="392.7" r="7.5"/><circle cx="315.0" cy="410.6" r="7.5"/><circle cx="314.3" cy="391.9" r="7.5"/><circle cx="318.2" cy="407.0" r="7.5"/><circle cx="341.7" cy="387.9" r="7.5"/><circle cx="338.8" cy="385.4" r="7.5"/><circle cx="332.9" cy="426.1" r="7.5"/><circle cx="335.8" cy="392.7" r="7.5"/><circle cx="294.5" cy="416.5" r="7.5"/><circle cx="323.0" cy="391.3" r="7.5"/><circle cx="337.4" cy="408.7" r="7.5"/><circle cx="345.5" cy="407.3" r="7.5"/><circle cx="320.3" cy="407.5" r="7.5"/><circle cx="306.4" cy="407.8" r="7.5"/><circle cx="319.2" cy="402.7" r="7.5"/><circle cx="345.9" cy="396.6" r="7.5"/><circle cx="311.4" cy="410.1" r="7.5"/><circle cx="316.8" cy="440.9" r="7.5"/><circle cx="302.3" cy="407.3" r="7.5"/><circle cx="343.7" cy="392.2" r="7.5"/><circle cx="320.7" cy="421.0" r="7.5"/><circle cx="312.6" cy="388.0" r="7.5"/><circle cx="303.8" cy="430.2" r="7.5"/><circle cx="292.1" cy="423.8" r="7.5"/><circle cx="307.7" cy="390.4" r="7.5"/><circle cx="324.0" cy="407.0" r="7.5"/><circle cx="332.9" cy="397.6" r="7.5"/><circle cx="343.5" cy="395.5" r="7.5"/><circle cx="338.7" cy="395.3" r="7.5"/><circle cx="322.3" cy="437.9" r="7.5"/><circle cx="297.2" cy="397.5" r="7.5"/><circle cx="299.5" cy="388.4" r="7.5"/><circle cx="337.2" cy="379.9" r="7.5"/><circle cx="330.5" cy="389.9" r="7.5"/><circle cx="316.1" cy="394.3" r="7.5"/><circle cx="290.6" cy="402.6" r="7.5"/><circle cx="309.5" cy="408.3" r="7.5"/><circle cx="326.1" cy="403.2" r="7.5"/><circle cx="346.1" cy="403.9" r="7.5"/><circle cx="357.2" cy="396.6" r="7.5"/><circle cx="292.2" cy="424.3" r="7.5"/><circle cx="317.2" cy="426.5" r="7.5"/><circle cx="326.1" cy="435.8" r="7.5"/><circle cx="266.6" cy="404.3" r="7.5"/><circle cx="297.3" cy="372.8" r="7.5"/><circle cx="337.0" cy="364.4" r="7.5"/><circle cx="375.4" cy="366.3" r="7.5"/><circle cx="379.8" cy="337.8" r="7.5"/><circle cx="105.7" cy="369.4" r="7.5"/><circle cx="333.8" cy="627.6" r="7.5"/></g>
<g fill="#ff7f0e" stroke="#fff" stroke-width="2.5"><circle cx="430.5" cy="246.1" r="7.5"/><circle cx="428.9" cy="225.4" r="7.5"/><circle cx="437.1" cy="209.6" r="7.5"/><circle cx="449.8" cy="266.2" r="7.5"/><circle cx="435.7" cy="219.6" r="7.5"/><circle cx="431.1" cy="232.0" r="7.5"/><circle cx="458.6" cy="255.3" r="7.5"/><circle cx="448.9" cy="249.2" r="7.5"/><circle cx="439.5" cy="240.3" r="7.5"/><circle cx="416.4" cy="238.6" r="7.5"/><circle cx="448.0" cy="231.9" r="7.5"/><circle cx="448.5" cy="229.5" r="7.5"/><circle cx="456.7" cy="252.3" r="7.5"/><circle cx="438.2" cy="218.5" r="7.5"/><circle cx="428.1" cy="265.5" r="7.5"/><circle cx="419.5" cy="249.6" r="7.5"/><circle cx="396.9" cy="292.6" r="7.5"/><circle cx="464.6" cy="309.8" r="7.5"/><circle cx="472.1" cy="290.9" r="7.5"/><circle cx="516.1" cy="331.3" r="7.5"/><circle cx="456.8" cy="269.2" r="7.5"/><circle cx="400.3" cy="310.9" r="7.5"/><circle cx="435.4" cy="289.4" r="7.5"/><circle cx="430.3" cy="249.4" r="7.5"/><circle cx="426.0" cy="316.5" r="7.5"/><circle cx="429.9" cy="267.2" r="7.5"/><circle cx="451.3" cy="273.1" r="7.5"/><circle cx="445.7" cy="265.8" r="7.5"/><circle cx="400.7" cy="305.9" r="7.5"/><circle cx="452.6" cy="322.8" r="7.5"/><circle cx="437.8" cy="257.2" r="7.5"/><circle cx="528.1" cy="307.0" r="7.5"/><circle cx="472.4" cy="307.1" r="7.5"/><circle cx="534.7" cy="313.7" r="7.5"/><circle cx="516.8" cy="311.9" r="7.5"/><circle cx="481.3" cy="303.4" r="7.5"/><circle cx="472.0" cy="310.9" r="7.5"/><circle cx="401.3" cy="332.3" r="7.5"/><circle cx="453.4" cy="299.6" r="7.5"/><circle cx="472.4" cy="325.7" r="7.5"/><circle cx="390.3" cy="305.2" r="7.5"/><circle cx="450.0" cy="329.7" r="7.5"/><circle cx="467.6" cy="292.6" r="7.5"/><circle cx="464.8" cy="330.7" r="7.5"/><circle cx="448.2" cy="261.8" r="7.5"/><circle cx="445.9" cy="317.6" r="7.5"/><circle cx="438.3" cy="293.4" r="7.5"/><circle cx="442.5" cy="317.8" r="7.5"/><circle cx="454.1" cy="332.1" r="7.5"/><circle cx="401.4" cy="300.5" r="7.5"/><circle cx="403.6" cy="291.3" r="7.5"/><circle cx="432.9" cy="257.7" r="7.5"/><circle cx="444.8" cy="253.4" r="7.5"/><circle cx="443.4" cy="301.4" r="7.5"/><circle cx="458.7" cy="295.1" r="7.5"/><circle cx="438.6" cy="309.3" r="7.5"/><circle cx="468.0" cy="331.1" r="7.5"/><circle cx="433.8" cy="299.3" r="7.5"/><circle cx="438.9" cy="259.4" r="7.5"/><circle cx="430.3" cy="280.8" r="7.5"/><circle cx="472.2" cy="305.7" r="7.5"/><circle cx="409.3" cy="283.4" r="7.5"/><circle cx="451.7" cy="294.0" r="7.5"/><circle cx="386.7" cy="311.4" r="7.5"/><circle cx="418.2" cy="316.0" r="7.5"/><circle cx="445.9" cy="271.0" r="7.5"/><circle cx="428.3" cy="301.6" r="7.5"/><circle cx="441.3" cy="251.0" r="7.5"/><circle cx="422.1" cy="311.5" r="7.5"/><circle cx="426.5" cy="279.6" r="7.5"/><circle cx="514.3" cy="304.6" r="7.5"/><circle cx="406.2" cy="319.8" r="7.5"/><circle cx="532.7" cy="322.1" r="7.5"/><circle cx="442.3" cy="276.1" r="7.5"/><circle cx="459.6" cy="314.6" r="7.5"/><circle cx="444.0" cy="324.2" r="7.5"/><circle cx="454.0" cy="294.3" r="7.5"/><circle cx="483.3" cy="306.2" r="7.5"/><circle cx="487.8" cy="304.0" r="7.5"/><circle cx="431.7" cy="293.0" r="7.5"/><circle cx="458.3" cy="267.2" r="7.5"/><circle cx="420.9" cy="326.1" r="7.5"/><circle cx="414.6" cy="278.1" r="7.5"/><circle cx="505.6" cy="324.9" r="7.5"/><circle cx="424.7" cy="263.4" r="7.5"/><circle cx="431.6" cy="300.5" r="7.5"/><circle cx="432.0" cy="327.5" r="7.5"/><circle cx="466.0" cy="311.7" r="7.5"/><circle cx="418.1" cy="290.2" r="7.5"/><circle cx="467.9" cy="302.5" r="7.5"/><circle cx="464.7" cy="325.3" r="7.5"/><circle cx="484.6" cy="329.1" r="7.5"/><circle cx="459.1" cy="289.3" r="7.5"/><circle cx="425.2" cy="251.3" r="7.5"/><circle cx="435.8" cy="328.7" r="7.5"/><circle cx="406.1" cy="318.1" r="7.5"/><circle cx="429.5" cy="292.7" r="7.5"/><circle cx="479.6" cy="318.9" r="7.5"/><circle cx="486.7" cy="317.3" r="7.5"/><circle cx="420.4" cy="272.3" r="7.5"/><circle cx="452.6" cy="303.9" r="7.5"/><circle cx="403.0" cy="248.0" r="7.5"/><circle cx="413.7" cy="290.5" r="7.5"/><circle cx="438.6" cy="257.7" r="7.5"/><circle cx="420.7" cy="258.0" r="7.5"/><circle cx="528.3" cy="315.4" r="7.5"/><circle cx="451.3" cy="278.3" r="7.5"/><circle cx="495.5" cy="299.8" r="7.5"/><circle cx="408.8" cy="299.5" r="7.5"/><circle cx="478.1" cy="319.9" r="7.5"/><circle cx="397.7" cy="303.4" r="7.5"/><circle cx="437.7" cy="256.5" r="7.5"/><circle cx="425.1" cy="283.9" r="7.5"/><circle cx="480.7" cy="328.3" r="7.5"/><circle cx="469.8" cy="297.1" r="7.5"/><circle cx="436.0" cy="314.9" r="7.5"/><circle cx="424.1" cy="329.2" r="7.5"/><circle cx="440.2" cy="331.7" r="7.5"/><circle cx="503.3" cy="314.5" r="7.5"/><circle cx="454.1" cy="306.6" r="7.5"/><circle cx="420.7" cy="256.8" r="7.5"/><circle cx="436.3" cy="281.6" r="7.5"/><circle cx="476.7" cy="303.7" r="7.5"/><circle cx="509.5" cy="324.2" r="7.5"/><circle cx="451.4" cy="333.0" r="7.5"/><circle cx="412.9" cy="279.5" r="7.5"/><circle cx="493.2" cy="316.5" r="7.5"/><circle cx="427.5" cy="320.9" r="7.5"/><circle cx="469.2" cy="324.8" r="7.5"/><circle cx="506.3" cy="299.5" r="7.5"/><circle cx="417.6" cy="306.9" r="7.5"/><circle cx="478.6" cy="326.5" r="7.5"/><circle cx="443.0" cy="248.3" r="7.5"/><circle cx="425.0" cy="289.6" r="7.5"/><circle cx="453.6" cy="301.4" r="7.5"/><circle cx="475.0" cy="300.9" r="7.5"/><circle cx="470.9" cy="296.7" r="7.5"/><circle cx="415.3" cy="309.7" r="7.5"/><circle cx="465.0" cy="306.1" r="7.5"/><circle cx="433.8" cy="307.5" r="7.5"/><circle cx="458.9" cy="287.7" r="7.5"/><circle cx="474.7" cy="310.5" r="7.5"/><circle cx="414.8" cy="287.1" r="7.5"/><circle cx="414.9" cy="304.2" r="7.5"/><circle cx="430.6" cy="289.9" r="7.5"/><circle cx="480.0" cy="312.5" r="7.5"/><circle cx="432.0" cy="303.9" r="7.5"/><circle cx="429.3" cy="250.4" r="7.5"/><circle cx="393.7" cy="294.4" r="7.5"/><circle cx="390.3" cy="311.4" r="7.5"/><circle cx="396.1" cy="299.2" r="7.5"/><circle cx="527.0" cy="324.1" r="7.5"/><circle cx="469.2" cy="295.5" r="7.5"/><circle cx="446.2" cy="322.9" r="7.5"/><circle cx="394.9" cy="306.4" r="7.5"/><circle cx="428.4" cy="268.3" r="7.5"/><circle cx="418.0" cy="281.4" r="7.5"/><circle cx="458.7" cy="266.7" r="7.5"/><circle cx="508.0" cy="311.6" r="7.5"/><circle cx="400.6" cy="317.1" r="7.5"/><circle cx="450.0" cy="320.1" r="7.5"/><circle cx="421.9" cy="274.6" r="7.5"/><circle cx="402.5" cy="298.0" r="7.5"/><circle cx="477.3" cy="325.1" r="7.5"/><circle cx="505.3" cy="311.8" r="7.5"/><circle cx="434.8" cy="258.9" r="7.5"/><circle cx="441.6" cy="142.3" r="7.5"/><circle cx="433.9" cy="157.4" r="7.5"/><circle cx="429.9" cy="160.5" r="7.5"/><circle cx="420.7" cy="169.1" r="7.5"/><circle cx="432.4" cy="198.7" r="7.5"/><circle cx="439.8" cy="203.9" r="7.5"/><circle cx="449.0" cy="221.5" r="7.5"/><circle cx="429.3" cy="221.5" r="7.5"/><circle cx="413.3" cy="226.5" r="7.5"/><circle cx="441.6" cy="233.2" r="7.5"/><circle cx="425.0" cy="239.1" r="7.5"/><circle cx="469.2" cy="234.8" r="7.5"/><circle cx="399.1" cy="248.0" r="7.5"/><circle cx="491.4" cy="253.8" r="7.5"/><circle cx="419.2" cy="254.8" r="7.5"/><circle cx="441.6" cy="259.7" r="7.5"/><circle cx="459.8" cy="259.7" r="7.5"/><circle cx="420.7" cy="264.7" r="7.5"/><circle cx="414.9" cy="274.7" r="7.5"/><circle cx="474.8" cy="279.7" r="7.5"/><circle cx="399.5" cy="247.4" r="7.5"/><circle cx="419.5" cy="254.7" r="7.5"/><circle cx="441.6" cy="260.0" r="7.5"/><circle cx="461.6" cy="260.0" r="7.5"/><circle cx="415.3" cy="273.7" r="7.5"/><circle cx="476.3" cy="280.0" r="7.5"/><circle cx="441.6" cy="291.6" r="7.5"/><circle cx="454.2" cy="294.7" r="7.5"/><circle cx="503.7" cy="290.5" r="7.5"/><circle cx="482.6" cy="301.1" r="7.5"/><circle cx="388.9" cy="297.9" r="7.5"/><circle cx="411.1" cy="301.1" r="7.5"/><circle cx="420.5" cy="310.5" r="7.5"/><circle cx="462.6" cy="308.4" r="7.5"/><circle cx="381.6" cy="310.5" r="7.5"/><circle cx="404.7" cy="317.9" r="7.5"/><circle cx="444.7" cy="317.9" r="7.5"/><circle cx="431.1" cy="329.5" r="7.5"/><circle cx="459.5" cy="334.7" r="7.5"/><circle cx="396.3" cy="337.9" r="7.5"/><circle cx="513.2" cy="298.9" r="7.5"/><circle cx="531.7" cy="299.6" r="7.5"/><circle cx="543.7" cy="316.8" r="7.5"/><circle cx="526.8" cy="321.1" r="7.5"/><circle cx="513.2" cy="330.5" r="7.5"/><circle cx="486.8" cy="332.6" r="7.5"/><circle cx="500.5" cy="324.2" r="7.5"/><circle cx="429.3" cy="50.2" r="7.5"/><circle cx="697.4" cy="369.4" r="7.5"/><circle cx="388.6" cy="349.1" r="7.5"/><circle cx="395.3" cy="337.8" r="7.5"/></g>
</g>
<rect x="534.5" y="24.5" width="174.8" height="88.5" rx="4.5" fill="#fff" fill-opacity="0.8" stroke="#ccc" stroke-opacity="0.8" stroke-width="1.3"/>
<circle cx="573.7" cy="49.4" r="7.5" fill="#1f77b4" stroke="#fff" stroke-width="2.5"/><circle cx="573.7" cy="89.2" r="7.5" fill="#ff7f0e" stroke="#fff" stroke-width="2.5"/>
<g stroke="#262626" stroke-width="3.08" fill="none" stroke-linecap="square"><rect x="105.7" y="11.4" width="616.4" height="616.2"/></g>
<rect x="781.6" y="11.4" width="31.0" height="616.2" fill="url(#cb)" stroke="#262626" stroke-width="3.08"/>
<g stroke="#262626" stroke-width="3.08"><line x1="105.7" y1="627.6" x2="105.7" y2="642.4"/><line x1="105.7" y1="627.6" x2="90.9" y2="627.6"/><line x1="229.0" y1="627.6" x2="229.0" y2="642.4"/><line x1="105.7" y1="504.4" x2="90.9" y2="504.4"/><line x1="352.3" y1="627.6" x2="352.3" y2="642.4"/><line x1="105.7" y1="381.1" x2="90.9" y2="381.1"/><line x1="475.5" y1="627.6" x2="475.5" y2="642.4"/><line x1="105.7" y1="257.9" x2="90.9" y2="257.9"/><line x1="598.8" y1="627.6" x2="598.8" y2="642.4"/><line x1="105.7" y1="134.6" x2="90.9" y2="134.6"/><line x1="722.1" y1="627.6" x2="722.1" y2="642.4"/><line x1="105.7" y1="11.4" x2="90.9" y2="11.4"/><line x1="812.6" y1="11.4" x2="826.8" y2="11.4"/><line x1="812.6" y1="319.5" x2="826.8" y2="319.5"/><line x1="812.6" y1="627.6" x2="826.8" y2="627.6"/></g>
<g fill="#262626" font-family="'DejaVu Sans','Liberation Sans',sans-serif" font-size="27.1">
<text x="105.7" y="674" text-anchor="middle">0.0</text>
<text x="80.4" y="637.9" text-anchor="end">0.0</text>
<text x="229.0" y="674" text-anchor="middle">0.2</text>
<text x="80.4" y="514.7" text-anchor="end">0.2</text>
<text x="352.3" y="674" text-anchor="middle">0.4</text>
<text x="80.4" y="391.4" text-anchor="end">0.4</text>
<text x="475.5" y="674" text-anchor="middle">0.6</text>
<text x="80.4" y="268.2" text-anchor="end">0.6</text>
<text x="598.8" y="674" text-anchor="middle">0.8</text>
<text x="80.4" y="144.9" text-anchor="end">0.8</text>
<text x="722.1" y="674" text-anchor="middle">1.0</text>
<text x="80.4" y="21.7" text-anchor="end">1.0</text>
<text x="838" y="21.6">EQ</text><text x="838" y="329.7">?</text><text x="838" y="637.9">Noise</text>
<text x="622.9" y="57.2">Noise</text><text x="622.9" y="96.7">EQ</text>
<text x="399.4" y="714.4" font-size="29.6"><tspan font-style="italic">x</tspan><tspan font-size="20.7" dx="0.3" dy="4.9">0</tspan></text>
<text transform="translate(18.3,334.2) rotate(-90)" font-size="29.6"><tspan font-style="italic">x</tspan><tspan font-size="20.7" dy="4.4">1</tspan></text>
<text transform="translate(947.5,320.2) rotate(-90)" font-size="29.6" text-anchor="middle">SVM Decision Function</text>
</g></svg>
</body></html>
